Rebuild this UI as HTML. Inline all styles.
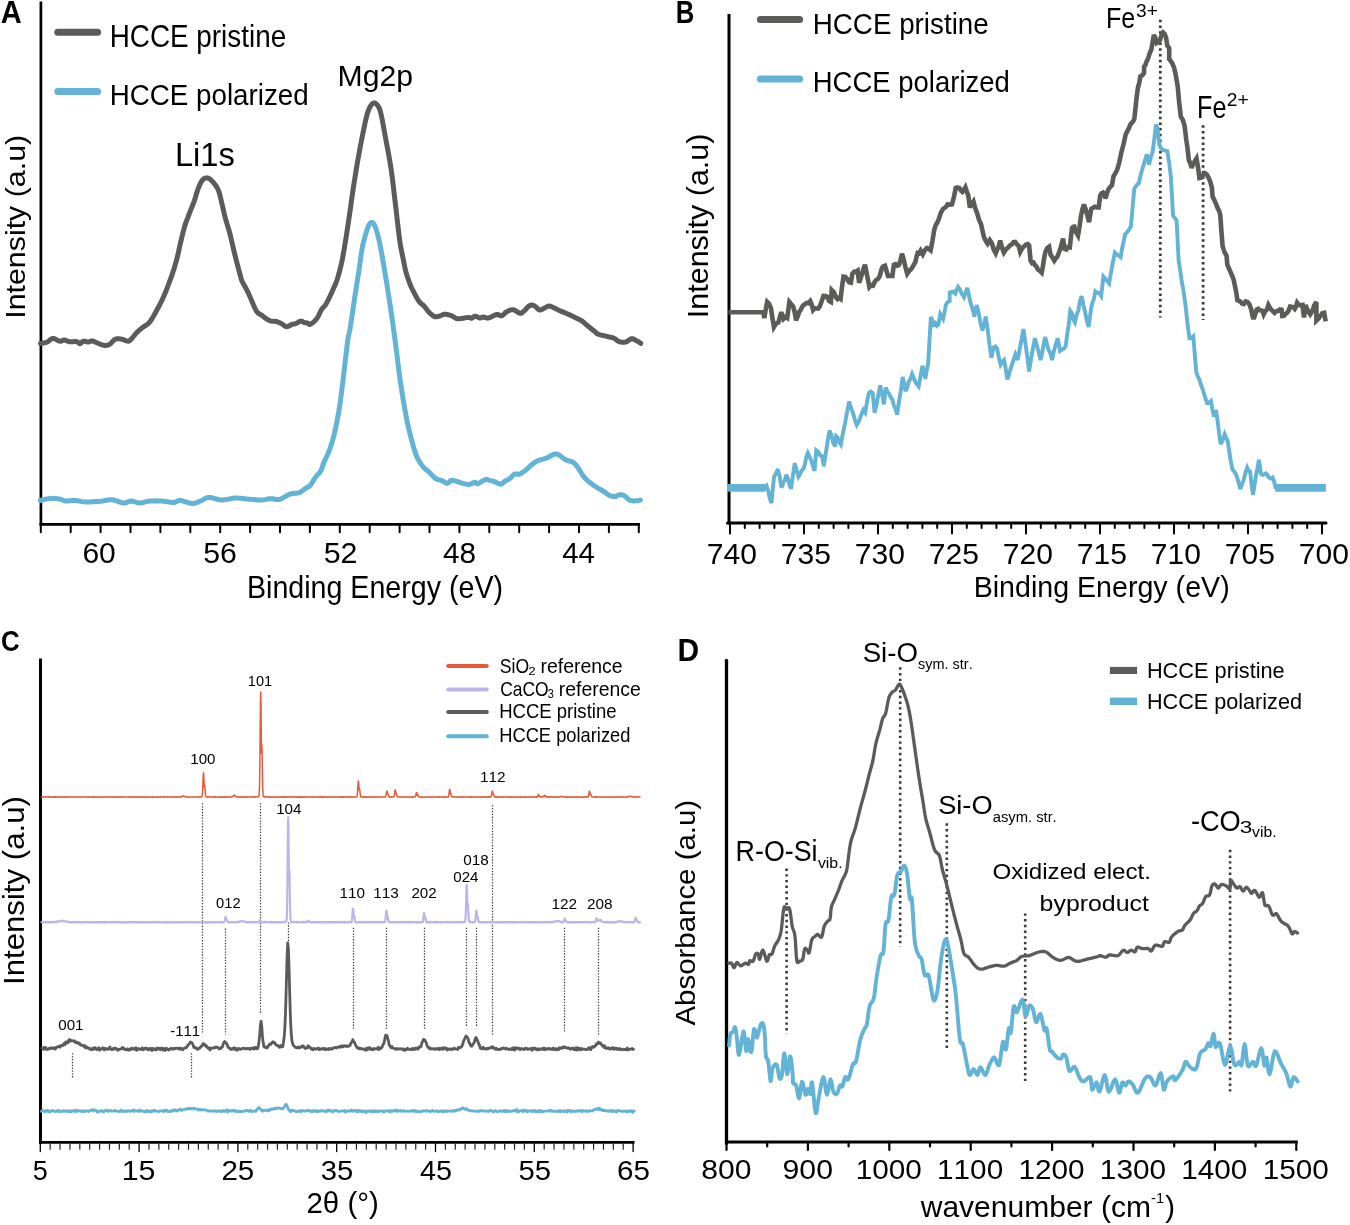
<!DOCTYPE html>
<html><head><meta charset="utf-8"><title>Figure</title>
<style>
html,body{margin:0;padding:0;background:#fff;}
svg{display:block;}
svg text{font-family:"Liberation Sans", sans-serif;font-kerning:none;font-variant-ligatures:none;}
svg{will-change:transform;}
</style></head>
<body>
<svg width="1350" height="1225" viewBox="0 0 1350 1225">
<rect width="1350" height="1225" fill="#fff"/>
<line x1="40.90" y1="1.50" x2="40.90" y2="525.60" stroke="#000" stroke-width="2.70" stroke-linecap="butt"/>
<line x1="39.60" y1="524.30" x2="640.00" y2="524.30" stroke="#000" stroke-width="2.70" stroke-linecap="butt"/>
<line x1="40.80" y1="524.30" x2="40.80" y2="532.20" stroke="#000" stroke-width="2.00" stroke-linecap="round"/>
<line x1="70.70" y1="524.30" x2="70.70" y2="532.20" stroke="#000" stroke-width="2.00" stroke-linecap="round"/>
<line x1="100.60" y1="524.30" x2="100.60" y2="532.20" stroke="#000" stroke-width="2.00" stroke-linecap="round"/>
<line x1="130.50" y1="524.30" x2="130.50" y2="532.20" stroke="#000" stroke-width="2.00" stroke-linecap="round"/>
<line x1="160.40" y1="524.30" x2="160.40" y2="532.20" stroke="#000" stroke-width="2.00" stroke-linecap="round"/>
<line x1="190.30" y1="524.30" x2="190.30" y2="532.20" stroke="#000" stroke-width="2.00" stroke-linecap="round"/>
<line x1="220.20" y1="524.30" x2="220.20" y2="532.20" stroke="#000" stroke-width="2.00" stroke-linecap="round"/>
<line x1="250.10" y1="524.30" x2="250.10" y2="532.20" stroke="#000" stroke-width="2.00" stroke-linecap="round"/>
<line x1="280.00" y1="524.30" x2="280.00" y2="532.20" stroke="#000" stroke-width="2.00" stroke-linecap="round"/>
<line x1="309.90" y1="524.30" x2="309.90" y2="532.20" stroke="#000" stroke-width="2.00" stroke-linecap="round"/>
<line x1="339.80" y1="524.30" x2="339.80" y2="532.20" stroke="#000" stroke-width="2.00" stroke-linecap="round"/>
<line x1="369.70" y1="524.30" x2="369.70" y2="532.20" stroke="#000" stroke-width="2.00" stroke-linecap="round"/>
<line x1="399.60" y1="524.30" x2="399.60" y2="532.20" stroke="#000" stroke-width="2.00" stroke-linecap="round"/>
<line x1="429.50" y1="524.30" x2="429.50" y2="532.20" stroke="#000" stroke-width="2.00" stroke-linecap="round"/>
<line x1="459.40" y1="524.30" x2="459.40" y2="532.20" stroke="#000" stroke-width="2.00" stroke-linecap="round"/>
<line x1="489.30" y1="524.30" x2="489.30" y2="532.20" stroke="#000" stroke-width="2.00" stroke-linecap="round"/>
<line x1="519.20" y1="524.30" x2="519.20" y2="532.20" stroke="#000" stroke-width="2.00" stroke-linecap="round"/>
<line x1="549.10" y1="524.30" x2="549.10" y2="532.20" stroke="#000" stroke-width="2.00" stroke-linecap="round"/>
<line x1="579.00" y1="524.30" x2="579.00" y2="532.20" stroke="#000" stroke-width="2.00" stroke-linecap="round"/>
<line x1="608.90" y1="524.30" x2="608.90" y2="532.20" stroke="#000" stroke-width="2.00" stroke-linecap="round"/>
<line x1="638.80" y1="524.30" x2="638.80" y2="532.20" stroke="#000" stroke-width="2.00" stroke-linecap="round"/>
<text transform="translate(82.38,563.40) scale(1.0277,1)" x="0.00" y="0" font-size="29.22" fill="#000">60</text>
<text transform="translate(203.29,563.40) scale(1.0352,1)" x="0.00" y="0" font-size="29.22" fill="#000">56</text>
<text transform="translate(323.68,563.40) scale(1.0416,1)" x="0.00" y="0" font-size="29.22" fill="#000">52</text>
<text transform="translate(442.92,563.40) scale(1.0178,1)" x="0.00" y="0" font-size="29.22" fill="#000">48</text>
<text transform="translate(562.13,563.40) scale(1.0042,1)" x="0.00" y="0" font-size="29.22" fill="#000">44</text>
<text transform="translate(246.95,597.80) scale(0.9332,1)" x="0.00" y="0" font-size="30.67" fill="#000">Binding Energy (eV)</text>
<text transform="translate(25.30,316.00) rotate(-90) scale(1.0660,1)" x="-2.63" y="0" font-size="28.49" fill="#000">Intensity (a.u)</text>
<text transform="translate(0.78,23.10) scale(0.9522,1)" x="0.00" y="0" font-size="30.52" font-weight="bold" fill="#000">A</text>
<line x1="57.80" y1="32.30" x2="97.60" y2="32.30" stroke="#5b5b5a" stroke-width="7.00" stroke-linecap="round"/>
<line x1="57.80" y1="91.40" x2="97.60" y2="91.40" stroke="#63b3d7" stroke-width="7.00" stroke-linecap="round"/>
<text transform="translate(109.71,46.60) scale(0.9000,1)" x="0.00" y="0" font-size="30.96" fill="#000">HCCE pristine</text>
<text transform="translate(109.72,105.00) scale(0.9273,1)" x="0.00" y="0" font-size="29.94" fill="#000">HCCE polarized</text>
<text transform="translate(174.92,166.00) scale(1.0039,1)" x="0.00" y="0" font-size="32.56" fill="#000">Li1s</text>
<text transform="translate(337.53,85.80) scale(1.0272,1)" x="0.00" y="0" font-size="29.36" fill="#000">Mg2p</text>
<path d="M40.50,343.50 L40.67,343.48 L40.88,343.46 L41.14,343.42 L41.47,343.38 L41.89,343.31 L42.40,343.20 L43.03,343.08 L43.78,342.96 L44.61,342.81 L45.50,342.61 L46.40,342.35 L47.30,342.00 L48.19,341.46 L49.11,340.74 L50.04,339.95 L51.00,339.21 L51.99,338.66 L53.00,338.40 L54.07,338.54 L55.20,339.01 L56.35,339.65 L57.49,340.33 L58.59,340.89 L59.60,341.20 L60.52,341.20 L61.36,340.99 L62.16,340.67 L62.93,340.33 L63.70,340.08 L64.50,340.00 L65.29,340.14 L66.04,340.41 L66.80,340.77 L67.59,341.15 L68.44,341.48 L69.40,341.70 L70.52,341.78 L71.80,341.75 L73.15,341.68 L74.47,341.61 L75.69,341.60 L76.70,341.70 L77.48,341.97 L78.10,342.39 L78.60,342.86 L79.05,343.29 L79.50,343.60 L80.00,343.70 L80.53,343.51 L81.04,343.08 L81.55,342.53 L82.08,341.96 L82.66,341.48 L83.30,341.20 L84.03,341.16 L84.85,341.29 L85.71,341.51 L86.57,341.75 L87.42,341.94 L88.20,342.00 L88.92,341.90 L89.60,341.67 L90.25,341.40 L90.89,341.14 L91.54,340.95 L92.20,340.90 L92.84,341.00 L93.44,341.19 L94.04,341.46 L94.69,341.78 L95.42,342.13 L96.30,342.50 L97.36,342.94 L98.59,343.48 L99.90,344.05 L101.24,344.59 L102.53,345.03 L103.70,345.30 L104.75,345.43 L105.73,345.46 L106.66,345.40 L107.56,345.23 L108.47,344.93 L109.40,344.50 L110.34,343.83 L111.27,342.91 L112.20,341.86 L113.14,340.83 L114.10,339.93 L115.10,339.30 L116.14,338.95 L117.20,338.78 L118.29,338.74 L119.40,338.81 L120.50,338.94 L121.60,339.10 L122.72,339.38 L123.89,339.83 L125.06,340.34 L126.19,340.81 L127.25,341.13 L128.20,341.20 L129.01,341.00 L129.69,340.62 L130.31,340.09 L130.90,339.46 L131.51,338.75 L132.20,338.00 L132.95,337.17 L133.73,336.23 L134.54,335.21 L135.37,334.16 L136.22,333.14 L137.10,332.20 L138.01,331.33 L138.94,330.50 L139.90,329.69 L140.88,328.90 L141.88,328.11 L142.90,327.30 L143.94,326.55 L145.01,325.88 L146.11,325.21 L147.21,324.46 L148.31,323.55 L149.40,322.40 L150.46,321.03 L151.50,319.50 L152.54,317.81 L153.61,315.97 L154.72,313.96 L155.90,311.80 L157.17,309.47 L158.51,306.97 L159.90,304.31 L161.31,301.51 L162.72,298.57 L164.10,295.50 L165.49,292.19 L166.93,288.61 L168.36,284.90 L169.74,281.19 L171.04,277.61 L172.20,274.30 L173.22,271.28 L174.13,268.44 L174.95,265.74 L175.70,263.13 L176.41,260.57 L177.10,258.00 L177.73,255.48 L178.29,253.04 L178.80,250.65 L179.30,248.26 L179.82,245.82 L180.40,243.30 L181.04,240.62 L181.71,237.81 L182.40,234.95 L183.10,232.14 L183.81,229.46 L184.50,227.00 L185.16,224.84 L185.81,222.93 L186.45,221.15 L187.11,219.39 L187.82,217.55 L188.60,215.50 L189.49,213.19 L190.47,210.69 L191.50,208.09 L192.52,205.51 L193.47,203.05 L194.30,200.80 L194.98,198.78 L195.55,196.90 L196.06,195.14 L196.54,193.46 L197.04,191.83 L197.60,190.20 L198.22,188.54 L198.88,186.87 L199.55,185.24 L200.23,183.71 L200.92,182.35 L201.60,181.20 L202.27,180.28 L202.93,179.53 L203.59,178.94 L204.27,178.50 L204.97,178.19 L205.70,178.00 L206.44,177.89 L207.18,177.87 L207.94,177.99 L208.75,178.28 L209.63,178.80 L210.60,179.60 L211.73,180.70 L213.01,182.08 L214.36,183.69 L215.69,185.47 L216.93,187.39 L218.00,189.40 L218.87,191.56 L219.61,193.93 L220.26,196.44 L220.84,199.00 L221.41,201.55 L222.00,204.00 L222.57,206.34 L223.10,208.64 L223.61,210.91 L224.12,213.21 L224.68,215.56 L225.30,218.00 L226.00,220.51 L226.77,223.05 L227.57,225.64 L228.39,228.32 L229.21,231.10 L230.00,234.00 L230.76,237.04 L231.50,240.21 L232.24,243.49 L232.99,246.84 L233.77,250.25 L234.60,253.70 L235.53,257.39 L236.56,261.40 L237.62,265.46 L238.64,269.33 L239.56,272.76 L240.30,275.50 L240.80,277.37 L241.09,278.54 L241.28,279.26 L241.46,279.82 L241.74,280.47 L242.20,281.50 L242.87,282.85 L243.66,284.30 L244.55,285.84 L245.49,287.49 L246.45,289.24 L247.40,291.10 L248.37,293.17 L249.40,295.47 L250.44,297.88 L251.47,300.26 L252.44,302.48 L253.30,304.40 L254.03,306.03 L254.64,307.47 L255.19,308.75 L255.74,309.90 L256.32,310.94 L257.00,311.90 L257.80,312.75 L258.68,313.44 L259.60,314.04 L260.52,314.57 L261.40,315.07 L262.20,315.60 L262.89,316.13 L263.49,316.64 L264.05,317.12 L264.61,317.59 L265.21,318.04 L265.90,318.50 L266.68,318.98 L267.52,319.47 L268.41,319.96 L269.31,320.41 L270.22,320.80 L271.10,321.10 L271.97,321.27 L272.83,321.33 L273.70,321.33 L274.57,321.31 L275.43,321.35 L276.30,321.50 L277.17,321.75 L278.03,322.07 L278.90,322.44 L279.77,322.84 L280.63,323.27 L281.50,323.70 L282.37,324.22 L283.23,324.84 L284.10,325.48 L284.97,326.06 L285.83,326.50 L286.70,326.70 L287.58,326.60 L288.49,326.27 L289.39,325.78 L290.28,325.24 L291.12,324.75 L291.90,324.40 L292.59,324.21 L293.19,324.12 L293.76,324.07 L294.32,324.01 L294.92,323.91 L295.60,323.70 L296.39,323.33 L297.25,322.82 L298.15,322.26 L299.05,321.73 L299.91,321.32 L300.70,321.10 L301.41,321.13 L302.06,321.34 L302.68,321.66 L303.27,322.03 L303.84,322.37 L304.40,322.60 L304.95,322.72 L305.47,322.78 L305.97,322.81 L306.46,322.83 L306.93,322.89 L307.40,323.00 L307.84,323.23 L308.24,323.55 L308.63,323.91 L309.04,324.21 L309.48,324.40 L310.00,324.40 L310.60,324.18 L311.27,323.81 L311.98,323.32 L312.71,322.74 L313.42,322.13 L314.10,321.50 L314.74,320.88 L315.36,320.23 L315.98,319.53 L316.58,318.77 L317.19,317.94 L317.80,317.00 L318.42,315.90 L319.03,314.64 L319.65,313.29 L320.27,311.95 L320.88,310.69 L321.50,309.60 L322.12,308.72 L322.73,308.00 L323.35,307.36 L323.97,306.73 L324.58,306.03 L325.20,305.20 L325.81,304.25 L326.41,303.24 L327.01,302.17 L327.61,301.03 L328.24,299.81 L328.90,298.50 L329.60,297.06 L330.34,295.49 L331.10,293.84 L331.86,292.16 L332.60,290.49 L333.30,288.90 L333.95,287.47 L334.55,286.19 L335.14,284.92 L335.73,283.56 L336.34,281.96 L337.00,280.00 L337.72,277.67 L338.49,275.05 L339.29,272.21 L340.09,269.18 L340.86,266.03 L341.60,262.80 L342.28,259.54 L342.92,256.21 L343.54,252.76 L344.17,249.12 L344.81,245.22 L345.50,241.00 L346.25,236.27 L347.06,231.04 L347.89,225.55 L348.71,220.05 L349.49,214.79 L350.20,210.00 L350.79,205.88 L351.29,202.28 L351.74,198.91 L352.20,195.49 L352.74,191.75 L353.40,187.40 L354.19,182.36 L355.07,176.83 L356.02,170.98 L357.02,164.96 L358.05,158.95 L359.10,153.10 L360.21,147.14 L361.42,140.87 L362.66,134.60 L363.87,128.64 L365.00,123.31 L366.00,118.90 L366.83,115.54 L367.55,112.99 L368.18,111.07 L368.77,109.56 L369.37,108.27 L370.00,107.00 L370.67,105.78 L371.33,104.79 L372.00,104.01 L372.67,103.44 L373.33,103.08 L374.00,102.90 L374.68,102.94 L375.37,103.22 L376.06,103.69 L376.74,104.34 L377.39,105.12 L378.00,106.00 L378.54,106.88 L379.02,107.74 L379.47,108.75 L379.93,110.03 L380.43,111.74 L381.00,114.00 L381.64,116.87 L382.31,120.25 L383.03,124.05 L383.79,128.18 L384.58,132.56 L385.40,137.10 L386.29,141.87 L387.25,146.96 L388.25,152.30 L389.25,157.81 L390.21,163.44 L391.10,169.10 L391.91,174.86 L392.67,180.77 L393.39,186.80 L394.09,192.88 L394.79,198.97 L395.50,205.00 L396.24,211.21 L396.98,217.70 L397.73,224.18 L398.45,230.40 L399.15,236.10 L399.80,241.00 L400.40,244.97 L400.96,248.18 L401.48,250.87 L401.99,253.25 L402.49,255.55 L403.00,258.00 L403.50,260.54 L403.98,263.00 L404.45,265.37 L404.93,267.67 L405.44,269.91 L406.00,272.10 L406.61,274.25 L407.27,276.37 L407.95,278.42 L408.64,280.39 L409.33,282.26 L410.00,284.00 L410.63,285.57 L411.22,286.96 L411.81,288.26 L412.42,289.51 L413.08,290.81 L413.80,292.20 L414.61,293.75 L415.49,295.42 L416.42,297.12 L417.36,298.77 L418.30,300.29 L419.20,301.60 L420.07,302.64 L420.93,303.46 L421.78,304.15 L422.63,304.80 L423.47,305.48 L424.30,306.30 L425.12,307.27 L425.91,308.33 L426.71,309.43 L427.51,310.53 L428.33,311.57 L429.20,312.50 L430.12,313.37 L431.10,314.24 L432.09,315.04 L433.09,315.75 L434.07,316.32 L435.00,316.70 L435.88,316.85 L436.73,316.80 L437.55,316.61 L438.36,316.34 L439.18,316.05 L440.00,315.80 L440.81,315.54 L441.60,315.20 L442.39,314.84 L443.21,314.52 L444.07,314.29 L445.00,314.20 L446.03,314.27 L447.14,314.45 L448.30,314.72 L449.47,315.05 L450.62,315.42 L451.70,315.80 L452.66,316.26 L453.51,316.82 L454.34,317.43 L455.23,317.99 L456.25,318.44 L457.50,318.70 L459.10,318.71 L461.00,318.53 L463.05,318.23 L465.06,317.90 L466.87,317.63 L468.30,317.50 L469.30,317.55 L469.99,317.73 L470.47,317.96 L470.85,318.17 L471.22,318.31 L471.70,318.30 L472.24,318.07 L472.74,317.67 L473.25,317.19 L473.78,316.72 L474.35,316.36 L475.00,316.20 L475.75,316.31 L476.60,316.61 L477.50,317.03 L478.40,317.46 L479.25,317.82 L480.00,318.00 L480.63,317.97 L481.16,317.80 L481.65,317.55 L482.14,317.29 L482.67,317.08 L483.30,317.00 L484.00,317.10 L484.71,317.35 L485.48,317.66 L486.32,317.93 L487.25,318.07 L488.30,318.00 L489.54,317.62 L490.97,316.99 L492.50,316.23 L494.03,315.48 L495.46,314.86 L496.70,314.50 L497.73,314.50 L498.62,314.78 L499.41,315.19 L500.16,315.59 L500.91,315.84 L501.70,315.80 L502.51,315.40 L503.31,314.76 L504.10,313.96 L504.91,313.11 L505.77,312.32 L506.70,311.70 L507.71,311.18 L508.78,310.67 L509.89,310.22 L511.03,309.87 L512.18,309.68 L513.30,309.70 L514.44,310.05 L515.62,310.71 L516.80,311.53 L517.95,312.34 L519.03,312.99 L520.00,313.30 L520.83,313.27 L521.53,313.03 L522.16,312.62 L522.77,312.08 L523.44,311.46 L524.20,310.80 L525.08,309.98 L526.04,308.95 L527.05,307.84 L528.07,306.77 L529.06,305.88 L530.00,305.30 L530.88,305.05 L531.73,305.02 L532.55,305.17 L533.36,305.45 L534.18,305.81 L535.00,306.20 L535.80,306.75 L536.54,307.53 L537.29,308.39 L538.09,309.19 L538.98,309.77 L540.00,310.00 L541.23,309.75 L542.64,309.11 L544.15,308.26 L545.66,307.37 L547.07,306.63 L548.30,306.20 L549.30,306.10 L550.15,306.18 L550.90,306.41 L551.63,306.73 L552.41,307.11 L553.30,307.50 L554.30,307.93 L555.35,308.45 L556.44,309.02 L557.59,309.62 L558.77,310.22 L560.00,310.80 L561.29,311.35 L562.64,311.90 L564.04,312.45 L565.47,313.01 L566.89,313.59 L568.30,314.20 L569.73,314.86 L571.22,315.57 L572.71,316.31 L574.15,317.03 L575.50,317.70 L576.70,318.30 L577.73,318.79 L578.62,319.19 L579.41,319.54 L580.16,319.90 L580.91,320.30 L581.70,320.80 L582.50,321.37 L583.24,321.98 L583.99,322.64 L584.79,323.35 L585.68,324.14 L586.70,325.00 L587.95,326.02 L589.41,327.20 L590.96,328.46 L592.48,329.69 L593.87,330.80 L595.00,331.70 L595.76,332.36 L596.22,332.84 L596.54,333.21 L596.89,333.52 L597.42,333.83 L598.30,334.20 L599.63,334.63 L601.29,335.07 L603.14,335.51 L605.02,335.93 L606.79,336.34 L608.30,336.70 L609.53,337.00 L610.60,337.23 L611.56,337.44 L612.45,337.67 L613.32,337.94 L614.20,338.30 L615.07,338.80 L615.87,339.41 L616.66,340.08 L617.45,340.73 L618.28,341.29 L619.20,341.70 L620.22,341.97 L621.31,342.16 L622.44,342.27 L623.59,342.28 L624.72,342.19 L625.80,342.00 L626.83,341.60 L627.85,340.97 L628.85,340.24 L629.83,339.53 L630.78,338.98 L631.70,338.70 L632.60,338.73 L633.47,338.99 L634.31,339.39 L635.13,339.87 L635.93,340.36 L636.70,340.80 L637.48,341.22 L638.29,341.70 L639.06,342.18 L639.77,342.64 L640.36,343.02 L640.80,343.30" fill="none" stroke="#5b5b5a" stroke-width="5.00" stroke-linejoin="round" stroke-linecap="round"/>
<path d="M40.30,500.50 L41.40,500.24 L42.92,499.85 L44.72,499.40 L46.66,498.96 L48.60,498.61 L50.40,498.40 L52.14,498.35 L53.96,498.41 L55.77,498.56 L57.51,498.75 L59.11,498.98 L60.50,499.20 L61.57,499.47 L62.36,499.81 L63.00,500.18 L63.64,500.53 L64.43,500.82 L65.50,501.00 L66.89,501.03 L68.49,500.93 L70.24,500.77 L72.05,500.60 L73.86,500.49 L75.60,500.50 L77.21,500.66 L78.75,500.94 L80.28,501.27 L81.89,501.60 L83.63,501.86 L85.60,502.00 L87.88,502.01 L90.43,501.93 L93.12,501.79 L95.84,501.60 L98.44,501.40 L100.80,501.20 L102.90,500.93 L104.82,500.57 L106.64,500.19 L108.40,499.87 L110.17,499.68 L112.00,499.70 L113.93,500.03 L115.93,500.64 L117.93,501.38 L119.87,502.11 L121.72,502.70 L123.40,503.00 L124.87,502.93 L126.17,502.58 L127.36,502.08 L128.52,501.57 L129.71,501.16 L131.00,501.00 L132.38,501.15 L133.80,501.52 L135.24,502.00 L136.73,502.48 L138.24,502.85 L139.80,503.00 L141.37,502.87 L142.93,502.55 L144.54,502.11 L146.21,501.65 L147.99,501.25 L149.90,501.00 L152.03,500.89 L154.36,500.86 L156.80,500.89 L159.24,500.97 L161.57,501.08 L163.70,501.20 L165.64,501.39 L167.48,501.67 L169.22,501.99 L170.85,502.27 L172.38,502.46 L173.80,502.50 L175.00,502.30 L175.95,501.89 L176.79,501.39 L177.67,500.92 L178.73,500.58 L180.10,500.50 L181.88,500.78 L183.97,501.35 L186.24,502.06 L188.55,502.76 L190.75,503.29 L192.70,503.50 L194.40,503.35 L195.96,502.95 L197.42,502.38 L198.80,501.73 L200.15,501.08 L201.50,500.50 L202.77,499.92 L203.90,499.26 L205.01,498.60 L206.16,498.01 L207.46,497.59 L209.00,497.40 L210.80,497.56 L212.81,498.01 L214.96,498.63 L217.19,499.26 L219.46,499.77 L221.70,500.00 L223.94,499.90 L226.21,499.56 L228.52,499.09 L230.85,498.60 L233.18,498.20 L235.50,498.00 L237.83,498.02 L240.17,498.18 L242.53,498.42 L244.86,498.71 L247.16,498.99 L249.40,499.20 L251.62,499.38 L253.84,499.57 L256.02,499.76 L258.13,499.90 L260.13,499.99 L262.00,500.00 L263.69,499.88 L265.21,499.65 L266.64,499.36 L268.01,499.06 L269.38,498.83 L270.80,498.70 L272.25,498.77 L273.69,499.00 L275.12,499.29 L276.57,499.53 L278.06,499.60 L279.60,499.40 L281.22,498.83 L282.92,497.96 L284.65,496.93 L286.38,495.86 L288.08,494.91 L289.70,494.20 L291.30,493.76 L292.93,493.50 L294.51,493.34 L296.01,493.23 L297.36,493.11 L298.50,492.90 L299.39,492.63 L300.04,492.35 L300.56,492.05 L301.00,491.73 L301.45,491.38 L302.00,491.00 L302.62,490.57 L303.25,490.11 L303.89,489.61 L304.54,489.10 L305.21,488.59 L305.90,488.10 L306.61,487.68 L307.33,487.33 L308.07,486.98 L308.83,486.56 L309.60,485.99 L310.40,485.20 L311.23,484.11 L312.09,482.77 L312.96,481.29 L313.85,479.76 L314.73,478.29 L315.60,477.00 L316.48,475.91 L317.39,474.94 L318.29,474.04 L319.16,473.14 L319.97,472.18 L320.70,471.10 L321.29,469.94 L321.75,468.76 L322.15,467.52 L322.56,466.17 L323.06,464.68 L323.70,463.00 L324.53,461.09 L325.50,458.98 L326.56,456.72 L327.63,454.37 L328.66,451.98 L329.60,449.60 L330.44,447.25 L331.23,444.88 L331.99,442.48 L332.71,440.01 L333.41,437.46 L334.10,434.80 L334.77,432.02 L335.42,429.13 L336.04,426.16 L336.65,423.13 L337.23,420.07 L337.80,417.00 L338.33,414.06 L338.81,411.27 L339.28,408.45 L339.75,405.41 L340.25,401.99 L340.80,398.00 L341.42,393.22 L342.10,387.74 L342.80,381.88 L343.50,375.93 L344.18,370.20 L344.80,365.00 L345.36,360.22 L345.90,355.60 L346.40,351.19 L346.88,347.08 L347.35,343.33 L347.80,340.00 L348.21,337.46 L348.56,335.71 L348.90,334.32 L349.26,332.86 L349.68,330.86 L350.20,327.90 L350.85,323.76 L351.60,318.74 L352.41,313.19 L353.24,307.47 L354.05,301.93 L354.80,296.90 L355.50,292.37 L356.18,288.06 L356.84,283.93 L357.49,279.91 L358.10,275.99 L358.70,272.10 L359.27,268.18 L359.81,264.24 L360.32,260.39 L360.83,256.71 L361.32,253.32 L361.80,250.30 L362.26,247.75 L362.70,245.61 L363.12,243.75 L363.56,242.03 L364.01,240.33 L364.50,238.50 L365.04,236.50 L365.60,234.42 L366.19,232.36 L366.80,230.39 L367.40,228.61 L368.00,227.10 L368.60,225.83 L369.20,224.72 L369.81,223.79 L370.41,223.08 L371.01,222.61 L371.60,222.40 L372.17,222.44 L372.73,222.72 L373.28,223.23 L373.84,223.99 L374.41,225.01 L375.00,226.30 L375.62,227.88 L376.26,229.75 L376.92,231.88 L377.58,234.24 L378.24,236.79 L378.90,239.50 L379.54,242.37 L380.17,245.43 L380.81,248.68 L381.45,252.14 L382.11,255.81 L382.80,259.70 L383.53,263.87 L384.28,268.31 L385.05,272.98 L385.83,277.79 L386.62,282.68 L387.40,287.60 L388.18,292.59 L388.98,297.73 L389.78,302.94 L390.57,308.20 L391.35,313.43 L392.10,318.60 L392.83,323.76 L393.55,328.98 L394.25,334.18 L394.93,339.29 L395.58,344.25 L396.20,349.00 L396.78,353.54 L397.31,357.92 L397.82,362.15 L398.31,366.24 L398.80,370.19 L399.30,374.00 L399.81,377.67 L400.32,381.19 L400.83,384.56 L401.33,387.81 L401.82,390.96 L402.30,394.00 L402.76,396.90 L403.21,399.63 L403.64,402.26 L404.08,404.82 L404.53,407.39 L405.00,410.00 L405.48,412.63 L405.95,415.24 L406.44,417.84 L406.95,420.46 L407.50,423.14 L408.10,425.90 L408.77,428.81 L409.50,431.86 L410.27,434.96 L411.06,438.03 L411.84,440.97 L412.60,443.70 L413.32,446.22 L414.01,448.60 L414.71,450.86 L415.42,453.00 L416.18,455.04 L417.00,457.00 L417.91,458.88 L418.89,460.67 L419.91,462.36 L420.95,463.93 L421.99,465.39 L423.00,466.70 L423.98,467.81 L424.94,468.71 L425.91,469.49 L426.88,470.23 L427.87,471.00 L428.90,471.90 L429.97,472.97 L431.08,474.16 L432.21,475.39 L433.34,476.57 L434.48,477.64 L435.60,478.50 L436.72,479.12 L437.86,479.54 L438.99,479.84 L440.11,480.09 L441.18,480.36 L442.20,480.70 L443.17,481.19 L444.09,481.77 L444.98,482.37 L445.83,482.90 L446.64,483.27 L447.40,483.40 L448.08,483.18 L448.66,482.67 L449.21,482.00 L449.76,481.31 L450.37,480.73 L451.10,480.40 L451.95,480.34 L452.90,480.43 L453.91,480.64 L454.94,480.92 L455.99,481.22 L457.00,481.50 L457.99,481.78 L458.97,482.11 L459.96,482.46 L460.95,482.80 L461.96,483.13 L463.00,483.40 L464.08,483.66 L465.21,483.92 L466.35,484.16 L467.48,484.34 L468.57,484.43 L469.60,484.40 L470.57,484.18 L471.52,483.77 L472.43,483.27 L473.28,482.78 L474.08,482.39 L474.80,482.20 L475.38,482.30 L475.80,482.63 L476.16,483.07 L476.56,483.48 L477.07,483.73 L477.80,483.70 L478.81,483.28 L480.04,482.56 L481.39,481.69 L482.76,480.80 L484.07,480.06 L485.20,479.60 L486.15,479.46 L487.00,479.52 L487.77,479.72 L488.51,479.99 L489.24,480.27 L490.00,480.50 L490.76,480.67 L491.49,480.83 L492.21,481.00 L492.95,481.19 L493.74,481.42 L494.60,481.70 L495.58,482.11 L496.66,482.64 L497.79,483.22 L498.91,483.73 L499.96,484.09 L500.90,484.20 L501.69,484.00 L502.38,483.55 L503.01,482.95 L503.61,482.28 L504.23,481.64 L504.90,481.10 L505.62,480.70 L506.37,480.36 L507.12,480.04 L507.90,479.71 L508.69,479.31 L509.50,478.80 L510.34,478.11 L511.21,477.27 L512.10,476.36 L512.99,475.48 L513.86,474.73 L514.70,474.20 L515.48,473.98 L516.21,474.01 L516.93,474.16 L517.66,474.33 L518.44,474.38 L519.30,474.20 L520.26,473.78 L521.30,473.21 L522.38,472.53 L523.48,471.77 L524.57,470.98 L525.60,470.20 L526.58,469.39 L527.52,468.52 L528.45,467.61 L529.38,466.70 L530.32,465.82 L531.30,465.00 L532.28,464.23 L533.25,463.48 L534.23,462.76 L535.26,462.07 L536.38,461.41 L537.60,460.80 L538.99,460.25 L540.51,459.77 L542.12,459.32 L543.75,458.89 L545.33,458.42 L546.80,457.90 L548.18,457.26 L549.53,456.53 L550.84,455.76 L552.08,455.05 L553.24,454.47 L554.30,454.10 L555.21,453.93 L555.96,453.90 L556.64,454.01 L557.30,454.23 L558.03,454.56 L558.90,455.00 L559.92,455.62 L561.03,456.44 L562.21,457.37 L563.41,458.32 L564.62,459.19 L565.80,459.90 L566.98,460.40 L568.19,460.74 L569.39,461.02 L570.57,461.29 L571.68,461.63 L572.70,462.10 L573.57,462.66 L574.32,463.24 L575.01,463.89 L575.69,464.65 L576.43,465.57 L577.30,466.70 L578.30,468.15 L579.40,469.89 L580.56,471.79 L581.74,473.72 L582.94,475.54 L584.10,477.10 L585.24,478.41 L586.39,479.57 L587.54,480.61 L588.70,481.58 L589.85,482.50 L591.00,483.40 L592.16,484.28 L593.34,485.10 L594.52,485.88 L595.68,486.62 L596.81,487.32 L597.90,488.00 L598.93,488.63 L599.92,489.20 L600.88,489.74 L601.81,490.27 L602.75,490.81 L603.70,491.40 L604.66,492.06 L605.61,492.79 L606.56,493.54 L607.50,494.25 L608.45,494.89 L609.40,495.40 L610.38,495.80 L611.38,496.11 L612.39,496.36 L613.36,496.52 L614.28,496.60 L615.10,496.60 L615.79,496.46 L616.37,496.17 L616.88,495.79 L617.39,495.41 L617.94,495.09 L618.60,494.90 L619.36,494.81 L620.17,494.74 L621.02,494.74 L621.92,494.83 L622.85,495.04 L623.80,495.40 L624.78,496.01 L625.80,496.87 L626.84,497.85 L627.91,498.83 L629.00,499.69 L630.10,500.30 L631.26,500.65 L632.49,500.84 L633.73,500.91 L634.94,500.89 L636.05,500.84 L637.00,500.80 L637.81,500.73 L638.52,500.60 L639.13,500.43 L639.65,500.26 L640.07,500.10 L640.40,500.00" fill="none" stroke="#63b3d7" stroke-width="5.00" stroke-linejoin="round" stroke-linecap="round"/>
<line x1="729.00" y1="13.90" x2="729.00" y2="524.50" stroke="#000" stroke-width="3.00" stroke-linecap="butt"/>
<line x1="727.50" y1="523.00" x2="1326.00" y2="523.00" stroke="#000" stroke-width="3.00" stroke-linecap="round"/>
<line x1="730.00" y1="523.00" x2="730.00" y2="533.50" stroke="#000" stroke-width="2.00" stroke-linecap="round"/>
<line x1="744.80" y1="523.00" x2="744.80" y2="528.00" stroke="#000" stroke-width="2.00" stroke-linecap="round"/>
<line x1="759.60" y1="523.00" x2="759.60" y2="528.00" stroke="#000" stroke-width="2.00" stroke-linecap="round"/>
<line x1="774.40" y1="523.00" x2="774.40" y2="528.00" stroke="#000" stroke-width="2.00" stroke-linecap="round"/>
<line x1="789.20" y1="523.00" x2="789.20" y2="528.00" stroke="#000" stroke-width="2.00" stroke-linecap="round"/>
<line x1="804.00" y1="523.00" x2="804.00" y2="533.50" stroke="#000" stroke-width="2.00" stroke-linecap="round"/>
<line x1="818.80" y1="523.00" x2="818.80" y2="528.00" stroke="#000" stroke-width="2.00" stroke-linecap="round"/>
<line x1="833.60" y1="523.00" x2="833.60" y2="528.00" stroke="#000" stroke-width="2.00" stroke-linecap="round"/>
<line x1="848.40" y1="523.00" x2="848.40" y2="528.00" stroke="#000" stroke-width="2.00" stroke-linecap="round"/>
<line x1="863.20" y1="523.00" x2="863.20" y2="528.00" stroke="#000" stroke-width="2.00" stroke-linecap="round"/>
<line x1="878.00" y1="523.00" x2="878.00" y2="533.50" stroke="#000" stroke-width="2.00" stroke-linecap="round"/>
<line x1="892.80" y1="523.00" x2="892.80" y2="528.00" stroke="#000" stroke-width="2.00" stroke-linecap="round"/>
<line x1="907.60" y1="523.00" x2="907.60" y2="528.00" stroke="#000" stroke-width="2.00" stroke-linecap="round"/>
<line x1="922.40" y1="523.00" x2="922.40" y2="528.00" stroke="#000" stroke-width="2.00" stroke-linecap="round"/>
<line x1="937.20" y1="523.00" x2="937.20" y2="528.00" stroke="#000" stroke-width="2.00" stroke-linecap="round"/>
<line x1="952.00" y1="523.00" x2="952.00" y2="533.50" stroke="#000" stroke-width="2.00" stroke-linecap="round"/>
<line x1="966.80" y1="523.00" x2="966.80" y2="528.00" stroke="#000" stroke-width="2.00" stroke-linecap="round"/>
<line x1="981.60" y1="523.00" x2="981.60" y2="528.00" stroke="#000" stroke-width="2.00" stroke-linecap="round"/>
<line x1="996.40" y1="523.00" x2="996.40" y2="528.00" stroke="#000" stroke-width="2.00" stroke-linecap="round"/>
<line x1="1011.20" y1="523.00" x2="1011.20" y2="528.00" stroke="#000" stroke-width="2.00" stroke-linecap="round"/>
<line x1="1026.00" y1="523.00" x2="1026.00" y2="533.50" stroke="#000" stroke-width="2.00" stroke-linecap="round"/>
<line x1="1040.80" y1="523.00" x2="1040.80" y2="528.00" stroke="#000" stroke-width="2.00" stroke-linecap="round"/>
<line x1="1055.60" y1="523.00" x2="1055.60" y2="528.00" stroke="#000" stroke-width="2.00" stroke-linecap="round"/>
<line x1="1070.40" y1="523.00" x2="1070.40" y2="528.00" stroke="#000" stroke-width="2.00" stroke-linecap="round"/>
<line x1="1085.20" y1="523.00" x2="1085.20" y2="528.00" stroke="#000" stroke-width="2.00" stroke-linecap="round"/>
<line x1="1100.00" y1="523.00" x2="1100.00" y2="533.50" stroke="#000" stroke-width="2.00" stroke-linecap="round"/>
<line x1="1114.80" y1="523.00" x2="1114.80" y2="528.00" stroke="#000" stroke-width="2.00" stroke-linecap="round"/>
<line x1="1129.60" y1="523.00" x2="1129.60" y2="528.00" stroke="#000" stroke-width="2.00" stroke-linecap="round"/>
<line x1="1144.40" y1="523.00" x2="1144.40" y2="528.00" stroke="#000" stroke-width="2.00" stroke-linecap="round"/>
<line x1="1159.20" y1="523.00" x2="1159.20" y2="528.00" stroke="#000" stroke-width="2.00" stroke-linecap="round"/>
<line x1="1174.00" y1="523.00" x2="1174.00" y2="533.50" stroke="#000" stroke-width="2.00" stroke-linecap="round"/>
<line x1="1188.80" y1="523.00" x2="1188.80" y2="528.00" stroke="#000" stroke-width="2.00" stroke-linecap="round"/>
<line x1="1203.60" y1="523.00" x2="1203.60" y2="528.00" stroke="#000" stroke-width="2.00" stroke-linecap="round"/>
<line x1="1218.40" y1="523.00" x2="1218.40" y2="528.00" stroke="#000" stroke-width="2.00" stroke-linecap="round"/>
<line x1="1233.20" y1="523.00" x2="1233.20" y2="528.00" stroke="#000" stroke-width="2.00" stroke-linecap="round"/>
<line x1="1248.00" y1="523.00" x2="1248.00" y2="533.50" stroke="#000" stroke-width="2.00" stroke-linecap="round"/>
<line x1="1262.80" y1="523.00" x2="1262.80" y2="528.00" stroke="#000" stroke-width="2.00" stroke-linecap="round"/>
<line x1="1277.60" y1="523.00" x2="1277.60" y2="528.00" stroke="#000" stroke-width="2.00" stroke-linecap="round"/>
<line x1="1292.40" y1="523.00" x2="1292.40" y2="528.00" stroke="#000" stroke-width="2.00" stroke-linecap="round"/>
<line x1="1307.20" y1="523.00" x2="1307.20" y2="528.00" stroke="#000" stroke-width="2.00" stroke-linecap="round"/>
<line x1="1322.00" y1="523.00" x2="1322.00" y2="533.50" stroke="#000" stroke-width="2.00" stroke-linecap="round"/>
<text transform="translate(706.76,563.60) scale(1.0434,1)" x="0.00" y="0" font-size="28.79" fill="#000">740</text>
<text transform="translate(780.76,563.60) scale(1.0453,1)" x="0.00" y="0" font-size="28.79" fill="#000">735</text>
<text transform="translate(854.76,563.60) scale(1.0434,1)" x="0.00" y="0" font-size="28.79" fill="#000">730</text>
<text transform="translate(928.76,563.60) scale(1.0453,1)" x="0.00" y="0" font-size="28.79" fill="#000">725</text>
<text transform="translate(1002.76,563.60) scale(1.0434,1)" x="0.00" y="0" font-size="28.79" fill="#000">720</text>
<text transform="translate(1076.76,563.60) scale(1.0453,1)" x="0.00" y="0" font-size="28.79" fill="#000">715</text>
<text transform="translate(1150.76,563.60) scale(1.0434,1)" x="0.00" y="0" font-size="28.79" fill="#000">710</text>
<text transform="translate(1224.76,563.60) scale(1.0453,1)" x="0.00" y="0" font-size="28.79" fill="#000">705</text>
<text transform="translate(1298.76,563.60) scale(1.0434,1)" x="0.00" y="0" font-size="28.79" fill="#000">700</text>
<text transform="translate(973.65,596.80) scale(0.9421,1)" x="0.00" y="0" font-size="30.38" fill="#000">Binding Energy (eV)</text>
<text transform="translate(707.60,315.40) rotate(-90) scale(1.0648,1)" x="-2.64" y="0" font-size="28.63" fill="#000">Intensity (a.u)</text>
<text transform="translate(675.68,22.80) scale(0.8315,1)" x="0.00" y="0" font-size="30.96" font-weight="bold" fill="#000">B</text>
<line x1="760.40" y1="19.40" x2="799.60" y2="19.40" stroke="#5b5b5a" stroke-width="7.00" stroke-linecap="round"/>
<line x1="760.40" y1="78.90" x2="799.60" y2="78.90" stroke="#63b3d7" stroke-width="7.00" stroke-linecap="round"/>
<text transform="translate(812.72,33.90) scale(0.9463,1)" x="0.00" y="0" font-size="29.36" fill="#000">HCCE pristine</text>
<text transform="translate(812.74,92.40) scale(0.9411,1)" x="0.00" y="0" font-size="29.22" fill="#000">HCCE polarized</text>
<text transform="translate(1105.93,28.00) scale(0.8369,1)" x="0.00" y="0" font-size="30.09" fill="#000">Fe</text>
<text transform="translate(1136.07,16.60) scale(1.0306,1)" x="0.00" y="0" font-size="18.62" fill="#000">3+</text>
<text transform="translate(1197.03,117.70) scale(0.8249,1)" x="0.00" y="0" font-size="30.52" fill="#000">Fe</text>
<text transform="translate(1226.83,105.80) scale(1.1001,1)" x="0.00" y="0" font-size="17.47" fill="#000">2+</text>
<line x1="1160.30" y1="19.80" x2="1160.30" y2="317.50" stroke="#3a3a3a" stroke-width="2.80" stroke-linecap="butt" stroke-dasharray="2.5 3.2"/>
<line x1="1203.10" y1="125.30" x2="1203.10" y2="320.00" stroke="#3a3a3a" stroke-width="2.80" stroke-linecap="butt" stroke-dasharray="2.5 3.2"/>
<path d="M728.50,312.20 L763.50,312.20 L764.30,318.10 L765.75,309.44 L767.20,301.90 L769.05,303.73 L770.90,307.80 L772.40,317.88 L773.90,327.00 L776.10,323.43 L778.30,322.60 L779.80,317.51 L781.30,312.20 L782.40,315.12 L783.50,318.90 L785.35,317.09 L787.20,318.10 L789.40,301.90 L791.25,304.12 L793.10,306.30 L794.60,311.87 L796.10,320.40 L797.60,316.72 L799.10,312.09 L800.60,310.00 L802.80,305.74 L805.00,304.10 L806.73,302.86 L808.47,303.15 L810.20,301.10 L811.65,304.35 L813.10,310.00 L814.77,308.19 L816.45,308.56 L818.12,308.66 L819.80,306.30 L821.65,301.35 L823.50,295.90 L825.35,295.97 L827.20,296.70 L829.05,300.82 L830.90,301.90 L831.70,290.00 L833.90,292.25 L836.10,297.40 L837.60,299.05 L839.10,297.73 L840.60,298.90 L842.05,286.66 L843.50,276.70 L845.35,276.95 L847.20,279.04 L849.05,282.14 L850.90,282.60 L852.40,273.70 L854.13,271.68 L855.87,271.96 L857.60,270.70 L859.10,282.60 L861.07,277.11 L863.03,270.33 L865.00,264.80 L867.20,276.05 L869.40,287.00 L871.25,284.90 L873.10,285.60 L874.77,281.77 L876.45,279.81 L878.12,278.90 L879.80,275.90 L880.90,271.62 L882.00,267.80 L883.50,266.11 L885.00,265.60 L886.50,271.02 L888.00,275.90 L890.20,275.75 L892.40,275.90 L893.90,264.80 L895.63,264.16 L897.37,265.74 L899.10,264.80 L900.55,259.89 L902.00,253.70 L903.73,259.55 L905.47,267.27 L907.20,273.70 L909.25,270.83 L911.30,269.00 L913.35,265.58 L915.40,261.90 L916.50,256.77 L917.60,253.00 L919.10,253.39 L920.60,250.70 L922.80,254.40 L924.85,250.03 L926.90,248.10 L928.75,248.99 L930.60,250.40 L932.45,240.82 L934.30,229.60 L935.77,225.05 L937.23,222.70 L938.70,219.30 L940.90,212.63 L943.10,208.90 L944.60,207.94 L946.10,206.75 L947.60,204.40 L949.80,204.63 L952.00,204.40 L953.85,197.45 L955.70,188.10 L957.55,187.50 L959.40,188.10 L960.90,190.62 L962.40,191.90 L963.90,189.95 L965.40,187.40 L966.85,191.76 L968.30,195.60 L969.80,207.40 L971.65,204.31 L973.50,201.50 L975.35,208.49 L977.20,213.30 L979.05,219.92 L980.90,223.70 L982.40,230.27 L983.90,237.00 L985.75,240.88 L987.60,243.70 L989.80,240.00 L991.77,243.03 L993.73,249.51 L995.70,253.30 L997.20,249.57 L998.70,246.48 L1000.20,240.70 L1002.05,247.68 L1003.90,252.60 L1006.10,249.31 L1008.30,247.40 L1010.03,245.30 L1011.77,244.47 L1013.50,242.20 L1015.23,241.91 L1016.97,244.54 L1018.70,245.90 L1020.20,251.90 L1022.40,247.84 L1024.60,245.90 L1026.10,244.44 L1027.60,244.02 L1029.10,245.20 L1030.60,260.70 L1032.07,263.06 L1033.53,262.51 L1035.00,265.20 L1036.50,266.59 L1038.00,269.60 L1039.85,270.75 L1041.70,272.60 L1042.80,267.14 L1043.90,259.30 L1045.40,251.90 L1047.25,247.96 L1049.10,246.70 L1050.60,254.80 L1052.45,257.59 L1054.30,260.70 L1055.77,258.39 L1057.23,256.99 L1058.70,253.30 L1060.90,246.92 L1063.10,238.50 L1064.60,248.90 L1066.33,249.56 L1068.07,247.19 L1069.80,247.40 L1070.90,237.48 L1072.00,228.10 L1073.15,226.95 L1074.30,226.70 L1076.15,232.38 L1078.00,235.60 L1079.45,227.41 L1080.90,216.30 L1082.40,209.23 L1083.90,204.40 L1085.63,209.30 L1087.37,215.41 L1089.10,222.20 L1090.20,214.70 L1091.30,208.90 L1093.15,207.75 L1095.00,206.70 L1096.85,207.34 L1098.70,207.40 L1100.20,195.60 L1101.65,193.34 L1103.10,192.60 L1104.25,193.96 L1105.40,198.50 L1106.85,193.79 L1108.30,189.60 L1110.15,186.98 L1112.00,185.20 L1113.50,176.30 L1115.30,173.36 L1117.10,170.00 L1119.25,162.55 L1121.40,152.20 L1123.55,143.96 L1125.70,134.50 L1127.33,131.08 L1128.97,127.94 L1130.60,124.10 L1132.45,122.21 L1134.30,119.20 L1135.50,108.20 L1136.75,96.32 L1138.00,87.30 L1139.20,83.08 L1140.40,76.30 L1142.25,75.40 L1144.10,72.70 L1144.10,66.50 L1145.30,65.25 L1146.50,61.60 L1148.13,58.49 L1149.77,53.12 L1151.40,49.40 L1152.65,41.88 L1153.90,35.00 L1155.35,37.73 L1156.80,43.00 L1158.40,42.03 L1160.00,40.20 L1161.55,34.95 L1163.10,32.50 L1164.60,33.77 L1166.10,37.80 L1167.30,45.70 L1169.20,48.20 L1169.20,59.20 L1170.83,61.13 L1172.47,63.85 L1174.10,67.80 L1175.30,72.70 L1176.55,79.49 L1177.80,87.30 L1179.00,100.80 L1180.80,116.70 L1182.65,119.57 L1184.50,125.30 L1186.30,140.00 L1187.55,148.40 L1188.80,160.00 L1190.20,162.88 L1191.60,168.00 L1193.23,163.56 L1194.87,161.23 L1196.50,158.50 L1197.95,166.73 L1199.40,178.00 L1201.20,177.63 L1203.00,175.23 L1204.80,173.30 L1206.75,174.48 L1208.70,177.90 L1210.25,181.76 L1211.80,187.20 L1212.60,196.50 L1214.40,200.14 L1216.20,204.33 L1218.00,208.90 L1219.15,210.79 L1220.30,215.10 L1221.45,231.72 L1222.60,246.10 L1224.55,252.33 L1226.50,255.40 L1227.30,264.70 L1229.10,268.72 L1230.90,272.91 L1232.70,277.10 L1233.85,280.42 L1235.00,286.40 L1236.20,292.13 L1237.40,300.40 L1238.93,300.93 L1240.47,301.71 L1242.00,303.50 L1243.80,304.02 L1245.60,301.35 L1247.40,301.90 L1249.35,304.27 L1251.30,309.70 L1252.45,315.79 L1253.60,319.00 L1255.15,314.44 L1256.70,309.70 L1258.27,308.84 L1259.83,310.37 L1261.40,310.50 L1262.55,310.89 L1263.70,314.30 L1265.27,311.29 L1266.83,309.63 L1268.40,305.00 L1270.47,308.76 L1272.53,310.83 L1274.60,312.80 L1276.35,311.26 L1278.10,310.82 L1279.85,309.41 L1281.60,309.70 L1282.30,315.90 L1283.87,315.74 L1285.43,313.94 L1287.00,312.80 L1288.55,310.59 L1290.10,306.60 L1291.63,306.82 L1293.17,307.25 L1294.70,308.90 L1295.90,306.80 L1297.10,302.70 L1298.90,305.02 L1300.70,305.36 L1302.50,305.00 L1304.00,317.40 L1305.60,305.00 L1307.13,309.08 L1308.67,312.22 L1310.20,314.30 L1312.27,310.93 L1314.33,305.16 L1316.40,301.90 L1316.40,320.50 L1318.35,318.63 L1320.30,316.19 L1322.25,313.22 L1324.20,312.80 L1325.70,321.30" fill="none" stroke="#5b5b5a" stroke-width="4.60" stroke-linejoin="miter" stroke-linecap="butt" stroke-miterlimit="3"/>
<line x1="727.00" y1="487.90" x2="765.60" y2="487.90" stroke="#63b3d7" stroke-width="7.60" stroke-linecap="butt"/>
<line x1="1275.20" y1="487.90" x2="1325.80" y2="487.90" stroke="#63b3d7" stroke-width="7.60" stroke-linecap="butt"/>
<path d="M728.50,487.80 L765.20,487.80 L766.60,486.00 L768.23,490.79 L769.87,498.81 L771.50,503.00 L772.80,488.60 L774.10,476.60 L775.95,473.51 L777.80,469.10 L779.70,477.12 L781.60,487.80 L783.17,482.63 L784.73,480.66 L786.30,474.70 L787.87,478.47 L789.43,484.55 L791.00,488.80 L792.85,475.97 L794.70,463.40 L796.60,469.85 L798.50,476.60 L800.07,474.08 L801.63,470.62 L803.20,469.10 L804.77,464.82 L806.33,457.12 L807.90,453.10 L809.55,456.70 L811.20,460.46 L812.85,465.70 L814.50,470.90 L816.30,450.30 L818.20,451.87 L820.10,455.32 L822.00,455.90 L823.80,466.20 L825.70,453.95 L827.60,441.23 L829.50,430.60 L831.37,435.13 L833.23,442.77 L835.10,446.50 L836.10,436.20 L837.67,437.60 L839.23,442.18 L840.80,444.60 L842.90,433.43 L845.00,423.56 L847.10,411.76 L849.20,401.50 L851.08,407.96 L852.95,413.19 L854.83,419.53 L856.70,424.90 L858.90,421.18 L861.10,415.16 L863.30,409.90 L865.20,412.70 L867.05,401.70 L868.90,393.00 L870.80,391.61 L872.70,393.00 L874.60,412.70 L876.47,405.06 L878.33,394.53 L880.20,385.50 L882.05,393.92 L883.90,404.30 L885.80,387.40 L887.45,391.88 L889.10,393.75 L890.75,397.28 L892.40,399.60 L893.97,405.82 L895.53,408.91 L897.10,414.60 L898.97,401.61 L900.83,390.74 L902.70,377.00 L904.10,382.88 L905.50,391.10 L907.15,387.72 L908.80,381.36 L910.45,379.03 L912.10,374.20 L913.75,377.90 L915.40,381.74 L917.05,384.45 L918.70,386.40 L920.55,376.11 L922.40,365.80 L923.85,371.38 L925.30,378.90 L926.70,370.28 L928.10,363.90 L929.50,340.49 L930.90,316.90 L932.30,320.73 L933.70,324.50 L935.27,323.13 L936.83,325.79 L938.40,324.50 L940.30,314.10 L941.70,316.47 L943.10,318.80 L944.50,312.39 L945.90,304.70 L947.80,301.95 L949.70,301.00 L949.70,292.50 L951.57,292.01 L953.43,291.60 L955.30,293.50 L956.70,289.70 L958.10,286.90 L959.90,289.55 L961.70,293.70 L962.85,295.15 L964.00,297.10 L965.70,292.16 L967.40,288.00 L968.93,295.54 L970.47,302.19 L972.00,307.40 L973.15,310.96 L974.30,316.60 L975.45,310.52 L976.60,305.10 L978.50,312.43 L980.40,322.42 L982.30,330.30 L984.00,324.97 L985.70,316.60 L987.60,329.35 L989.50,344.85 L991.40,357.70 L992.55,351.91 L993.70,347.40 L995.40,346.44 L997.10,348.60 L998.85,357.45 L1000.60,364.60 L1002.30,361.79 L1004.00,360.00 L1005.70,368.64 L1007.40,379.40 L1009.40,372.92 L1011.40,365.99 L1013.40,360.29 L1015.40,354.30 L1016.55,356.98 L1017.70,360.00 L1019.60,349.44 L1021.50,339.68 L1023.40,329.10 L1025.30,342.52 L1027.20,356.00 L1029.10,371.40 L1031.03,359.04 L1032.97,348.07 L1034.90,338.30 L1036.80,345.60 L1038.70,352.32 L1040.60,360.00 L1042.10,353.35 L1043.60,344.75 L1045.10,337.10 L1046.82,343.49 L1048.55,350.09 L1050.28,352.88 L1052.00,360.00 L1053.90,351.22 L1055.80,344.38 L1057.70,338.30 L1058.85,344.24 L1060.00,350.90 L1061.90,349.60 L1063.80,348.61 L1065.70,346.30 L1067.23,334.02 L1068.77,324.19 L1070.30,310.90 L1071.83,313.11 L1073.37,319.57 L1074.90,322.30 L1076.60,314.80 L1078.30,310.35 L1080.00,301.08 L1081.70,296.00 L1083.42,305.21 L1085.15,312.28 L1086.88,320.74 L1088.60,326.90 L1089.75,318.56 L1090.90,309.70 L1092.40,302.57 L1093.90,299.00 L1095.40,291.40 L1097.30,292.75 L1099.20,293.13 L1101.10,296.00 L1102.25,286.64 L1103.40,276.60 L1105.30,278.86 L1107.20,281.05 L1109.10,283.40 L1111.03,272.03 L1112.97,261.66 L1114.90,252.60 L1116.80,254.36 L1118.70,255.45 L1120.60,257.10 L1122.10,248.30 L1123.60,241.71 L1125.10,234.30 L1127.03,232.36 L1128.97,229.66 L1130.90,226.30 L1132.60,207.36 L1134.30,188.60 L1135.83,186.36 L1137.37,184.35 L1138.90,182.90 L1140.40,176.29 L1141.90,170.47 L1143.40,165.70 L1145.15,159.83 L1146.90,154.30 L1149.10,164.60 L1150.85,157.05 L1152.60,152.00 L1154.30,139.02 L1156.00,124.60 L1157.50,128.00 L1159.40,144.90 L1161.20,148.60 L1163.23,150.07 L1165.27,150.56 L1167.30,151.00 L1169.10,162.52 L1170.90,177.10 L1173.10,216.00 L1174.85,217.87 L1176.60,220.60 L1178.60,260.00 L1180.05,269.58 L1181.50,279.60 L1183.50,291.00 L1185.50,305.00 L1187.45,323.15 L1189.40,338.30 L1191.35,338.17 L1193.30,336.40 L1194.75,354.01 L1196.20,371.60 L1197.83,376.82 L1199.47,379.78 L1201.10,385.30 L1203.07,390.33 L1205.03,397.18 L1207.00,403.00 L1208.95,402.78 L1210.90,401.00 L1212.40,409.32 L1213.90,416.70 L1215.80,409.80 L1217.43,419.65 L1219.07,433.03 L1220.70,444.10 L1222.65,440.51 L1224.60,434.30 L1226.10,438.03 L1227.60,440.20 L1229.23,451.37 L1230.87,461.34 L1232.50,469.60 L1234.45,471.62 L1236.40,475.40 L1238.35,481.60 L1240.30,489.10 L1242.03,483.88 L1243.75,479.88 L1245.47,472.56 L1247.20,467.60 L1248.65,470.96 L1250.10,471.50 L1251.55,484.37 L1253.00,495.00 L1254.50,485.25 L1256.00,475.40 L1257.45,468.00 L1258.90,459.80 L1260.90,473.50 L1262.53,474.96 L1264.17,474.41 L1265.80,473.50 L1267.25,474.80 L1268.70,477.40 L1270.65,478.51 L1272.60,477.40 L1274.05,481.33 L1275.50,487.20 L1325.50,487.20" fill="none" stroke="#63b3d7" stroke-width="3.90" stroke-linejoin="miter" stroke-linecap="butt" stroke-miterlimit="3"/>
<line x1="40.50" y1="658.60" x2="40.50" y2="1143.80" stroke="#000" stroke-width="3.00" stroke-linecap="butt"/>
<line x1="39.00" y1="1142.40" x2="634.50" y2="1142.40" stroke="#000" stroke-width="2.80" stroke-linecap="butt"/>
<line x1="40.30" y1="1142.40" x2="40.30" y2="1151.50" stroke="#000" stroke-width="1.30" stroke-linecap="round"/>
<line x1="50.18" y1="1142.40" x2="50.18" y2="1149.20" stroke="#222" stroke-width="1.20" stroke-linecap="round"/>
<line x1="60.06" y1="1142.40" x2="60.06" y2="1149.20" stroke="#222" stroke-width="1.20" stroke-linecap="round"/>
<line x1="69.94" y1="1142.40" x2="69.94" y2="1149.20" stroke="#222" stroke-width="1.20" stroke-linecap="round"/>
<line x1="79.82" y1="1142.40" x2="79.82" y2="1149.20" stroke="#222" stroke-width="1.20" stroke-linecap="round"/>
<line x1="89.70" y1="1142.40" x2="89.70" y2="1149.20" stroke="#222" stroke-width="1.20" stroke-linecap="round"/>
<line x1="99.58" y1="1142.40" x2="99.58" y2="1149.20" stroke="#222" stroke-width="1.20" stroke-linecap="round"/>
<line x1="109.46" y1="1142.40" x2="109.46" y2="1149.20" stroke="#222" stroke-width="1.20" stroke-linecap="round"/>
<line x1="119.34" y1="1142.40" x2="119.34" y2="1149.20" stroke="#222" stroke-width="1.20" stroke-linecap="round"/>
<line x1="129.22" y1="1142.40" x2="129.22" y2="1149.20" stroke="#222" stroke-width="1.20" stroke-linecap="round"/>
<line x1="139.10" y1="1142.40" x2="139.10" y2="1151.50" stroke="#000" stroke-width="1.30" stroke-linecap="round"/>
<line x1="148.98" y1="1142.40" x2="148.98" y2="1149.20" stroke="#222" stroke-width="1.20" stroke-linecap="round"/>
<line x1="158.86" y1="1142.40" x2="158.86" y2="1149.20" stroke="#222" stroke-width="1.20" stroke-linecap="round"/>
<line x1="168.74" y1="1142.40" x2="168.74" y2="1149.20" stroke="#222" stroke-width="1.20" stroke-linecap="round"/>
<line x1="178.62" y1="1142.40" x2="178.62" y2="1149.20" stroke="#222" stroke-width="1.20" stroke-linecap="round"/>
<line x1="188.50" y1="1142.40" x2="188.50" y2="1149.20" stroke="#222" stroke-width="1.20" stroke-linecap="round"/>
<line x1="198.38" y1="1142.40" x2="198.38" y2="1149.20" stroke="#222" stroke-width="1.20" stroke-linecap="round"/>
<line x1="208.26" y1="1142.40" x2="208.26" y2="1149.20" stroke="#222" stroke-width="1.20" stroke-linecap="round"/>
<line x1="218.14" y1="1142.40" x2="218.14" y2="1149.20" stroke="#222" stroke-width="1.20" stroke-linecap="round"/>
<line x1="228.02" y1="1142.40" x2="228.02" y2="1149.20" stroke="#222" stroke-width="1.20" stroke-linecap="round"/>
<line x1="237.90" y1="1142.40" x2="237.90" y2="1151.50" stroke="#000" stroke-width="1.30" stroke-linecap="round"/>
<line x1="247.78" y1="1142.40" x2="247.78" y2="1149.20" stroke="#222" stroke-width="1.20" stroke-linecap="round"/>
<line x1="257.66" y1="1142.40" x2="257.66" y2="1149.20" stroke="#222" stroke-width="1.20" stroke-linecap="round"/>
<line x1="267.54" y1="1142.40" x2="267.54" y2="1149.20" stroke="#222" stroke-width="1.20" stroke-linecap="round"/>
<line x1="277.42" y1="1142.40" x2="277.42" y2="1149.20" stroke="#222" stroke-width="1.20" stroke-linecap="round"/>
<line x1="287.30" y1="1142.40" x2="287.30" y2="1149.20" stroke="#222" stroke-width="1.20" stroke-linecap="round"/>
<line x1="297.18" y1="1142.40" x2="297.18" y2="1149.20" stroke="#222" stroke-width="1.20" stroke-linecap="round"/>
<line x1="307.06" y1="1142.40" x2="307.06" y2="1149.20" stroke="#222" stroke-width="1.20" stroke-linecap="round"/>
<line x1="316.94" y1="1142.40" x2="316.94" y2="1149.20" stroke="#222" stroke-width="1.20" stroke-linecap="round"/>
<line x1="326.82" y1="1142.40" x2="326.82" y2="1149.20" stroke="#222" stroke-width="1.20" stroke-linecap="round"/>
<line x1="336.70" y1="1142.40" x2="336.70" y2="1151.50" stroke="#000" stroke-width="1.30" stroke-linecap="round"/>
<line x1="346.58" y1="1142.40" x2="346.58" y2="1149.20" stroke="#222" stroke-width="1.20" stroke-linecap="round"/>
<line x1="356.46" y1="1142.40" x2="356.46" y2="1149.20" stroke="#222" stroke-width="1.20" stroke-linecap="round"/>
<line x1="366.34" y1="1142.40" x2="366.34" y2="1149.20" stroke="#222" stroke-width="1.20" stroke-linecap="round"/>
<line x1="376.22" y1="1142.40" x2="376.22" y2="1149.20" stroke="#222" stroke-width="1.20" stroke-linecap="round"/>
<line x1="386.10" y1="1142.40" x2="386.10" y2="1149.20" stroke="#222" stroke-width="1.20" stroke-linecap="round"/>
<line x1="395.98" y1="1142.40" x2="395.98" y2="1149.20" stroke="#222" stroke-width="1.20" stroke-linecap="round"/>
<line x1="405.86" y1="1142.40" x2="405.86" y2="1149.20" stroke="#222" stroke-width="1.20" stroke-linecap="round"/>
<line x1="415.74" y1="1142.40" x2="415.74" y2="1149.20" stroke="#222" stroke-width="1.20" stroke-linecap="round"/>
<line x1="425.62" y1="1142.40" x2="425.62" y2="1149.20" stroke="#222" stroke-width="1.20" stroke-linecap="round"/>
<line x1="435.50" y1="1142.40" x2="435.50" y2="1151.50" stroke="#000" stroke-width="1.30" stroke-linecap="round"/>
<line x1="445.38" y1="1142.40" x2="445.38" y2="1149.20" stroke="#222" stroke-width="1.20" stroke-linecap="round"/>
<line x1="455.26" y1="1142.40" x2="455.26" y2="1149.20" stroke="#222" stroke-width="1.20" stroke-linecap="round"/>
<line x1="465.14" y1="1142.40" x2="465.14" y2="1149.20" stroke="#222" stroke-width="1.20" stroke-linecap="round"/>
<line x1="475.02" y1="1142.40" x2="475.02" y2="1149.20" stroke="#222" stroke-width="1.20" stroke-linecap="round"/>
<line x1="484.90" y1="1142.40" x2="484.90" y2="1149.20" stroke="#222" stroke-width="1.20" stroke-linecap="round"/>
<line x1="494.78" y1="1142.40" x2="494.78" y2="1149.20" stroke="#222" stroke-width="1.20" stroke-linecap="round"/>
<line x1="504.66" y1="1142.40" x2="504.66" y2="1149.20" stroke="#222" stroke-width="1.20" stroke-linecap="round"/>
<line x1="514.54" y1="1142.40" x2="514.54" y2="1149.20" stroke="#222" stroke-width="1.20" stroke-linecap="round"/>
<line x1="524.42" y1="1142.40" x2="524.42" y2="1149.20" stroke="#222" stroke-width="1.20" stroke-linecap="round"/>
<line x1="534.30" y1="1142.40" x2="534.30" y2="1151.50" stroke="#000" stroke-width="1.30" stroke-linecap="round"/>
<line x1="544.18" y1="1142.40" x2="544.18" y2="1149.20" stroke="#222" stroke-width="1.20" stroke-linecap="round"/>
<line x1="554.06" y1="1142.40" x2="554.06" y2="1149.20" stroke="#222" stroke-width="1.20" stroke-linecap="round"/>
<line x1="563.94" y1="1142.40" x2="563.94" y2="1149.20" stroke="#222" stroke-width="1.20" stroke-linecap="round"/>
<line x1="573.82" y1="1142.40" x2="573.82" y2="1149.20" stroke="#222" stroke-width="1.20" stroke-linecap="round"/>
<line x1="583.70" y1="1142.40" x2="583.70" y2="1149.20" stroke="#222" stroke-width="1.20" stroke-linecap="round"/>
<line x1="593.58" y1="1142.40" x2="593.58" y2="1149.20" stroke="#222" stroke-width="1.20" stroke-linecap="round"/>
<line x1="603.46" y1="1142.40" x2="603.46" y2="1149.20" stroke="#222" stroke-width="1.20" stroke-linecap="round"/>
<line x1="613.34" y1="1142.40" x2="613.34" y2="1149.20" stroke="#222" stroke-width="1.20" stroke-linecap="round"/>
<line x1="623.22" y1="1142.40" x2="623.22" y2="1149.20" stroke="#222" stroke-width="1.20" stroke-linecap="round"/>
<line x1="633.10" y1="1142.40" x2="633.10" y2="1151.50" stroke="#000" stroke-width="1.30" stroke-linecap="round"/>
<text transform="translate(32.72,1179.50) scale(0.9569,1)" x="0.00" y="0" font-size="28.21" fill="#000">5</text>
<text transform="translate(121.69,1179.50) scale(1.0767,1)" x="0.00" y="0" font-size="28.21" fill="#000">15</text>
<text transform="translate(221.41,1179.50) scale(1.0494,1)" x="0.00" y="0" font-size="28.21" fill="#000">25</text>
<text transform="translate(320.69,1179.50) scale(1.0370,1)" x="0.00" y="0" font-size="28.21" fill="#000">35</text>
<text transform="translate(420.04,1179.50) scale(1.0220,1)" x="0.00" y="0" font-size="28.21" fill="#000">45</text>
<text transform="translate(518.43,1179.50) scale(1.0389,1)" x="0.00" y="0" font-size="28.21" fill="#000">55</text>
<text transform="translate(617.00,1179.50) scale(1.0499,1)" x="0.00" y="0" font-size="28.21" fill="#000">65</text>
<text transform="translate(306.42,1213.00) scale(0.9897,1)" x="0.00" y="0" font-size="29.79" fill="#000">2θ (°)</text>
<text transform="translate(24.20,982.10) rotate(-90) scale(1.0890,1)" x="-2.64" y="0" font-size="28.63" fill="#000">Intensity (a.u)</text>
<text transform="translate(0.94,651.00) scale(0.8636,1)" x="0.00" y="0" font-size="29.93" font-weight="bold" fill="#000">C</text>
<line x1="448.20" y1="666.00" x2="486.80" y2="666.00" stroke="#e8583a" stroke-width="4.00" stroke-linecap="round"/>
<line x1="448.20" y1="689.50" x2="486.80" y2="689.50" stroke="#beb4ea" stroke-width="4.00" stroke-linecap="round"/>
<line x1="448.20" y1="712.10" x2="486.80" y2="712.10" stroke="#5b5b5a" stroke-width="4.00" stroke-linecap="round"/>
<line x1="448.20" y1="736.30" x2="486.80" y2="736.30" stroke="#63b3d7" stroke-width="4.00" stroke-linecap="round"/>
<text transform="translate(499.80,672.80) scale(0.9037,1)" x="0.00" y="0" font-size="19.48" fill="#000">SiO</text>
<text transform="translate(528.23,674.70) scale(1.2466,1)" x="0.00" y="0" font-size="10.74" fill="#000">2</text>
<text transform="translate(540.41,672.80) scale(1.0009,1)" x="0.00" y="0" font-size="19.48" fill="#000">reference</text>
<text transform="translate(500.22,695.80) scale(0.8948,1)" x="0.00" y="0" font-size="19.48" fill="#000">CaCO</text>
<text transform="translate(547.68,698.00) scale(0.8905,1)" x="0.00" y="0" font-size="12.32" fill="#000">3</text>
<text transform="translate(558.71,695.80) scale(0.9984,1)" x="0.00" y="0" font-size="19.48" fill="#000">reference</text>
<text transform="translate(499.18,718.40) scale(0.9510,1)" x="0.00" y="0" font-size="19.48" fill="#000">HCCE pristine</text>
<text transform="translate(499.20,742.20) scale(0.9402,1)" x="0.00" y="0" font-size="19.48" fill="#000">HCCE polarized</text>
<text transform="translate(190.25,763.60) scale(1.0158,1)" x="0.00" y="0" font-size="14.89" fill="#000">100</text>
<text transform="translate(247.78,685.80) scale(0.9831,1)" x="0.00" y="0" font-size="14.89" fill="#000">101</text>
<text transform="translate(480.03,781.50) scale(1.0319,1)" x="0.00" y="0" font-size="14.89" fill="#000">112</text>
<text transform="translate(276.14,813.80) scale(1.0223,1)" x="0.00" y="0" font-size="14.89" fill="#000">104</text>
<text transform="translate(216.12,908.20) scale(0.9906,1)" x="0.00" y="0" font-size="14.89" fill="#000">012</text>
<text transform="translate(339.54,898.10) scale(1.0244,1)" x="0.00" y="0" font-size="14.89" fill="#000">110</text>
<text transform="translate(373.33,898.10) scale(1.0277,1)" x="0.00" y="0" font-size="14.89" fill="#000">113</text>
<text transform="translate(411.44,898.10) scale(1.0149,1)" x="0.00" y="0" font-size="14.89" fill="#000">202</text>
<text transform="translate(453.31,881.50) scale(1.0154,1)" x="0.00" y="0" font-size="14.89" fill="#000">024</text>
<text transform="translate(463.30,865.40) scale(1.0245,1)" x="0.00" y="0" font-size="14.89" fill="#000">018</text>
<text transform="translate(551.53,909.20) scale(1.0319,1)" x="0.00" y="0" font-size="14.89" fill="#000">122</text>
<text transform="translate(587.03,909.20) scale(1.0318,1)" x="0.00" y="0" font-size="14.89" fill="#000">208</text>
<text transform="translate(58.21,1030.00) scale(1.0195,1)" x="0.00" y="0" font-size="14.89" fill="#000">001</text>
<text transform="translate(170.34,1035.60) scale(0.9992,1)" x="0.00" y="0" font-size="14.89" fill="#000">-111</text>
<line x1="202.50" y1="803.30" x2="202.50" y2="1033.30" stroke="#3a3a3a" stroke-width="1.25" stroke-linecap="butt" stroke-dasharray="1.3 1.55"/>
<line x1="260.50" y1="803.30" x2="260.50" y2="1013.30" stroke="#3a3a3a" stroke-width="1.25" stroke-linecap="butt" stroke-dasharray="1.3 1.55"/>
<line x1="492.50" y1="805.20" x2="492.50" y2="1035.50" stroke="#3a3a3a" stroke-width="1.25" stroke-linecap="butt" stroke-dasharray="1.3 1.55"/>
<line x1="225.50" y1="928.60" x2="225.50" y2="1034.40" stroke="#3a3a3a" stroke-width="1.25" stroke-linecap="butt" stroke-dasharray="1.3 1.55"/>
<line x1="288.50" y1="922.50" x2="288.50" y2="941.00" stroke="#3a3a3a" stroke-width="1.25" stroke-linecap="butt" stroke-dasharray="1.3 1.55"/>
<line x1="353.50" y1="927.70" x2="353.50" y2="1030.30" stroke="#3a3a3a" stroke-width="1.25" stroke-linecap="butt" stroke-dasharray="1.3 1.55"/>
<line x1="386.50" y1="927.70" x2="386.50" y2="1029.80" stroke="#3a3a3a" stroke-width="1.25" stroke-linecap="butt" stroke-dasharray="1.3 1.55"/>
<line x1="424.50" y1="927.70" x2="424.50" y2="1029.80" stroke="#3a3a3a" stroke-width="1.25" stroke-linecap="butt" stroke-dasharray="1.3 1.55"/>
<line x1="466.50" y1="927.70" x2="466.50" y2="1026.70" stroke="#3a3a3a" stroke-width="1.25" stroke-linecap="butt" stroke-dasharray="1.3 1.55"/>
<line x1="476.50" y1="927.70" x2="476.50" y2="1026.70" stroke="#3a3a3a" stroke-width="1.25" stroke-linecap="butt" stroke-dasharray="1.3 1.55"/>
<line x1="564.50" y1="927.70" x2="564.50" y2="1033.10" stroke="#3a3a3a" stroke-width="1.25" stroke-linecap="butt" stroke-dasharray="1.3 1.55"/>
<line x1="598.50" y1="927.70" x2="598.50" y2="1034.50" stroke="#3a3a3a" stroke-width="1.25" stroke-linecap="butt" stroke-dasharray="1.3 1.55"/>
<line x1="72.50" y1="1053.30" x2="72.50" y2="1077.80" stroke="#3a3a3a" stroke-width="1.25" stroke-linecap="butt" stroke-dasharray="1.3 1.55"/>
<line x1="191.50" y1="1053.30" x2="191.50" y2="1077.80" stroke="#3a3a3a" stroke-width="1.25" stroke-linecap="butt" stroke-dasharray="1.3 1.55"/>
<path d="M41.50,797.01 L41.75,797.15 L42.00,796.89 L42.25,797.12 L42.50,796.97 L42.75,796.97 L43.00,797.23 L43.25,797.02 L43.50,796.99 L43.75,797.09 L44.00,797.14 L44.25,797.00 L44.50,797.07 L44.75,796.88 L45.00,796.96 L45.25,796.95 L45.50,796.84 L45.75,796.82 L46.00,796.80 L46.25,796.97 L46.50,796.98 L46.75,796.96 L47.00,797.01 L47.25,796.84 L47.50,796.99 L47.75,797.03 L48.00,797.09 L48.25,796.90 L48.50,796.95 L48.75,796.76 L49.00,796.94 L49.25,796.74 L49.50,796.83 L49.75,797.13 L50.00,796.74 L50.25,797.10 L50.50,797.04 L50.75,796.96 L51.00,797.06 L51.25,797.06 L51.50,797.13 L51.75,796.97 L52.00,796.93 L52.25,796.93 L52.50,796.88 L52.75,796.99 L53.00,796.91 L53.25,797.13 L53.50,796.78 L53.75,796.87 L54.00,796.89 L54.25,796.75 L54.50,797.23 L54.75,796.71 L55.00,796.97 L55.25,796.94 L55.50,797.20 L55.75,796.76 L56.00,797.13 L56.25,796.91 L56.50,796.98 L56.75,796.92 L57.00,797.08 L57.25,796.86 L57.50,796.99 L57.75,797.04 L58.00,797.22 L58.25,796.71 L58.50,797.18 L58.75,797.11 L59.00,796.94 L59.25,797.04 L59.50,796.94 L59.75,797.20 L60.00,797.03 L60.25,796.97 L60.50,796.97 L60.75,796.98 L61.00,796.98 L61.25,796.89 L61.50,797.25 L61.75,796.77 L62.00,796.57 L62.25,796.99 L62.50,796.98 L62.75,797.04 L63.00,796.98 L63.25,796.98 L63.50,797.04 L63.75,797.12 L64.00,796.95 L64.25,796.96 L64.50,797.23 L64.75,797.06 L65.00,796.88 L65.25,797.28 L65.50,797.09 L65.75,796.93 L66.00,796.86 L66.25,797.04 L66.50,796.90 L66.75,796.87 L67.00,796.84 L67.25,796.94 L67.50,797.13 L67.75,796.95 L68.00,796.83 L68.25,797.08 L68.50,797.01 L68.75,797.10 L69.00,797.14 L69.25,796.98 L69.50,796.98 L69.75,796.99 L70.00,796.86 L70.25,797.08 L70.50,797.16 L70.75,797.02 L71.00,796.97 L71.25,796.97 L71.50,796.91 L71.75,796.90 L72.00,796.95 L72.25,796.90 L72.50,796.95 L72.75,796.81 L73.00,797.04 L73.25,797.01 L73.50,796.86 L73.75,796.72 L74.00,797.00 L74.25,797.13 L74.50,796.91 L74.75,796.94 L75.00,796.93 L75.25,797.08 L75.50,796.89 L75.75,797.12 L76.00,796.96 L76.25,797.11 L76.50,797.00 L76.75,796.97 L77.00,796.82 L77.25,796.92 L77.50,796.97 L77.75,797.08 L78.00,797.03 L78.25,796.92 L78.50,797.05 L78.75,797.12 L79.00,796.98 L79.25,796.95 L79.50,796.95 L79.75,797.10 L80.00,797.06 L80.25,796.89 L80.50,797.04 L80.75,796.94 L81.00,796.91 L81.25,797.15 L81.50,797.10 L81.75,796.91 L82.00,797.01 L82.25,797.06 L82.50,796.92 L82.75,796.99 L83.00,797.08 L83.25,796.79 L83.50,797.04 L83.75,797.09 L84.00,797.06 L84.25,796.84 L84.50,797.04 L84.75,796.90 L85.00,797.07 L85.25,797.07 L85.50,797.03 L85.75,796.91 L86.00,796.93 L86.25,797.10 L86.50,796.89 L86.75,797.06 L87.00,797.06 L87.25,796.97 L87.50,797.29 L87.75,797.01 L88.00,797.26 L88.25,796.76 L88.50,796.73 L88.75,797.12 L89.00,797.08 L89.25,796.96 L89.50,796.99 L89.75,796.77 L90.00,796.92 L90.25,796.88 L90.50,796.97 L90.75,797.11 L91.00,797.01 L91.25,797.04 L91.50,796.92 L91.75,796.95 L92.00,797.01 L92.25,796.97 L92.50,797.15 L92.75,796.89 L93.00,797.23 L93.25,796.88 L93.50,797.13 L93.75,796.91 L94.00,797.20 L94.25,797.02 L94.50,797.05 L94.75,797.09 L95.00,796.92 L95.25,796.87 L95.50,796.76 L95.75,797.15 L96.00,796.92 L96.25,796.93 L96.50,797.00 L96.75,797.24 L97.00,796.79 L97.25,797.03 L97.50,796.95 L97.75,797.06 L98.00,796.78 L98.25,796.95 L98.50,797.10 L98.75,797.19 L99.00,797.19 L99.25,796.90 L99.50,797.01 L99.75,796.99 L100.00,796.83 L100.25,796.83 L100.50,797.09 L100.75,797.03 L101.00,796.98 L101.25,797.15 L101.50,796.88 L101.75,797.06 L102.00,797.00 L102.25,796.99 L102.50,797.06 L102.75,797.02 L103.00,797.03 L103.25,797.03 L103.50,797.23 L103.75,796.96 L104.00,797.12 L104.25,797.07 L104.50,796.96 L104.75,797.10 L105.00,796.90 L105.25,797.14 L105.50,796.90 L105.75,796.94 L106.00,797.04 L106.25,797.10 L106.50,797.11 L106.75,797.11 L107.00,796.98 L107.25,796.89 L107.50,797.07 L107.75,797.04 L108.00,796.89 L108.25,797.12 L108.50,797.02 L108.75,796.88 L109.00,797.05 L109.25,796.84 L109.50,796.89 L109.75,797.05 L110.00,796.81 L110.25,797.00 L110.50,796.84 L110.75,797.09 L111.00,796.91 L111.25,797.02 L111.50,796.82 L111.75,796.96 L112.00,797.11 L112.25,797.05 L112.50,796.78 L112.75,797.11 L113.00,797.11 L113.25,796.95 L113.50,797.17 L113.75,796.87 L114.00,796.99 L114.25,797.13 L114.50,797.16 L114.75,797.15 L115.00,796.87 L115.25,796.79 L115.50,797.05 L115.75,796.83 L116.00,796.98 L116.25,796.85 L116.50,797.13 L116.75,797.10 L117.00,797.07 L117.25,797.00 L117.50,797.01 L117.75,796.96 L118.00,797.05 L118.25,797.03 L118.50,797.06 L118.75,796.95 L119.00,797.23 L119.25,797.03 L119.50,797.17 L119.75,797.16 L120.00,796.89 L120.25,796.80 L120.50,797.15 L120.75,796.95 L121.00,797.01 L121.25,796.97 L121.50,797.02 L121.75,796.86 L122.00,796.99 L122.25,796.94 L122.50,797.00 L122.75,796.72 L123.00,797.10 L123.25,797.04 L123.50,796.79 L123.75,796.91 L124.00,797.00 L124.25,797.08 L124.50,797.00 L124.75,797.17 L125.00,797.00 L125.25,796.88 L125.50,796.92 L125.75,797.09 L126.00,796.93 L126.25,797.10 L126.50,797.12 L126.75,797.07 L127.00,797.12 L127.25,796.98 L127.50,797.00 L127.75,796.93 L128.00,796.93 L128.25,796.81 L128.50,796.93 L128.75,796.87 L129.00,796.83 L129.25,797.02 L129.50,797.05 L129.75,796.96 L130.00,797.16 L130.25,797.11 L130.50,797.13 L130.75,796.93 L131.00,796.82 L131.25,797.07 L131.50,797.04 L131.75,797.09 L132.00,797.05 L132.25,797.15 L132.50,796.97 L132.75,797.08 L133.00,796.89 L133.25,796.72 L133.50,796.95 L133.75,797.18 L134.00,796.80 L134.25,797.12 L134.50,796.92 L134.75,796.95 L135.00,797.01 L135.25,797.03 L135.50,796.88 L135.75,797.02 L136.00,797.05 L136.25,797.10 L136.50,796.91 L136.75,797.19 L137.00,797.23 L137.25,797.29 L137.50,796.84 L137.75,797.02 L138.00,796.78 L138.25,797.05 L138.50,797.07 L138.75,796.86 L139.00,796.81 L139.25,797.02 L139.50,797.08 L139.75,796.90 L140.00,796.97 L140.25,796.70 L140.50,796.91 L140.75,797.02 L141.00,797.02 L141.25,797.19 L141.50,796.86 L141.75,796.73 L142.00,797.05 L142.25,796.93 L142.50,797.03 L142.75,797.09 L143.00,797.07 L143.25,797.17 L143.50,797.16 L143.75,796.80 L144.00,796.99 L144.25,797.24 L144.50,796.95 L144.75,797.12 L145.00,796.99 L145.25,796.95 L145.50,797.19 L145.75,797.12 L146.00,796.97 L146.25,797.11 L146.50,796.84 L146.75,796.91 L147.00,797.11 L147.25,797.00 L147.50,796.87 L147.75,797.05 L148.00,797.04 L148.25,797.15 L148.50,797.11 L148.75,796.97 L149.00,796.94 L149.25,796.98 L149.50,796.97 L149.75,797.18 L150.00,797.19 L150.25,797.16 L150.50,797.05 L150.75,796.97 L151.00,797.11 L151.25,796.96 L151.50,797.03 L151.75,796.80 L152.00,796.95 L152.25,797.17 L152.50,796.88 L152.75,796.82 L153.00,796.98 L153.25,797.20 L153.50,797.17 L153.75,796.96 L154.00,796.94 L154.25,796.99 L154.50,796.89 L154.75,797.00 L155.00,796.96 L155.25,796.82 L155.50,796.93 L155.75,796.97 L156.00,796.90 L156.25,796.87 L156.50,797.11 L156.75,797.23 L157.00,796.97 L157.25,796.95 L157.50,797.06 L157.75,796.97 L158.00,796.91 L158.25,797.17 L158.50,796.87 L158.75,796.91 L159.00,796.92 L159.25,796.89 L159.50,796.97 L159.75,797.07 L160.00,797.17 L160.25,797.08 L160.50,797.00 L160.75,796.85 L161.00,796.99 L161.25,796.89 L161.50,796.99 L161.75,797.12 L162.00,797.02 L162.25,796.97 L162.50,796.91 L162.75,797.00 L163.00,797.01 L163.25,796.89 L163.50,796.94 L163.75,797.11 L164.00,796.80 L164.25,796.95 L164.50,796.86 L164.75,797.19 L165.00,797.07 L165.25,797.06 L165.50,797.05 L165.75,797.03 L166.00,797.03 L166.25,796.81 L166.50,797.03 L166.75,797.07 L167.00,796.83 L167.25,797.10 L167.50,797.08 L167.75,796.82 L168.00,796.94 L168.25,796.96 L168.50,796.94 L168.75,797.05 L169.00,796.85 L169.25,796.97 L169.50,797.03 L169.75,797.09 L170.00,797.01 L170.25,796.97 L170.50,797.08 L170.75,796.76 L171.00,797.11 L171.25,796.96 L171.50,796.85 L171.75,796.95 L172.00,796.78 L172.25,796.75 L172.50,796.96 L172.75,796.91 L173.00,797.09 L173.25,796.89 L173.50,796.84 L173.75,796.88 L174.00,797.20 L174.25,797.00 L174.50,796.93 L174.75,796.88 L175.00,796.87 L175.25,796.98 L175.50,797.05 L175.75,797.14 L176.00,797.14 L176.25,797.03 L176.50,796.92 L176.75,796.89 L177.00,796.72 L177.25,796.88 L177.50,797.05 L177.75,796.96 L178.00,797.04 L178.25,796.83 L178.50,797.10 L178.75,797.03 L179.00,797.00 L179.25,797.04 L179.50,796.72 L179.75,796.92 L180.00,796.87 L180.25,797.18 L180.50,796.92 L180.75,796.85 L181.00,796.96 L181.25,796.67 L181.50,796.88 L181.75,796.53 L182.00,796.49 L182.25,796.26 L182.50,796.34 L182.75,795.88 L183.00,796.14 L183.25,795.91 L183.50,796.01 L183.75,795.90 L184.00,796.15 L184.25,796.25 L184.50,796.42 L184.75,796.51 L185.00,796.66 L185.25,796.81 L185.50,796.73 L185.75,796.71 L186.00,796.74 L186.25,797.02 L186.50,796.91 L186.75,797.10 L187.00,796.99 L187.25,796.87 L187.50,797.10 L187.75,797.23 L188.00,796.97 L188.25,796.88 L188.50,796.89 L188.75,797.10 L189.00,796.93 L189.25,796.95 L189.50,797.08 L189.75,797.00 L190.00,797.01 L190.25,796.93 L190.50,796.92 L190.75,797.02 L191.00,797.02 L191.25,797.07 L191.50,796.94 L191.75,797.04 L192.00,797.05 L192.25,797.01 L192.50,797.06 L192.75,797.12 L193.00,797.02 L193.25,797.00 L193.50,796.88 L193.75,797.03 L194.00,796.98 L194.25,796.96 L194.50,796.89 L194.75,797.06 L195.00,797.30 L195.25,797.04 L195.50,797.00 L195.75,797.04 L196.00,796.92 L196.25,797.00 L196.50,796.91 L196.75,796.91 L197.00,797.02 L197.25,797.01 L197.50,796.97 L197.75,796.89 L198.00,797.02 L198.25,796.85 L198.50,797.07 L198.75,796.94 L199.00,796.98 L199.25,797.07 L199.50,797.04 L199.75,796.81 L200.00,796.93 L200.25,797.00 L200.50,796.82 L200.75,796.65 L201.00,796.91 L201.25,796.90 L201.50,796.91 L201.75,796.72 L202.00,796.26 L202.25,795.03 L202.50,792.39 L202.75,787.43 L203.00,781.03 L203.25,775.08 L203.50,772.83 L203.75,775.10 L204.00,781.06 L204.25,787.12 L204.50,785.13 L204.75,785.38 L205.00,788.15 L205.25,791.92 L205.50,794.58 L205.75,796.04 L206.00,796.62 L206.25,797.11 L206.50,797.03 L206.75,797.03 L207.00,796.87 L207.25,797.12 L207.50,797.04 L207.75,796.94 L208.00,796.96 L208.25,796.78 L208.50,797.06 L208.75,796.85 L209.00,797.08 L209.25,796.93 L209.50,796.91 L209.75,797.03 L210.00,797.01 L210.25,796.85 L210.50,796.98 L210.75,797.06 L211.00,796.96 L211.25,796.83 L211.50,796.96 L211.75,796.88 L212.00,796.92 L212.25,797.00 L212.50,796.99 L212.75,796.97 L213.00,796.80 L213.25,797.04 L213.50,796.97 L213.75,796.95 L214.00,797.01 L214.25,797.23 L214.50,796.84 L214.75,796.80 L215.00,797.09 L215.25,796.90 L215.50,797.15 L215.75,796.88 L216.00,796.94 L216.25,797.10 L216.50,797.11 L216.75,797.05 L217.00,797.05 L217.25,796.98 L217.50,796.94 L217.75,796.97 L218.00,797.15 L218.25,797.08 L218.50,797.00 L218.75,797.04 L219.00,797.10 L219.25,797.14 L219.50,796.98 L219.75,796.99 L220.00,797.04 L220.25,797.31 L220.50,797.03 L220.75,797.15 L221.00,796.82 L221.25,797.10 L221.50,796.83 L221.75,796.87 L222.00,796.92 L222.25,796.98 L222.50,797.02 L222.75,797.04 L223.00,797.03 L223.25,796.95 L223.50,797.31 L223.75,797.05 L224.00,797.08 L224.25,797.24 L224.50,797.11 L224.75,797.07 L225.00,797.04 L225.25,797.22 L225.50,796.87 L225.75,796.88 L226.00,797.02 L226.25,796.76 L226.50,796.90 L226.75,797.13 L227.00,796.94 L227.25,797.02 L227.50,797.08 L227.75,796.86 L228.00,797.03 L228.25,796.92 L228.50,796.87 L228.75,796.96 L229.00,796.99 L229.25,796.95 L229.50,796.91 L229.75,797.11 L230.00,797.13 L230.25,797.05 L230.50,796.97 L230.75,796.84 L231.00,796.86 L231.25,796.79 L231.50,796.91 L231.75,796.93 L232.00,796.84 L232.25,796.62 L232.50,796.43 L232.75,796.32 L233.00,796.13 L233.25,795.98 L233.50,795.90 L233.75,795.48 L234.00,795.70 L234.25,795.15 L234.50,795.21 L234.75,795.33 L235.00,795.53 L235.25,795.81 L235.50,796.28 L235.75,796.15 L236.00,796.54 L236.25,796.52 L236.50,796.71 L236.75,796.67 L237.00,797.13 L237.25,796.91 L237.50,796.87 L237.75,797.23 L238.00,797.00 L238.25,797.03 L238.50,796.97 L238.75,796.89 L239.00,796.82 L239.25,796.97 L239.50,797.19 L239.75,797.04 L240.00,796.97 L240.25,797.12 L240.50,796.88 L240.75,797.16 L241.00,796.99 L241.25,796.90 L241.50,797.07 L241.75,797.06 L242.00,796.95 L242.25,797.02 L242.50,797.11 L242.75,797.16 L243.00,796.89 L243.25,796.68 L243.50,797.24 L243.75,796.96 L244.00,796.94 L244.25,797.04 L244.50,796.94 L244.75,797.12 L245.00,796.84 L245.25,796.97 L245.50,796.84 L245.75,797.17 L246.00,796.96 L246.25,797.12 L246.50,797.15 L246.75,796.85 L247.00,796.96 L247.25,797.07 L247.50,796.99 L247.75,796.97 L248.00,797.09 L248.25,797.09 L248.50,796.91 L248.75,796.97 L249.00,797.06 L249.25,797.01 L249.50,797.00 L249.75,796.85 L250.00,797.19 L250.25,796.95 L250.50,797.01 L250.75,796.97 L251.00,796.98 L251.25,796.99 L251.50,796.87 L251.75,797.02 L252.00,797.11 L252.25,797.02 L252.50,797.05 L252.75,797.02 L253.00,796.97 L253.25,797.18 L253.50,796.88 L253.75,797.00 L254.00,797.07 L254.25,796.98 L254.50,796.82 L254.75,796.81 L255.00,797.12 L255.25,796.81 L255.50,796.92 L255.75,796.98 L256.00,796.91 L256.25,796.68 L256.50,796.65 L256.75,796.85 L257.00,796.75 L257.25,796.79 L257.50,796.80 L257.75,796.78 L258.00,796.55 L258.25,796.45 L258.50,796.66 L258.75,796.21 L259.00,795.35 L259.25,792.78 L259.50,786.60 L259.75,772.63 L260.00,749.85 L260.25,721.80 L260.50,698.41 L260.75,692.01 L261.00,706.13 L261.25,732.80 L261.50,752.93 L261.75,744.48 L262.00,748.30 L262.25,762.02 L262.50,777.14 L262.75,787.90 L263.00,793.74 L263.25,795.86 L263.50,796.50 L263.75,796.89 L264.00,796.61 L264.25,796.95 L264.50,796.98 L264.75,796.62 L265.00,796.86 L265.25,796.88 L265.50,796.77 L265.75,796.85 L266.00,796.83 L266.25,796.94 L266.50,796.87 L266.75,796.68 L267.00,797.09 L267.25,797.06 L267.50,796.85 L267.75,797.06 L268.00,797.20 L268.25,796.78 L268.50,796.91 L268.75,796.90 L269.00,797.03 L269.25,796.93 L269.50,796.80 L269.75,797.12 L270.00,796.94 L270.25,797.06 L270.50,797.25 L270.75,796.89 L271.00,796.93 L271.25,797.09 L271.50,796.97 L271.75,797.04 L272.00,796.98 L272.25,797.32 L272.50,797.06 L272.75,797.03 L273.00,797.00 L273.25,797.03 L273.50,796.79 L273.75,796.95 L274.00,797.08 L274.25,796.84 L274.50,796.99 L274.75,796.98 L275.00,796.93 L275.25,797.29 L275.50,797.08 L275.75,797.03 L276.00,796.90 L276.25,797.00 L276.50,796.96 L276.75,796.98 L277.00,797.02 L277.25,797.29 L277.50,797.15 L277.75,797.20 L278.00,797.16 L278.25,797.33 L278.50,796.91 L278.75,796.84 L279.00,797.02 L279.25,797.02 L279.50,797.00 L279.75,796.92 L280.00,797.08 L280.25,797.20 L280.50,797.02 L280.75,796.97 L281.00,797.14 L281.25,796.96 L281.50,796.95 L281.75,797.03 L282.00,796.72 L282.25,797.22 L282.50,796.98 L282.75,797.06 L283.00,797.03 L283.25,797.05 L283.50,796.84 L283.75,797.21 L284.00,797.07 L284.25,797.03 L284.50,797.37 L284.75,796.84 L285.00,797.09 L285.25,796.98 L285.50,796.82 L285.75,797.23 L286.00,796.81 L286.25,797.01 L286.50,796.99 L286.75,797.02 L287.00,796.88 L287.25,797.16 L287.50,797.03 L287.75,796.84 L288.00,796.85 L288.25,797.03 L288.50,796.86 L288.75,797.05 L289.00,797.04 L289.25,796.93 L289.50,796.77 L289.75,796.84 L290.00,797.04 L290.25,796.94 L290.50,797.22 L290.75,796.95 L291.00,797.04 L291.25,797.08 L291.50,797.01 L291.75,797.04 L292.00,797.12 L292.25,796.98 L292.50,797.04 L292.75,796.96 L293.00,797.24 L293.25,797.02 L293.50,797.10 L293.75,796.64 L294.00,796.94 L294.25,796.86 L294.50,797.00 L294.75,796.95 L295.00,796.87 L295.25,796.97 L295.50,797.10 L295.75,797.13 L296.00,796.93 L296.25,797.13 L296.50,796.92 L296.75,797.07 L297.00,796.90 L297.25,797.12 L297.50,797.28 L297.75,796.96 L298.00,797.15 L298.25,796.82 L298.50,796.92 L298.75,797.32 L299.00,796.99 L299.25,797.06 L299.50,796.80 L299.75,797.00 L300.00,796.91 L300.25,797.14 L300.50,796.94 L300.75,797.31 L301.00,796.87 L301.25,797.04 L301.50,796.76 L301.75,796.95 L302.00,797.15 L302.25,796.99 L302.50,796.84 L302.75,797.06 L303.00,797.11 L303.25,797.05 L303.50,797.12 L303.75,796.83 L304.00,797.22 L304.25,797.08 L304.50,796.75 L304.75,797.22 L305.00,796.94 L305.25,797.06 L305.50,796.76 L305.75,796.92 L306.00,796.78 L306.25,797.10 L306.50,796.97 L306.75,796.89 L307.00,796.95 L307.25,797.13 L307.50,796.91 L307.75,797.07 L308.00,796.86 L308.25,796.80 L308.50,796.94 L308.75,796.96 L309.00,797.02 L309.25,797.11 L309.50,796.95 L309.75,796.96 L310.00,797.09 L310.25,797.05 L310.50,796.99 L310.75,797.03 L311.00,796.74 L311.25,796.93 L311.50,796.81 L311.75,796.96 L312.00,797.11 L312.25,796.80 L312.50,797.11 L312.75,796.93 L313.00,796.97 L313.25,796.94 L313.50,797.08 L313.75,796.92 L314.00,796.75 L314.25,797.04 L314.50,796.98 L314.75,797.08 L315.00,797.07 L315.25,796.85 L315.50,797.02 L315.75,797.01 L316.00,796.99 L316.25,797.01 L316.50,797.04 L316.75,796.93 L317.00,796.98 L317.25,797.12 L317.50,796.87 L317.75,796.99 L318.00,796.88 L318.25,796.87 L318.50,796.95 L318.75,797.02 L319.00,797.18 L319.25,796.98 L319.50,797.11 L319.75,797.06 L320.00,797.01 L320.25,796.63 L320.50,797.01 L320.75,797.01 L321.00,796.87 L321.25,797.02 L321.50,797.18 L321.75,796.86 L322.00,796.94 L322.25,797.11 L322.50,796.78 L322.75,796.88 L323.00,797.04 L323.25,797.11 L323.50,797.15 L323.75,797.09 L324.00,797.28 L324.25,797.05 L324.50,796.84 L324.75,796.98 L325.00,797.07 L325.25,797.04 L325.50,796.77 L325.75,797.05 L326.00,796.90 L326.25,796.98 L326.50,797.17 L326.75,796.98 L327.00,796.92 L327.25,796.99 L327.50,796.92 L327.75,797.25 L328.00,797.10 L328.25,797.11 L328.50,796.92 L328.75,796.92 L329.00,797.03 L329.25,796.74 L329.50,797.12 L329.75,796.85 L330.00,797.01 L330.25,797.04 L330.50,796.90 L330.75,797.04 L331.00,797.08 L331.25,797.23 L331.50,797.05 L331.75,797.22 L332.00,797.06 L332.25,796.98 L332.50,797.10 L332.75,796.94 L333.00,797.02 L333.25,797.07 L333.50,797.14 L333.75,797.03 L334.00,796.82 L334.25,797.16 L334.50,797.02 L334.75,796.96 L335.00,796.90 L335.25,797.07 L335.50,797.04 L335.75,797.08 L336.00,796.98 L336.25,797.18 L336.50,796.97 L336.75,797.05 L337.00,797.02 L337.25,797.13 L337.50,796.92 L337.75,796.96 L338.00,796.97 L338.25,796.92 L338.50,796.92 L338.75,796.85 L339.00,797.09 L339.25,797.18 L339.50,796.88 L339.75,797.09 L340.00,796.86 L340.25,796.90 L340.50,796.96 L340.75,797.01 L341.00,797.05 L341.25,796.77 L341.50,796.84 L341.75,797.01 L342.00,796.97 L342.25,797.25 L342.50,796.97 L342.75,796.92 L343.00,797.14 L343.25,796.68 L343.50,796.77 L343.75,797.32 L344.00,796.92 L344.25,797.01 L344.50,796.98 L344.75,796.89 L345.00,796.98 L345.25,796.84 L345.50,797.11 L345.75,797.09 L346.00,797.08 L346.25,796.89 L346.50,796.77 L346.75,796.94 L347.00,796.87 L347.25,797.04 L347.50,796.80 L347.75,796.89 L348.00,797.01 L348.25,797.05 L348.50,797.01 L348.75,796.84 L349.00,796.91 L349.25,797.24 L349.50,797.11 L349.75,796.90 L350.00,797.22 L350.25,796.98 L350.50,796.99 L350.75,796.89 L351.00,797.17 L351.25,797.01 L351.50,796.98 L351.75,796.88 L352.00,796.84 L352.25,797.01 L352.50,796.99 L352.75,797.18 L353.00,796.88 L353.25,796.94 L353.50,797.10 L353.75,797.08 L354.00,796.90 L354.25,797.16 L354.50,797.03 L354.75,797.08 L355.00,797.01 L355.25,797.08 L355.50,796.91 L355.75,796.93 L356.00,797.07 L356.25,796.97 L356.50,796.92 L356.75,796.86 L357.00,796.28 L357.25,795.12 L357.50,792.42 L357.75,788.88 L358.00,784.70 L358.25,781.30 L358.50,781.04 L358.75,783.83 L359.00,788.06 L359.25,789.97 L359.50,788.96 L359.75,789.84 L360.00,792.23 L360.25,794.30 L360.50,795.77 L360.75,796.63 L361.00,796.94 L361.25,796.92 L361.50,796.84 L361.75,796.91 L362.00,797.00 L362.25,797.06 L362.50,797.19 L362.75,796.96 L363.00,796.96 L363.25,796.73 L363.50,797.14 L363.75,797.10 L364.00,796.99 L364.25,796.90 L364.50,796.68 L364.75,797.08 L365.00,796.90 L365.25,797.17 L365.50,797.08 L365.75,797.15 L366.00,796.98 L366.25,797.14 L366.50,796.83 L366.75,797.17 L367.00,796.99 L367.25,796.85 L367.50,796.95 L367.75,796.88 L368.00,797.03 L368.25,796.91 L368.50,796.84 L368.75,796.95 L369.00,796.97 L369.25,797.02 L369.50,797.08 L369.75,797.15 L370.00,797.05 L370.25,797.19 L370.50,796.70 L370.75,796.99 L371.00,797.11 L371.25,796.84 L371.50,796.97 L371.75,797.02 L372.00,796.81 L372.25,796.93 L372.50,797.07 L372.75,796.96 L373.00,797.18 L373.25,797.28 L373.50,796.99 L373.75,796.86 L374.00,796.99 L374.25,796.93 L374.50,796.83 L374.75,796.95 L375.00,796.94 L375.25,796.96 L375.50,797.11 L375.75,797.13 L376.00,797.05 L376.25,796.96 L376.50,797.05 L376.75,797.00 L377.00,797.02 L377.25,796.88 L377.50,796.63 L377.75,797.10 L378.00,796.93 L378.25,796.94 L378.50,797.00 L378.75,796.99 L379.00,796.96 L379.25,797.18 L379.50,797.01 L379.75,797.02 L380.00,796.89 L380.25,796.98 L380.50,797.05 L380.75,796.99 L381.00,797.03 L381.25,796.88 L381.50,797.04 L381.75,796.87 L382.00,796.94 L382.25,796.90 L382.50,797.01 L382.75,797.12 L383.00,797.03 L383.25,796.89 L383.50,797.01 L383.75,797.11 L384.00,797.07 L384.25,797.04 L384.50,796.84 L384.75,796.91 L385.00,796.87 L385.25,796.84 L385.50,796.75 L385.75,796.29 L386.00,795.36 L386.25,794.08 L386.50,792.32 L386.75,791.18 L387.00,791.11 L387.25,791.95 L387.50,793.59 L387.75,794.19 L388.00,793.87 L388.25,794.34 L388.50,795.17 L388.75,796.06 L389.00,796.61 L389.25,796.71 L389.50,797.17 L389.75,797.14 L390.00,796.84 L390.25,796.91 L390.50,796.93 L390.75,797.02 L391.00,797.06 L391.25,796.99 L391.50,796.68 L391.75,797.33 L392.00,797.09 L392.25,797.08 L392.50,796.89 L392.75,796.99 L393.00,797.08 L393.25,796.89 L393.50,797.03 L393.75,796.74 L394.00,796.47 L394.25,795.35 L394.50,793.97 L394.75,791.67 L395.00,790.44 L395.25,789.88 L395.50,790.76 L395.75,792.77 L396.00,793.97 L396.25,793.52 L396.50,793.79 L396.75,794.73 L397.00,795.90 L397.25,796.55 L397.50,797.07 L397.75,797.01 L398.00,796.99 L398.25,797.03 L398.50,796.98 L398.75,796.84 L399.00,797.01 L399.25,796.85 L399.50,796.96 L399.75,796.96 L400.00,796.93 L400.25,796.87 L400.50,797.01 L400.75,796.99 L401.00,797.16 L401.25,797.07 L401.50,797.11 L401.75,796.94 L402.00,796.96 L402.25,796.85 L402.50,796.89 L402.75,797.08 L403.00,796.97 L403.25,796.98 L403.50,796.93 L403.75,797.18 L404.00,796.99 L404.25,797.13 L404.50,796.99 L404.75,797.11 L405.00,796.88 L405.25,796.84 L405.50,797.13 L405.75,796.96 L406.00,797.03 L406.25,797.10 L406.50,797.08 L406.75,797.03 L407.00,796.86 L407.25,796.92 L407.50,797.00 L407.75,797.07 L408.00,797.06 L408.25,797.04 L408.50,796.91 L408.75,797.00 L409.00,797.11 L409.25,796.89 L409.50,796.93 L409.75,797.11 L410.00,797.19 L410.25,797.05 L410.50,797.00 L410.75,796.88 L411.00,796.98 L411.25,796.90 L411.50,797.01 L411.75,797.08 L412.00,797.05 L412.25,797.15 L412.50,796.87 L412.75,796.84 L413.00,797.16 L413.25,797.12 L413.50,796.87 L413.75,797.00 L414.00,796.86 L414.25,796.98 L414.50,797.01 L414.75,797.06 L415.00,796.75 L415.25,796.49 L415.50,796.20 L415.75,795.22 L416.00,794.26 L416.25,792.90 L416.50,792.52 L416.75,792.71 L417.00,794.23 L417.25,795.41 L417.50,794.89 L417.75,794.86 L418.00,795.17 L418.25,795.89 L418.50,796.49 L418.75,797.06 L419.00,797.05 L419.25,796.91 L419.50,797.04 L419.75,797.06 L420.00,797.05 L420.25,796.88 L420.50,796.94 L420.75,797.11 L421.00,797.08 L421.25,796.96 L421.50,797.29 L421.75,797.03 L422.00,796.95 L422.25,797.11 L422.50,797.09 L422.75,796.98 L423.00,797.21 L423.25,797.13 L423.50,797.00 L423.75,797.08 L424.00,797.08 L424.25,796.97 L424.50,797.09 L424.75,796.94 L425.00,796.97 L425.25,797.08 L425.50,796.85 L425.75,796.96 L426.00,796.88 L426.25,797.08 L426.50,796.93 L426.75,797.22 L427.00,797.18 L427.25,796.92 L427.50,797.02 L427.75,796.96 L428.00,797.00 L428.25,797.08 L428.50,797.18 L428.75,797.26 L429.00,797.22 L429.25,796.85 L429.50,796.94 L429.75,796.98 L430.00,796.96 L430.25,797.02 L430.50,797.08 L430.75,796.95 L431.00,796.93 L431.25,797.28 L431.50,797.08 L431.75,797.26 L432.00,796.93 L432.25,797.16 L432.50,797.20 L432.75,797.16 L433.00,796.91 L433.25,797.07 L433.50,796.91 L433.75,796.87 L434.00,797.00 L434.25,797.06 L434.50,796.98 L434.75,796.99 L435.00,797.08 L435.25,796.92 L435.50,797.05 L435.75,797.09 L436.00,797.08 L436.25,797.07 L436.50,796.88 L436.75,796.97 L437.00,796.95 L437.25,797.08 L437.50,796.79 L437.75,797.02 L438.00,796.81 L438.25,797.08 L438.50,796.94 L438.75,797.01 L439.00,797.11 L439.25,797.20 L439.50,796.88 L439.75,797.01 L440.00,796.77 L440.25,796.98 L440.50,796.92 L440.75,797.08 L441.00,796.99 L441.25,797.01 L441.50,796.87 L441.75,796.96 L442.00,796.87 L442.25,797.00 L442.50,796.81 L442.75,797.03 L443.00,797.13 L443.25,797.31 L443.50,797.18 L443.75,797.15 L444.00,797.09 L444.25,797.19 L444.50,796.99 L444.75,797.04 L445.00,796.77 L445.25,796.93 L445.50,797.13 L445.75,796.79 L446.00,797.03 L446.25,796.98 L446.50,796.94 L446.75,797.02 L447.00,796.98 L447.25,796.84 L447.50,796.96 L447.75,796.73 L448.00,797.07 L448.25,796.71 L448.50,796.34 L448.75,795.13 L449.00,793.79 L449.25,791.63 L449.50,789.84 L449.75,789.36 L450.00,790.43 L450.25,792.25 L450.50,793.78 L450.75,793.14 L451.00,793.50 L451.25,794.62 L451.50,795.69 L451.75,796.38 L452.00,796.83 L452.25,796.89 L452.50,796.91 L452.75,796.79 L453.00,796.84 L453.25,796.85 L453.50,796.98 L453.75,796.97 L454.00,797.04 L454.25,797.13 L454.50,797.08 L454.75,796.98 L455.00,796.94 L455.25,796.96 L455.50,797.07 L455.75,796.89 L456.00,796.82 L456.25,796.97 L456.50,797.12 L456.75,797.14 L457.00,797.07 L457.25,796.77 L457.50,796.98 L457.75,797.08 L458.00,797.13 L458.25,797.22 L458.50,796.89 L458.75,797.04 L459.00,796.81 L459.25,796.97 L459.50,796.95 L459.75,797.10 L460.00,797.02 L460.25,796.79 L460.50,796.99 L460.75,797.04 L461.00,797.17 L461.25,796.91 L461.50,796.90 L461.75,796.93 L462.00,797.12 L462.25,796.97 L462.50,797.01 L462.75,797.05 L463.00,796.90 L463.25,797.13 L463.50,796.81 L463.75,797.22 L464.00,796.92 L464.25,796.89 L464.50,796.91 L464.75,796.86 L465.00,796.90 L465.25,796.90 L465.50,796.86 L465.75,796.98 L466.00,797.04 L466.25,796.93 L466.50,797.02 L466.75,796.90 L467.00,797.03 L467.25,796.96 L467.50,796.87 L467.75,797.01 L468.00,796.98 L468.25,796.92 L468.50,796.99 L468.75,797.06 L469.00,796.85 L469.25,796.94 L469.50,797.07 L469.75,797.00 L470.00,797.09 L470.25,797.29 L470.50,796.85 L470.75,797.04 L471.00,796.96 L471.25,797.17 L471.50,797.07 L471.75,796.83 L472.00,797.13 L472.25,797.00 L472.50,796.96 L472.75,797.00 L473.00,797.03 L473.25,796.90 L473.50,796.95 L473.75,797.16 L474.00,796.88 L474.25,796.93 L474.50,797.09 L474.75,796.89 L475.00,796.98 L475.25,797.04 L475.50,796.89 L475.75,796.96 L476.00,796.89 L476.25,796.97 L476.50,797.03 L476.75,797.00 L477.00,797.03 L477.25,797.04 L477.50,797.09 L477.75,796.87 L478.00,797.01 L478.25,797.19 L478.50,796.97 L478.75,796.97 L479.00,797.00 L479.25,796.91 L479.50,797.07 L479.75,797.00 L480.00,796.98 L480.25,797.09 L480.50,797.14 L480.75,796.83 L481.00,796.94 L481.25,796.97 L481.50,796.83 L481.75,797.08 L482.00,797.25 L482.25,797.09 L482.50,797.15 L482.75,796.77 L483.00,796.95 L483.25,796.84 L483.50,797.09 L483.75,796.98 L484.00,796.98 L484.25,797.06 L484.50,797.09 L484.75,797.19 L485.00,797.16 L485.25,797.11 L485.50,796.80 L485.75,797.15 L486.00,797.01 L486.25,796.81 L486.50,797.02 L486.75,796.97 L487.00,796.98 L487.25,797.11 L487.50,796.83 L487.75,797.07 L488.00,797.14 L488.25,796.86 L488.50,797.16 L488.75,796.91 L489.00,796.90 L489.25,797.10 L489.50,796.98 L489.75,796.76 L490.00,796.90 L490.25,797.05 L490.50,796.87 L490.75,796.79 L491.00,796.59 L491.25,795.99 L491.50,794.82 L491.75,793.26 L492.00,791.89 L492.25,791.17 L492.50,791.09 L492.75,792.77 L493.00,794.45 L493.25,794.03 L493.50,794.23 L493.75,794.48 L494.00,795.65 L494.25,796.47 L494.50,796.90 L494.75,796.58 L495.00,796.97 L495.25,796.86 L495.50,797.04 L495.75,797.16 L496.00,797.04 L496.25,797.19 L496.50,796.79 L496.75,796.89 L497.00,796.93 L497.25,797.07 L497.50,797.14 L497.75,796.90 L498.00,796.89 L498.25,797.10 L498.50,796.84 L498.75,797.06 L499.00,796.90 L499.25,796.99 L499.50,797.25 L499.75,796.97 L500.00,797.00 L500.25,796.90 L500.50,797.06 L500.75,797.18 L501.00,797.07 L501.25,796.84 L501.50,797.04 L501.75,797.19 L502.00,796.88 L502.25,796.98 L502.50,796.89 L502.75,796.93 L503.00,796.88 L503.25,796.84 L503.50,797.06 L503.75,796.99 L504.00,796.74 L504.25,796.87 L504.50,796.91 L504.75,796.87 L505.00,797.02 L505.25,796.98 L505.50,797.04 L505.75,796.84 L506.00,796.91 L506.25,796.95 L506.50,796.95 L506.75,796.96 L507.00,796.91 L507.25,796.98 L507.50,797.20 L507.75,796.91 L508.00,796.80 L508.25,797.03 L508.50,796.89 L508.75,797.10 L509.00,797.12 L509.25,797.20 L509.50,797.02 L509.75,796.80 L510.00,797.19 L510.25,797.11 L510.50,797.15 L510.75,797.01 L511.00,796.96 L511.25,797.00 L511.50,796.78 L511.75,797.12 L512.00,796.93 L512.25,796.93 L512.50,797.04 L512.75,796.90 L513.00,797.10 L513.25,796.93 L513.50,797.28 L513.75,797.15 L514.00,797.08 L514.25,797.04 L514.50,797.01 L514.75,796.94 L515.00,796.77 L515.25,796.93 L515.50,796.91 L515.75,796.94 L516.00,797.01 L516.25,796.78 L516.50,796.85 L516.75,796.92 L517.00,796.95 L517.25,797.11 L517.50,797.32 L517.75,796.98 L518.00,797.08 L518.25,797.00 L518.50,797.03 L518.75,797.21 L519.00,797.02 L519.25,797.07 L519.50,797.01 L519.75,796.93 L520.00,797.13 L520.25,796.98 L520.50,797.18 L520.75,796.87 L521.00,797.06 L521.25,797.20 L521.50,796.93 L521.75,797.04 L522.00,797.18 L522.25,797.05 L522.50,796.91 L522.75,796.96 L523.00,797.04 L523.25,796.93 L523.50,796.95 L523.75,797.02 L524.00,796.85 L524.25,797.20 L524.50,796.93 L524.75,797.00 L525.00,797.01 L525.25,797.17 L525.50,796.96 L525.75,797.25 L526.00,797.22 L526.25,797.09 L526.50,796.84 L526.75,796.84 L527.00,796.97 L527.25,797.04 L527.50,797.08 L527.75,797.15 L528.00,797.06 L528.25,797.01 L528.50,797.05 L528.75,796.76 L529.00,797.14 L529.25,796.82 L529.50,796.77 L529.75,796.92 L530.00,796.95 L530.25,796.85 L530.50,796.98 L530.75,797.01 L531.00,797.08 L531.25,797.05 L531.50,796.94 L531.75,797.01 L532.00,797.15 L532.25,796.97 L532.50,796.98 L532.75,796.75 L533.00,797.04 L533.25,797.25 L533.50,797.09 L533.75,796.97 L534.00,797.15 L534.25,797.15 L534.50,797.16 L534.75,796.86 L535.00,796.86 L535.25,797.08 L535.50,797.06 L535.75,797.05 L536.00,796.82 L536.25,797.09 L536.50,797.22 L536.75,797.12 L537.00,797.23 L537.25,796.85 L537.50,796.53 L537.75,796.23 L538.00,795.47 L538.25,794.48 L538.50,794.32 L538.75,794.78 L539.00,795.29 L539.25,796.23 L539.50,795.97 L539.75,795.96 L540.00,796.06 L540.25,796.44 L540.50,796.84 L540.75,796.87 L541.00,797.05 L541.25,797.03 L541.50,797.09 L541.75,797.01 L542.00,796.90 L542.25,796.65 L542.50,796.83 L542.75,796.81 L543.00,797.03 L543.25,796.68 L543.50,796.58 L543.75,796.35 L544.00,795.90 L544.25,795.50 L544.50,795.26 L544.75,795.57 L545.00,795.74 L545.25,796.43 L545.50,795.96 L545.75,796.09 L546.00,796.40 L546.25,796.69 L546.50,796.79 L546.75,796.85 L547.00,796.83 L547.25,796.72 L547.50,796.76 L547.75,797.19 L548.00,796.78 L548.25,796.81 L548.50,796.80 L548.75,796.97 L549.00,796.97 L549.25,796.93 L549.50,796.84 L549.75,796.98 L550.00,796.83 L550.25,797.04 L550.50,797.18 L550.75,796.88 L551.00,797.02 L551.25,796.94 L551.50,796.95 L551.75,796.84 L552.00,797.01 L552.25,797.00 L552.50,797.15 L552.75,797.29 L553.00,796.87 L553.25,797.13 L553.50,796.90 L553.75,796.93 L554.00,796.86 L554.25,797.06 L554.50,797.15 L554.75,796.99 L555.00,797.02 L555.25,796.90 L555.50,796.96 L555.75,796.84 L556.00,796.99 L556.25,796.75 L556.50,797.27 L556.75,797.15 L557.00,796.93 L557.25,796.94 L557.50,796.94 L557.75,797.01 L558.00,797.02 L558.25,797.22 L558.50,796.93 L558.75,796.75 L559.00,797.01 L559.25,797.02 L559.50,796.85 L559.75,797.02 L560.00,796.86 L560.25,796.74 L560.50,796.77 L560.75,796.55 L561.00,796.59 L561.25,796.77 L561.50,796.64 L561.75,796.51 L562.00,796.42 L562.25,796.43 L562.50,796.27 L562.75,796.48 L563.00,796.43 L563.25,796.52 L563.50,796.86 L563.75,796.65 L564.00,796.81 L564.25,796.87 L564.50,797.02 L564.75,796.90 L565.00,797.02 L565.25,797.02 L565.50,796.96 L565.75,796.92 L566.00,796.87 L566.25,797.12 L566.50,796.89 L566.75,797.14 L567.00,797.20 L567.25,796.93 L567.50,796.88 L567.75,796.88 L568.00,796.94 L568.25,797.16 L568.50,796.90 L568.75,796.87 L569.00,796.80 L569.25,797.01 L569.50,797.05 L569.75,797.18 L570.00,797.03 L570.25,796.99 L570.50,796.99 L570.75,797.35 L571.00,797.19 L571.25,797.11 L571.50,796.96 L571.75,796.98 L572.00,796.99 L572.25,796.99 L572.50,797.06 L572.75,796.92 L573.00,797.23 L573.25,796.88 L573.50,797.08 L573.75,797.09 L574.00,797.12 L574.25,797.16 L574.50,797.04 L574.75,797.03 L575.00,797.18 L575.25,797.16 L575.50,797.00 L575.75,797.11 L576.00,796.86 L576.25,797.05 L576.50,796.75 L576.75,797.15 L577.00,796.93 L577.25,797.11 L577.50,797.06 L577.75,796.93 L578.00,797.10 L578.25,797.20 L578.50,796.90 L578.75,797.23 L579.00,797.05 L579.25,796.89 L579.50,796.97 L579.75,797.05 L580.00,797.09 L580.25,796.91 L580.50,796.96 L580.75,797.06 L581.00,797.04 L581.25,797.24 L581.50,797.10 L581.75,797.11 L582.00,796.89 L582.25,796.89 L582.50,796.88 L582.75,797.00 L583.00,797.08 L583.25,797.20 L583.50,797.12 L583.75,796.90 L584.00,796.99 L584.25,797.26 L584.50,797.02 L584.75,797.06 L585.00,796.83 L585.25,796.83 L585.50,796.94 L585.75,796.97 L586.00,797.06 L586.25,796.98 L586.50,796.79 L586.75,797.28 L587.00,797.03 L587.25,796.78 L587.50,797.17 L587.75,797.04 L588.00,796.80 L588.25,796.52 L588.50,795.89 L588.75,794.35 L589.00,793.17 L589.25,791.64 L589.50,791.09 L589.75,791.54 L590.00,792.97 L590.25,794.82 L590.50,793.66 L590.75,794.29 L591.00,794.97 L591.25,795.52 L591.50,796.37 L591.75,796.69 L592.00,796.86 L592.25,796.83 L592.50,796.83 L592.75,797.01 L593.00,796.96 L593.25,797.07 L593.50,797.09 L593.75,796.93 L594.00,797.25 L594.25,797.20 L594.50,796.82 L594.75,796.98 L595.00,796.96 L595.25,797.05 L595.50,796.88 L595.75,797.19 L596.00,796.96 L596.25,797.26 L596.50,796.91 L596.75,797.24 L597.00,797.05 L597.25,797.12 L597.50,797.04 L597.75,797.05 L598.00,796.89 L598.25,796.98 L598.50,796.92 L598.75,796.98 L599.00,796.96 L599.25,797.10 L599.50,797.04 L599.75,796.97 L600.00,796.80 L600.25,797.12 L600.50,796.92 L600.75,796.96 L601.00,797.06 L601.25,797.00 L601.50,797.01 L601.75,797.02 L602.00,796.78 L602.25,797.09 L602.50,796.98 L602.75,797.10 L603.00,797.01 L603.25,796.95 L603.50,797.18 L603.75,797.02 L604.00,797.12 L604.25,797.08 L604.50,797.10 L604.75,797.13 L605.00,797.08 L605.25,796.89 L605.50,796.98 L605.75,797.17 L606.00,796.99 L606.25,796.96 L606.50,797.01 L606.75,797.12 L607.00,796.90 L607.25,797.00 L607.50,796.95 L607.75,796.92 L608.00,797.09 L608.25,796.94 L608.50,797.01 L608.75,797.05 L609.00,797.06 L609.25,797.06 L609.50,797.09 L609.75,796.92 L610.00,796.71 L610.25,797.11 L610.50,797.20 L610.75,796.96 L611.00,797.01 L611.25,797.11 L611.50,796.91 L611.75,797.00 L612.00,796.95 L612.25,797.07 L612.50,797.01 L612.75,797.20 L613.00,796.90 L613.25,796.92 L613.50,796.84 L613.75,797.03 L614.00,796.99 L614.25,796.98 L614.50,797.07 L614.75,796.89 L615.00,796.83 L615.25,797.25 L615.50,797.00 L615.75,796.89 L616.00,797.13 L616.25,797.02 L616.50,796.89 L616.75,797.04 L617.00,797.13 L617.25,797.09 L617.50,796.99 L617.75,797.20 L618.00,796.90 L618.25,796.98 L618.50,797.06 L618.75,796.88 L619.00,797.08 L619.25,797.05 L619.50,797.12 L619.75,797.04 L620.00,797.24 L620.25,796.84 L620.50,796.96 L620.75,796.94 L621.00,797.00 L621.25,797.08 L621.50,796.88 L621.75,797.12 L622.00,797.14 L622.25,797.02 L622.50,796.84 L622.75,797.08 L623.00,797.05 L623.25,796.89 L623.50,796.92 L623.75,796.94 L624.00,796.83 L624.25,797.05 L624.50,797.13 L624.75,797.04 L625.00,796.92 L625.25,796.99 L625.50,796.99 L625.75,797.21 L626.00,796.94 L626.25,797.04 L626.50,796.93 L626.75,797.09 L627.00,796.83 L627.25,796.94 L627.50,796.79 L627.75,796.84 L628.00,796.53 L628.25,796.60 L628.50,796.65 L628.75,796.51 L629.00,796.22 L629.25,796.58 L629.50,796.28 L629.75,796.18 L630.00,796.17 L630.25,796.14 L630.50,796.50 L630.75,796.55 L631.00,796.66 L631.25,796.46 L631.50,796.44 L631.75,796.49 L632.00,796.64 L632.25,796.80 L632.50,796.77 L632.75,796.74 L633.00,797.02 L633.25,796.89 L633.50,797.02 L633.75,797.13 L634.00,796.90 L634.25,796.93 L634.50,797.14 L634.75,796.82 L635.00,796.94 L635.25,796.86 L635.50,796.97 L635.75,796.92 L636.00,797.02 L636.25,796.94 L636.50,797.14 L636.75,796.90 L637.00,796.98 L637.25,797.08 L637.50,796.89 L637.75,796.92 L638.00,796.98 L638.25,796.95 L638.50,797.09 L638.75,796.91 L639.00,796.82 L639.25,797.07 L639.50,796.90 L639.75,796.92 L640.00,796.96" fill="none" stroke="#e8583a" stroke-width="1.50" stroke-linejoin="round" stroke-linecap="round"/>
<path d="M41.50,922.20 L41.75,922.27 L42.00,922.13 L42.25,922.25 L42.50,922.34 L42.75,922.26 L43.00,922.43 L43.25,922.06 L43.50,922.21 L43.75,922.09 L44.00,922.08 L44.25,922.17 L44.50,922.23 L44.75,922.26 L45.00,922.27 L45.25,922.53 L45.50,922.32 L45.75,921.96 L46.00,922.23 L46.25,922.10 L46.50,922.12 L46.75,922.39 L47.00,922.16 L47.25,921.90 L47.50,922.24 L47.75,922.15 L48.00,922.02 L48.25,922.05 L48.50,922.10 L48.75,922.19 L49.00,922.12 L49.25,922.20 L49.50,922.46 L49.75,922.06 L50.00,922.06 L50.25,922.14 L50.50,922.34 L50.75,922.07 L51.00,922.38 L51.25,921.97 L51.50,922.00 L51.75,922.14 L52.00,922.02 L52.25,922.04 L52.50,922.20 L52.75,922.23 L53.00,922.12 L53.25,922.05 L53.50,922.28 L53.75,922.12 L54.00,922.01 L54.25,922.21 L54.50,921.87 L54.75,922.01 L55.00,922.06 L55.25,921.93 L55.50,921.81 L55.75,921.92 L56.00,921.75 L56.25,921.71 L56.50,921.61 L56.75,921.92 L57.00,921.60 L57.25,921.81 L57.50,921.66 L57.75,921.52 L58.00,921.61 L58.25,921.51 L58.50,921.44 L58.75,921.17 L59.00,921.34 L59.25,921.42 L59.50,921.32 L59.75,921.36 L60.00,921.39 L60.25,921.20 L60.50,921.40 L60.75,920.85 L61.00,921.02 L61.25,920.66 L61.50,921.14 L61.75,921.02 L62.00,921.25 L62.25,920.95 L62.50,920.70 L62.75,921.20 L63.00,920.82 L63.25,920.85 L63.50,921.04 L63.75,921.18 L64.00,921.04 L64.25,921.18 L64.50,920.90 L64.75,921.48 L65.00,921.25 L65.25,921.32 L65.50,921.44 L65.75,921.42 L66.00,921.47 L66.25,921.34 L66.50,921.51 L66.75,921.64 L67.00,921.77 L67.25,921.64 L67.50,921.71 L67.75,921.79 L68.00,921.86 L68.25,921.85 L68.50,921.81 L68.75,921.80 L69.00,922.08 L69.25,921.98 L69.50,921.97 L69.75,922.51 L70.00,922.15 L70.25,922.16 L70.50,922.08 L70.75,921.92 L71.00,922.26 L71.25,922.09 L71.50,922.12 L71.75,922.28 L72.00,922.28 L72.25,922.18 L72.50,922.15 L72.75,922.47 L73.00,922.25 L73.25,922.01 L73.50,922.28 L73.75,922.20 L74.00,922.18 L74.25,922.28 L74.50,922.22 L74.75,922.49 L75.00,922.22 L75.25,922.23 L75.50,922.36 L75.75,922.11 L76.00,922.34 L76.25,922.18 L76.50,922.37 L76.75,922.07 L77.00,922.26 L77.25,921.95 L77.50,922.13 L77.75,922.20 L78.00,922.27 L78.25,922.49 L78.50,922.47 L78.75,921.99 L79.00,922.08 L79.25,922.38 L79.50,922.26 L79.75,921.99 L80.00,922.27 L80.25,922.03 L80.50,922.07 L80.75,922.01 L81.00,922.16 L81.25,922.53 L81.50,922.25 L81.75,922.18 L82.00,922.57 L82.25,922.13 L82.50,922.17 L82.75,922.16 L83.00,922.26 L83.25,922.15 L83.50,922.42 L83.75,922.15 L84.00,922.28 L84.25,922.23 L84.50,922.07 L84.75,922.05 L85.00,922.19 L85.25,921.85 L85.50,922.20 L85.75,922.21 L86.00,922.22 L86.25,922.19 L86.50,922.25 L86.75,922.15 L87.00,922.29 L87.25,921.95 L87.50,922.33 L87.75,922.07 L88.00,922.27 L88.25,922.13 L88.50,922.13 L88.75,922.08 L89.00,922.40 L89.25,922.04 L89.50,922.02 L89.75,922.23 L90.00,922.24 L90.25,922.20 L90.50,922.05 L90.75,922.10 L91.00,922.33 L91.25,922.04 L91.50,922.29 L91.75,922.31 L92.00,922.22 L92.25,922.02 L92.50,922.48 L92.75,922.22 L93.00,922.23 L93.25,922.14 L93.50,922.06 L93.75,922.16 L94.00,922.23 L94.25,922.07 L94.50,922.22 L94.75,922.37 L95.00,922.26 L95.25,922.18 L95.50,922.36 L95.75,922.34 L96.00,922.33 L96.25,922.08 L96.50,921.93 L96.75,922.32 L97.00,922.21 L97.25,922.14 L97.50,922.27 L97.75,922.13 L98.00,922.11 L98.25,922.47 L98.50,921.96 L98.75,922.32 L99.00,922.35 L99.25,922.46 L99.50,922.24 L99.75,922.28 L100.00,922.06 L100.25,922.20 L100.50,921.89 L100.75,922.11 L101.00,922.20 L101.25,922.18 L101.50,922.13 L101.75,922.37 L102.00,921.96 L102.25,922.22 L102.50,922.14 L102.75,922.21 L103.00,922.21 L103.25,922.49 L103.50,922.04 L103.75,922.40 L104.00,922.41 L104.25,922.18 L104.50,922.11 L104.75,922.01 L105.00,922.07 L105.25,922.50 L105.50,921.88 L105.75,922.27 L106.00,922.10 L106.25,922.48 L106.50,922.25 L106.75,922.00 L107.00,922.12 L107.25,922.23 L107.50,922.22 L107.75,922.06 L108.00,922.16 L108.25,922.13 L108.50,922.27 L108.75,922.24 L109.00,922.23 L109.25,922.11 L109.50,922.32 L109.75,922.12 L110.00,922.08 L110.25,922.14 L110.50,922.15 L110.75,922.15 L111.00,921.91 L111.25,922.40 L111.50,922.29 L111.75,922.40 L112.00,922.14 L112.25,922.31 L112.50,922.23 L112.75,922.20 L113.00,922.47 L113.25,922.11 L113.50,922.29 L113.75,921.94 L114.00,922.28 L114.25,922.17 L114.50,922.05 L114.75,922.11 L115.00,921.88 L115.25,922.04 L115.50,922.22 L115.75,921.81 L116.00,922.36 L116.25,922.35 L116.50,922.09 L116.75,921.98 L117.00,921.99 L117.25,922.01 L117.50,922.09 L117.75,922.52 L118.00,922.03 L118.25,922.31 L118.50,922.39 L118.75,922.06 L119.00,922.16 L119.25,922.30 L119.50,922.10 L119.75,922.39 L120.00,922.52 L120.25,922.19 L120.50,922.08 L120.75,922.29 L121.00,922.25 L121.25,922.09 L121.50,922.18 L121.75,922.21 L122.00,922.28 L122.25,922.37 L122.50,922.13 L122.75,922.01 L123.00,921.96 L123.25,922.48 L123.50,922.14 L123.75,922.14 L124.00,922.57 L124.25,922.37 L124.50,922.54 L124.75,922.17 L125.00,922.10 L125.25,922.12 L125.50,922.30 L125.75,922.26 L126.00,922.26 L126.25,922.54 L126.50,922.40 L126.75,922.04 L127.00,922.27 L127.25,922.29 L127.50,922.09 L127.75,922.55 L128.00,922.34 L128.25,922.43 L128.50,922.12 L128.75,922.03 L129.00,922.31 L129.25,922.17 L129.50,922.11 L129.75,922.19 L130.00,922.23 L130.25,922.22 L130.50,922.17 L130.75,922.27 L131.00,922.63 L131.25,922.38 L131.50,922.12 L131.75,922.51 L132.00,922.13 L132.25,921.97 L132.50,921.99 L132.75,921.89 L133.00,922.37 L133.25,922.03 L133.50,921.99 L133.75,922.11 L134.00,922.17 L134.25,922.01 L134.50,922.11 L134.75,922.20 L135.00,922.30 L135.25,922.06 L135.50,922.28 L135.75,922.24 L136.00,922.28 L136.25,922.12 L136.50,922.02 L136.75,922.34 L137.00,922.29 L137.25,922.10 L137.50,922.08 L137.75,922.30 L138.00,922.50 L138.25,922.25 L138.50,922.58 L138.75,922.25 L139.00,922.25 L139.25,922.27 L139.50,922.36 L139.75,921.97 L140.00,922.22 L140.25,922.39 L140.50,921.96 L140.75,922.23 L141.00,922.31 L141.25,922.46 L141.50,922.43 L141.75,922.19 L142.00,922.51 L142.25,922.03 L142.50,921.99 L142.75,922.40 L143.00,922.30 L143.25,922.03 L143.50,922.36 L143.75,922.33 L144.00,922.31 L144.25,922.13 L144.50,922.01 L144.75,921.94 L145.00,922.17 L145.25,922.18 L145.50,922.12 L145.75,922.11 L146.00,922.34 L146.25,922.03 L146.50,922.09 L146.75,922.50 L147.00,922.10 L147.25,922.10 L147.50,922.36 L147.75,921.93 L148.00,922.44 L148.25,922.01 L148.50,922.07 L148.75,922.00 L149.00,922.05 L149.25,922.09 L149.50,922.34 L149.75,922.19 L150.00,922.41 L150.25,922.32 L150.50,922.01 L150.75,922.20 L151.00,922.11 L151.25,922.13 L151.50,922.22 L151.75,922.25 L152.00,922.26 L152.25,921.88 L152.50,922.18 L152.75,922.13 L153.00,922.48 L153.25,922.16 L153.50,922.19 L153.75,922.20 L154.00,922.32 L154.25,922.03 L154.50,922.18 L154.75,922.18 L155.00,922.20 L155.25,922.16 L155.50,922.12 L155.75,922.21 L156.00,922.00 L156.25,922.44 L156.50,922.20 L156.75,921.92 L157.00,922.16 L157.25,922.34 L157.50,922.17 L157.75,922.18 L158.00,921.85 L158.25,922.41 L158.50,922.21 L158.75,921.90 L159.00,922.13 L159.25,922.42 L159.50,922.26 L159.75,921.97 L160.00,922.11 L160.25,922.24 L160.50,922.51 L160.75,922.24 L161.00,922.31 L161.25,922.15 L161.50,922.21 L161.75,922.05 L162.00,922.00 L162.25,921.99 L162.50,922.11 L162.75,922.39 L163.00,922.19 L163.25,922.38 L163.50,922.32 L163.75,922.22 L164.00,922.12 L164.25,922.52 L164.50,922.37 L164.75,922.39 L165.00,922.58 L165.25,922.43 L165.50,922.23 L165.75,922.26 L166.00,922.28 L166.25,922.54 L166.50,922.05 L166.75,921.92 L167.00,922.13 L167.25,922.20 L167.50,922.11 L167.75,922.34 L168.00,922.29 L168.25,922.19 L168.50,922.21 L168.75,922.49 L169.00,922.50 L169.25,922.46 L169.50,922.14 L169.75,922.39 L170.00,922.03 L170.25,921.92 L170.50,922.46 L170.75,922.33 L171.00,922.30 L171.25,922.42 L171.50,922.45 L171.75,922.24 L172.00,922.24 L172.25,922.29 L172.50,922.33 L172.75,922.23 L173.00,922.00 L173.25,922.58 L173.50,922.09 L173.75,922.11 L174.00,922.29 L174.25,922.19 L174.50,922.28 L174.75,922.57 L175.00,922.42 L175.25,922.13 L175.50,922.25 L175.75,922.19 L176.00,922.39 L176.25,922.07 L176.50,922.06 L176.75,921.95 L177.00,922.28 L177.25,922.26 L177.50,922.31 L177.75,922.33 L178.00,922.02 L178.25,922.15 L178.50,922.04 L178.75,922.39 L179.00,922.33 L179.25,921.98 L179.50,922.28 L179.75,922.22 L180.00,922.22 L180.25,922.31 L180.50,922.11 L180.75,922.16 L181.00,922.10 L181.25,922.10 L181.50,922.05 L181.75,922.38 L182.00,922.29 L182.25,922.17 L182.50,921.95 L182.75,922.55 L183.00,922.21 L183.25,922.23 L183.50,922.30 L183.75,922.46 L184.00,922.16 L184.25,921.85 L184.50,922.16 L184.75,922.20 L185.00,922.12 L185.25,922.42 L185.50,922.14 L185.75,922.25 L186.00,922.08 L186.25,922.32 L186.50,922.10 L186.75,922.33 L187.00,922.22 L187.25,922.23 L187.50,922.25 L187.75,921.96 L188.00,922.14 L188.25,922.24 L188.50,922.15 L188.75,922.38 L189.00,922.34 L189.25,922.09 L189.50,922.38 L189.75,922.17 L190.00,922.29 L190.25,922.39 L190.50,922.04 L190.75,922.08 L191.00,922.19 L191.25,922.17 L191.50,921.95 L191.75,922.30 L192.00,922.23 L192.25,922.23 L192.50,922.25 L192.75,922.31 L193.00,922.08 L193.25,922.25 L193.50,922.14 L193.75,922.13 L194.00,922.07 L194.25,922.39 L194.50,921.84 L194.75,922.10 L195.00,922.31 L195.25,922.15 L195.50,922.10 L195.75,922.36 L196.00,922.06 L196.25,922.16 L196.50,922.26 L196.75,922.12 L197.00,922.13 L197.25,922.21 L197.50,922.35 L197.75,922.06 L198.00,922.28 L198.25,922.19 L198.50,922.15 L198.75,922.00 L199.00,922.46 L199.25,922.29 L199.50,922.24 L199.75,922.16 L200.00,922.45 L200.25,922.11 L200.50,922.05 L200.75,922.08 L201.00,922.20 L201.25,922.25 L201.50,921.90 L201.75,922.25 L202.00,922.24 L202.25,922.36 L202.50,922.15 L202.75,922.42 L203.00,922.50 L203.25,922.12 L203.50,922.16 L203.75,922.35 L204.00,922.38 L204.25,922.20 L204.50,922.38 L204.75,921.97 L205.00,922.34 L205.25,922.27 L205.50,922.34 L205.75,922.28 L206.00,922.30 L206.25,922.14 L206.50,922.41 L206.75,921.89 L207.00,922.24 L207.25,922.11 L207.50,922.50 L207.75,922.03 L208.00,922.22 L208.25,922.20 L208.50,922.32 L208.75,922.20 L209.00,922.04 L209.25,922.18 L209.50,922.38 L209.75,922.32 L210.00,922.09 L210.25,922.02 L210.50,922.01 L210.75,922.19 L211.00,922.18 L211.25,922.15 L211.50,922.12 L211.75,922.23 L212.00,922.40 L212.25,922.35 L212.50,922.14 L212.75,922.32 L213.00,922.17 L213.25,922.40 L213.50,922.36 L213.75,922.34 L214.00,922.54 L214.25,922.36 L214.50,922.34 L214.75,922.41 L215.00,922.05 L215.25,922.15 L215.50,922.15 L215.75,922.33 L216.00,922.21 L216.25,922.02 L216.50,922.09 L216.75,922.17 L217.00,922.13 L217.25,922.13 L217.50,921.98 L217.75,922.22 L218.00,922.01 L218.25,922.14 L218.50,922.11 L218.75,922.16 L219.00,922.42 L219.25,922.14 L219.50,922.14 L219.75,921.83 L220.00,922.07 L220.25,922.24 L220.50,922.15 L220.75,922.32 L221.00,922.15 L221.25,922.32 L221.50,922.24 L221.75,922.36 L222.00,922.15 L222.25,922.33 L222.50,922.12 L222.75,922.07 L223.00,922.36 L223.25,921.98 L223.50,922.04 L223.75,922.40 L224.00,922.12 L224.25,921.95 L224.50,921.46 L224.75,920.51 L225.00,919.47 L225.25,917.73 L225.50,917.01 L225.75,916.91 L226.00,917.89 L226.25,919.43 L226.50,919.68 L226.75,919.86 L227.00,919.82 L227.25,920.77 L227.50,921.20 L227.75,921.97 L228.00,922.07 L228.25,922.22 L228.50,922.20 L228.75,922.12 L229.00,922.20 L229.25,922.20 L229.50,922.35 L229.75,922.19 L230.00,922.18 L230.25,922.00 L230.50,922.33 L230.75,922.17 L231.00,922.06 L231.25,922.38 L231.50,922.34 L231.75,922.20 L232.00,922.21 L232.25,922.00 L232.50,921.85 L232.75,922.22 L233.00,921.97 L233.25,922.30 L233.50,922.15 L233.75,922.24 L234.00,922.12 L234.25,922.26 L234.50,922.32 L234.75,922.21 L235.00,922.31 L235.25,922.31 L235.50,922.17 L235.75,921.94 L236.00,922.28 L236.25,922.09 L236.50,922.02 L236.75,921.89 L237.00,921.89 L237.25,922.34 L237.50,922.39 L237.75,922.30 L238.00,922.38 L238.25,921.75 L238.50,922.11 L238.75,921.74 L239.00,921.67 L239.25,921.92 L239.50,921.90 L239.75,921.54 L240.00,921.35 L240.25,921.28 L240.50,921.41 L240.75,921.49 L241.00,921.58 L241.25,921.29 L241.50,921.01 L241.75,920.97 L242.00,921.11 L242.25,921.20 L242.50,920.81 L242.75,921.18 L243.00,921.09 L243.25,921.37 L243.50,921.06 L243.75,921.53 L244.00,921.68 L244.25,921.76 L244.50,921.86 L244.75,921.73 L245.00,921.80 L245.25,921.68 L245.50,921.91 L245.75,921.85 L246.00,922.10 L246.25,922.16 L246.50,922.06 L246.75,922.35 L247.00,921.93 L247.25,922.06 L247.50,922.42 L247.75,922.13 L248.00,922.28 L248.25,921.80 L248.50,922.41 L248.75,922.08 L249.00,922.09 L249.25,922.34 L249.50,922.20 L249.75,921.93 L250.00,922.39 L250.25,922.05 L250.50,922.14 L250.75,922.10 L251.00,922.13 L251.25,922.13 L251.50,922.14 L251.75,922.12 L252.00,922.57 L252.25,922.24 L252.50,922.28 L252.75,922.10 L253.00,922.46 L253.25,922.27 L253.50,922.21 L253.75,922.11 L254.00,922.32 L254.25,921.94 L254.50,922.09 L254.75,922.14 L255.00,922.25 L255.25,922.22 L255.50,921.97 L255.75,922.28 L256.00,922.13 L256.25,922.12 L256.50,922.21 L256.75,922.14 L257.00,922.13 L257.25,922.13 L257.50,922.29 L257.75,922.19 L258.00,922.22 L258.25,922.07 L258.50,922.30 L258.75,922.03 L259.00,921.65 L259.25,921.49 L259.50,920.54 L259.75,920.11 L260.00,920.12 L260.25,920.15 L260.50,920.70 L260.75,921.27 L261.00,921.12 L261.25,921.22 L261.50,921.49 L261.75,921.62 L262.00,921.90 L262.25,921.82 L262.50,922.09 L262.75,922.26 L263.00,922.20 L263.25,922.37 L263.50,922.15 L263.75,922.23 L264.00,922.32 L264.25,922.02 L264.50,922.40 L264.75,921.99 L265.00,922.15 L265.25,921.92 L265.50,922.15 L265.75,922.04 L266.00,922.34 L266.25,921.89 L266.50,922.26 L266.75,922.25 L267.00,922.27 L267.25,922.34 L267.50,922.32 L267.75,922.06 L268.00,922.28 L268.25,922.08 L268.50,922.09 L268.75,922.15 L269.00,922.12 L269.25,922.10 L269.50,922.34 L269.75,922.20 L270.00,921.91 L270.25,922.07 L270.50,922.12 L270.75,922.53 L271.00,922.23 L271.25,922.11 L271.50,922.25 L271.75,921.85 L272.00,922.42 L272.25,922.14 L272.50,922.05 L272.75,922.31 L273.00,922.07 L273.25,922.02 L273.50,922.31 L273.75,922.48 L274.00,922.13 L274.25,922.17 L274.50,922.17 L274.75,922.25 L275.00,922.12 L275.25,922.20 L275.50,922.07 L275.75,922.16 L276.00,922.30 L276.25,921.96 L276.50,922.29 L276.75,922.44 L277.00,922.08 L277.25,922.12 L277.50,922.20 L277.75,922.17 L278.00,922.02 L278.25,922.30 L278.50,922.27 L278.75,922.32 L279.00,922.28 L279.25,922.08 L279.50,922.15 L279.75,922.07 L280.00,922.55 L280.25,922.11 L280.50,922.29 L280.75,922.38 L281.00,922.14 L281.25,922.19 L281.50,922.21 L281.75,922.38 L282.00,921.96 L282.25,922.18 L282.50,922.20 L282.75,922.19 L283.00,922.00 L283.25,922.25 L283.50,922.17 L283.75,921.94 L284.00,921.92 L284.25,922.35 L284.50,921.95 L284.75,921.79 L285.00,922.05 L285.25,921.80 L285.50,921.91 L285.75,921.92 L286.00,921.61 L286.25,921.28 L286.50,920.96 L286.75,918.03 L287.00,911.56 L287.25,897.97 L287.50,875.24 L287.75,846.91 L288.00,823.44 L288.25,817.28 L288.50,831.32 L288.75,858.22 L289.00,878.35 L289.25,869.87 L289.50,873.64 L289.75,887.24 L290.00,902.36 L290.25,913.34 L290.50,918.77 L290.75,920.97 L291.00,921.85 L291.25,922.10 L291.50,921.94 L291.75,921.92 L292.00,922.03 L292.25,922.23 L292.50,922.07 L292.75,922.06 L293.00,922.08 L293.25,922.07 L293.50,922.20 L293.75,922.07 L294.00,922.15 L294.25,922.11 L294.50,922.03 L294.75,922.15 L295.00,922.19 L295.25,921.90 L295.50,922.19 L295.75,922.20 L296.00,922.14 L296.25,922.01 L296.50,922.07 L296.75,922.27 L297.00,922.04 L297.25,922.32 L297.50,922.11 L297.75,922.23 L298.00,921.74 L298.25,922.26 L298.50,922.20 L298.75,921.94 L299.00,922.33 L299.25,922.11 L299.50,922.01 L299.75,922.39 L300.00,922.39 L300.25,922.34 L300.50,922.31 L300.75,922.35 L301.00,921.93 L301.25,922.16 L301.50,922.39 L301.75,922.27 L302.00,922.21 L302.25,922.15 L302.50,922.14 L302.75,922.08 L303.00,922.18 L303.25,921.77 L303.50,922.34 L303.75,922.19 L304.00,921.77 L304.25,922.19 L304.50,922.22 L304.75,922.18 L305.00,922.29 L305.25,922.31 L305.50,922.28 L305.75,921.94 L306.00,921.88 L306.25,922.07 L306.50,922.31 L306.75,921.87 L307.00,921.97 L307.25,921.77 L307.50,921.51 L307.75,920.89 L308.00,920.88 L308.25,920.67 L308.50,921.05 L308.75,921.31 L309.00,921.57 L309.25,921.60 L309.50,921.70 L309.75,921.78 L310.00,921.81 L310.25,922.12 L310.50,922.31 L310.75,922.30 L311.00,922.44 L311.25,922.37 L311.50,922.14 L311.75,922.51 L312.00,922.30 L312.25,922.30 L312.50,922.23 L312.75,922.02 L313.00,921.90 L313.25,922.30 L313.50,922.35 L313.75,922.45 L314.00,922.07 L314.25,922.19 L314.50,922.13 L314.75,922.29 L315.00,922.09 L315.25,922.08 L315.50,921.98 L315.75,922.17 L316.00,922.34 L316.25,922.02 L316.50,922.13 L316.75,922.41 L317.00,922.08 L317.25,921.89 L317.50,922.06 L317.75,922.32 L318.00,922.20 L318.25,922.06 L318.50,922.10 L318.75,922.38 L319.00,921.99 L319.25,922.41 L319.50,922.14 L319.75,922.28 L320.00,922.04 L320.25,922.07 L320.50,922.56 L320.75,922.18 L321.00,922.05 L321.25,922.28 L321.50,922.10 L321.75,922.05 L322.00,922.07 L322.25,922.12 L322.50,922.40 L322.75,921.95 L323.00,922.26 L323.25,921.96 L323.50,922.29 L323.75,922.12 L324.00,922.29 L324.25,922.16 L324.50,922.34 L324.75,922.30 L325.00,922.26 L325.25,922.30 L325.50,922.13 L325.75,922.15 L326.00,922.08 L326.25,922.28 L326.50,922.26 L326.75,922.18 L327.00,922.03 L327.25,922.19 L327.50,922.27 L327.75,922.32 L328.00,922.11 L328.25,922.31 L328.50,922.02 L328.75,922.13 L329.00,922.04 L329.25,922.23 L329.50,922.07 L329.75,922.09 L330.00,922.35 L330.25,922.35 L330.50,921.95 L330.75,922.36 L331.00,922.33 L331.25,922.34 L331.50,922.13 L331.75,922.40 L332.00,922.29 L332.25,922.00 L332.50,921.89 L332.75,922.05 L333.00,922.27 L333.25,922.69 L333.50,922.00 L333.75,922.28 L334.00,922.22 L334.25,922.23 L334.50,922.30 L334.75,922.36 L335.00,922.22 L335.25,922.47 L335.50,922.32 L335.75,922.38 L336.00,922.39 L336.25,922.06 L336.50,922.45 L336.75,922.07 L337.00,922.23 L337.25,922.17 L337.50,922.07 L337.75,922.19 L338.00,921.97 L338.25,922.29 L338.50,922.19 L338.75,922.10 L339.00,922.23 L339.25,922.25 L339.50,922.18 L339.75,921.92 L340.00,922.27 L340.25,922.24 L340.50,922.49 L340.75,922.55 L341.00,922.38 L341.25,922.28 L341.50,922.26 L341.75,922.13 L342.00,922.14 L342.25,922.07 L342.50,922.09 L342.75,922.07 L343.00,922.39 L343.25,922.45 L343.50,921.77 L343.75,922.20 L344.00,921.88 L344.25,921.98 L344.50,922.17 L344.75,922.15 L345.00,922.66 L345.25,922.21 L345.50,922.06 L345.75,921.97 L346.00,922.27 L346.25,922.07 L346.50,922.13 L346.75,921.98 L347.00,922.37 L347.25,922.26 L347.50,922.36 L347.75,922.11 L348.00,922.20 L348.25,922.13 L348.50,922.03 L348.75,922.28 L349.00,921.91 L349.25,922.08 L349.50,921.98 L349.75,922.19 L350.00,921.95 L350.25,922.14 L350.50,922.03 L350.75,922.07 L351.00,922.05 L351.25,922.33 L351.50,921.64 L351.75,921.28 L352.00,919.48 L352.25,917.29 L352.50,913.33 L352.75,910.20 L353.00,908.49 L353.25,910.27 L353.50,913.28 L353.75,916.73 L354.00,915.60 L354.25,916.00 L354.50,917.22 L354.75,919.32 L355.00,921.01 L355.25,921.83 L355.50,921.88 L355.75,921.90 L356.00,922.32 L356.25,922.25 L356.50,922.30 L356.75,922.33 L357.00,922.20 L357.25,922.29 L357.50,922.10 L357.75,922.15 L358.00,922.21 L358.25,922.10 L358.50,922.16 L358.75,922.44 L359.00,922.18 L359.25,922.32 L359.50,922.23 L359.75,922.01 L360.00,922.31 L360.25,921.91 L360.50,922.26 L360.75,922.18 L361.00,922.07 L361.25,922.30 L361.50,922.13 L361.75,922.49 L362.00,921.93 L362.25,922.41 L362.50,922.34 L362.75,922.27 L363.00,922.01 L363.25,922.01 L363.50,921.88 L363.75,922.23 L364.00,922.16 L364.25,922.33 L364.50,922.23 L364.75,922.29 L365.00,921.96 L365.25,922.22 L365.50,922.26 L365.75,922.36 L366.00,921.81 L366.25,922.37 L366.50,921.93 L366.75,922.21 L367.00,922.23 L367.25,922.52 L367.50,922.28 L367.75,922.21 L368.00,922.08 L368.25,922.06 L368.50,921.99 L368.75,922.16 L369.00,922.07 L369.25,922.38 L369.50,922.04 L369.75,922.32 L370.00,922.17 L370.25,922.07 L370.50,922.22 L370.75,921.92 L371.00,922.25 L371.25,922.20 L371.50,922.12 L371.75,922.24 L372.00,922.28 L372.25,922.35 L372.50,922.21 L372.75,922.12 L373.00,922.28 L373.25,921.92 L373.50,922.45 L373.75,922.15 L374.00,922.26 L374.25,922.43 L374.50,922.09 L374.75,922.14 L375.00,922.23 L375.25,922.07 L375.50,922.36 L375.75,921.94 L376.00,922.13 L376.25,922.25 L376.50,922.23 L376.75,922.12 L377.00,922.42 L377.25,922.41 L377.50,922.21 L377.75,922.31 L378.00,922.01 L378.25,922.35 L378.50,922.24 L378.75,922.32 L379.00,922.30 L379.25,922.24 L379.50,922.19 L379.75,921.98 L380.00,921.93 L380.25,922.01 L380.50,922.31 L380.75,922.22 L381.00,922.10 L381.25,922.08 L381.50,922.30 L381.75,922.17 L382.00,922.42 L382.25,922.13 L382.50,922.03 L382.75,921.86 L383.00,922.06 L383.25,922.23 L383.50,921.95 L383.75,922.26 L384.00,922.25 L384.25,921.96 L384.50,922.17 L384.75,921.79 L385.00,921.68 L385.25,920.74 L385.50,919.20 L385.75,916.27 L386.00,913.28 L386.25,911.10 L386.50,910.71 L386.75,912.69 L387.00,915.69 L387.25,917.24 L387.50,916.43 L387.75,917.20 L388.00,918.81 L388.25,920.36 L388.50,921.43 L388.75,921.81 L389.00,922.09 L389.25,922.24 L389.50,921.98 L389.75,922.03 L390.00,922.29 L390.25,922.44 L390.50,922.26 L390.75,922.19 L391.00,922.41 L391.25,922.34 L391.50,922.40 L391.75,922.31 L392.00,922.22 L392.25,922.32 L392.50,922.42 L392.75,922.35 L393.00,921.96 L393.25,922.45 L393.50,922.13 L393.75,922.01 L394.00,922.01 L394.25,922.24 L394.50,921.85 L394.75,922.01 L395.00,922.21 L395.25,922.29 L395.50,922.43 L395.75,922.19 L396.00,922.08 L396.25,922.07 L396.50,922.30 L396.75,922.21 L397.00,922.24 L397.25,922.08 L397.50,922.06 L397.75,922.09 L398.00,922.22 L398.25,922.24 L398.50,922.42 L398.75,922.29 L399.00,922.21 L399.25,922.38 L399.50,921.97 L399.75,922.08 L400.00,922.28 L400.25,922.33 L400.50,922.21 L400.75,921.98 L401.00,921.99 L401.25,922.23 L401.50,922.27 L401.75,921.90 L402.00,922.13 L402.25,922.19 L402.50,922.35 L402.75,922.36 L403.00,922.13 L403.25,922.05 L403.50,922.16 L403.75,922.10 L404.00,922.08 L404.25,922.29 L404.50,922.20 L404.75,921.81 L405.00,922.19 L405.25,922.27 L405.50,921.99 L405.75,922.42 L406.00,922.25 L406.25,922.20 L406.50,922.11 L406.75,922.35 L407.00,922.35 L407.25,922.08 L407.50,921.84 L407.75,922.38 L408.00,922.17 L408.25,921.88 L408.50,922.36 L408.75,921.80 L409.00,922.09 L409.25,921.96 L409.50,921.97 L409.75,922.19 L410.00,922.54 L410.25,922.06 L410.50,922.38 L410.75,922.07 L411.00,922.04 L411.25,922.21 L411.50,921.91 L411.75,922.43 L412.00,922.06 L412.25,921.97 L412.50,922.16 L412.75,922.14 L413.00,922.07 L413.25,922.24 L413.50,922.42 L413.75,922.15 L414.00,922.08 L414.25,922.33 L414.50,922.34 L414.75,922.08 L415.00,922.16 L415.25,922.06 L415.50,921.97 L415.75,922.31 L416.00,922.27 L416.25,922.41 L416.50,922.46 L416.75,921.78 L417.00,921.99 L417.25,922.16 L417.50,922.46 L417.75,922.19 L418.00,922.32 L418.25,922.06 L418.50,922.38 L418.75,922.40 L419.00,922.39 L419.25,922.32 L419.50,922.12 L419.75,922.45 L420.00,922.08 L420.25,922.05 L420.50,922.06 L420.75,922.20 L421.00,922.37 L421.25,922.18 L421.50,922.25 L421.75,922.15 L422.00,922.25 L422.25,922.13 L422.50,921.82 L422.75,922.08 L423.00,921.02 L423.25,919.51 L423.50,917.21 L423.75,914.61 L424.00,913.13 L424.25,913.44 L424.50,915.34 L424.75,917.69 L425.00,917.86 L425.25,917.58 L425.50,918.20 L425.75,919.62 L426.00,920.87 L426.25,921.56 L426.50,922.06 L426.75,922.44 L427.00,922.07 L427.25,921.95 L427.50,922.07 L427.75,922.35 L428.00,922.02 L428.25,922.34 L428.50,922.36 L428.75,922.14 L429.00,921.97 L429.25,922.26 L429.50,922.05 L429.75,922.20 L430.00,922.47 L430.25,922.23 L430.50,921.90 L430.75,922.18 L431.00,922.02 L431.25,922.46 L431.50,922.23 L431.75,922.09 L432.00,922.20 L432.25,922.15 L432.50,922.04 L432.75,921.99 L433.00,922.18 L433.25,922.08 L433.50,922.14 L433.75,922.27 L434.00,922.36 L434.25,922.08 L434.50,922.23 L434.75,922.03 L435.00,921.87 L435.25,922.35 L435.50,922.43 L435.75,922.10 L436.00,922.01 L436.25,921.94 L436.50,922.14 L436.75,922.32 L437.00,922.25 L437.25,921.98 L437.50,922.22 L437.75,921.96 L438.00,922.14 L438.25,922.24 L438.50,922.24 L438.75,921.90 L439.00,922.07 L439.25,922.17 L439.50,922.25 L439.75,922.12 L440.00,922.27 L440.25,922.38 L440.50,921.95 L440.75,922.23 L441.00,922.55 L441.25,922.23 L441.50,922.17 L441.75,922.37 L442.00,922.34 L442.25,922.22 L442.50,921.84 L442.75,922.18 L443.00,922.23 L443.25,922.27 L443.50,922.42 L443.75,921.95 L444.00,922.02 L444.25,922.20 L444.50,922.32 L444.75,922.08 L445.00,922.05 L445.25,922.25 L445.50,922.20 L445.75,922.32 L446.00,922.16 L446.25,922.24 L446.50,921.94 L446.75,922.26 L447.00,922.25 L447.25,922.14 L447.50,922.00 L447.75,922.43 L448.00,922.32 L448.25,922.16 L448.50,922.32 L448.75,922.46 L449.00,922.14 L449.25,922.41 L449.50,922.30 L449.75,922.15 L450.00,922.14 L450.25,922.38 L450.50,922.35 L450.75,922.29 L451.00,922.06 L451.25,922.12 L451.50,922.18 L451.75,921.97 L452.00,921.96 L452.25,922.06 L452.50,922.25 L452.75,922.27 L453.00,922.18 L453.25,922.29 L453.50,922.43 L453.75,922.02 L454.00,922.31 L454.25,922.10 L454.50,922.40 L454.75,921.91 L455.00,922.23 L455.25,921.91 L455.50,922.18 L455.75,922.17 L456.00,922.14 L456.25,922.30 L456.50,922.00 L456.75,922.16 L457.00,922.29 L457.25,922.13 L457.50,922.28 L457.75,922.18 L458.00,922.22 L458.25,922.06 L458.50,922.00 L458.75,922.11 L459.00,922.37 L459.25,922.25 L459.50,922.12 L459.75,922.09 L460.00,922.35 L460.25,922.29 L460.50,922.17 L460.75,922.27 L461.00,922.19 L461.25,922.37 L461.50,922.03 L461.75,922.20 L462.00,922.24 L462.25,922.23 L462.50,922.04 L462.75,922.05 L463.00,922.26 L463.25,922.39 L463.50,921.99 L463.75,922.07 L464.00,922.28 L464.25,922.04 L464.50,922.14 L464.75,922.09 L465.00,921.64 L465.25,921.09 L465.50,918.52 L465.75,913.60 L466.00,905.77 L466.25,895.83 L466.50,887.29 L466.75,885.15 L467.00,890.13 L467.25,899.69 L467.50,906.51 L467.75,903.73 L468.00,905.24 L468.25,909.75 L468.50,915.15 L468.75,919.02 L469.00,920.83 L469.25,921.80 L469.50,921.98 L469.75,922.00 L470.00,922.35 L470.25,922.06 L470.50,922.07 L470.75,921.75 L471.00,922.23 L471.25,922.14 L471.50,922.31 L471.75,922.06 L472.00,922.15 L472.25,922.16 L472.50,922.42 L472.75,922.29 L473.00,921.89 L473.25,922.50 L473.50,922.35 L473.75,922.10 L474.00,921.99 L474.25,922.04 L474.50,921.84 L474.75,921.93 L475.00,921.79 L475.25,920.79 L475.50,918.93 L475.75,916.41 L476.00,913.25 L476.25,910.88 L476.50,910.70 L476.75,912.81 L477.00,915.78 L477.25,917.19 L477.50,916.45 L477.75,916.98 L478.00,918.74 L478.25,920.27 L478.50,921.31 L478.75,921.97 L479.00,922.19 L479.25,922.28 L479.50,922.21 L479.75,921.96 L480.00,922.19 L480.25,922.24 L480.50,922.31 L480.75,922.25 L481.00,922.18 L481.25,922.19 L481.50,922.37 L481.75,922.33 L482.00,922.20 L482.25,922.24 L482.50,922.22 L482.75,922.14 L483.00,922.19 L483.25,922.15 L483.50,922.30 L483.75,922.07 L484.00,922.14 L484.25,922.28 L484.50,922.26 L484.75,922.06 L485.00,922.07 L485.25,922.15 L485.50,922.25 L485.75,922.31 L486.00,922.19 L486.25,922.44 L486.50,922.31 L486.75,921.97 L487.00,922.16 L487.25,922.33 L487.50,922.35 L487.75,922.14 L488.00,922.16 L488.25,922.17 L488.50,922.23 L488.75,922.04 L489.00,922.23 L489.25,922.37 L489.50,922.24 L489.75,922.33 L490.00,922.10 L490.25,922.32 L490.50,922.15 L490.75,922.28 L491.00,922.29 L491.25,922.04 L491.50,922.05 L491.75,922.35 L492.00,922.30 L492.25,922.27 L492.50,922.09 L492.75,922.33 L493.00,922.30 L493.25,922.08 L493.50,922.03 L493.75,922.31 L494.00,922.22 L494.25,922.07 L494.50,922.14 L494.75,922.07 L495.00,922.26 L495.25,922.21 L495.50,922.34 L495.75,922.25 L496.00,922.23 L496.25,922.39 L496.50,922.18 L496.75,922.04 L497.00,922.18 L497.25,922.07 L497.50,922.30 L497.75,922.46 L498.00,922.10 L498.25,922.16 L498.50,922.00 L498.75,922.44 L499.00,922.47 L499.25,922.31 L499.50,922.43 L499.75,922.40 L500.00,922.12 L500.25,922.18 L500.50,922.18 L500.75,922.35 L501.00,921.99 L501.25,922.04 L501.50,922.26 L501.75,922.11 L502.00,921.97 L502.25,922.07 L502.50,922.30 L502.75,922.45 L503.00,922.21 L503.25,922.40 L503.50,922.01 L503.75,922.20 L504.00,922.25 L504.25,922.13 L504.50,922.17 L504.75,922.59 L505.00,921.98 L505.25,921.97 L505.50,922.22 L505.75,922.33 L506.00,921.97 L506.25,922.07 L506.50,922.14 L506.75,922.20 L507.00,921.96 L507.25,922.29 L507.50,922.25 L507.75,922.16 L508.00,921.94 L508.25,922.41 L508.50,922.18 L508.75,921.99 L509.00,922.29 L509.25,922.35 L509.50,922.05 L509.75,922.29 L510.00,922.13 L510.25,922.20 L510.50,922.26 L510.75,922.05 L511.00,922.28 L511.25,922.39 L511.50,922.16 L511.75,922.27 L512.00,922.17 L512.25,922.18 L512.50,922.37 L512.75,922.10 L513.00,922.17 L513.25,922.55 L513.50,922.18 L513.75,922.19 L514.00,922.19 L514.25,922.15 L514.50,922.17 L514.75,922.39 L515.00,922.00 L515.25,921.89 L515.50,922.24 L515.75,922.11 L516.00,922.13 L516.25,922.18 L516.50,922.15 L516.75,922.05 L517.00,922.17 L517.25,922.15 L517.50,922.04 L517.75,922.21 L518.00,922.41 L518.25,922.26 L518.50,922.45 L518.75,922.17 L519.00,922.27 L519.25,922.18 L519.50,922.07 L519.75,922.05 L520.00,921.94 L520.25,922.28 L520.50,922.15 L520.75,922.23 L521.00,922.00 L521.25,921.98 L521.50,922.05 L521.75,922.35 L522.00,922.45 L522.25,922.53 L522.50,922.23 L522.75,922.20 L523.00,921.98 L523.25,921.93 L523.50,922.14 L523.75,922.19 L524.00,922.18 L524.25,922.02 L524.50,922.17 L524.75,922.24 L525.00,922.25 L525.25,922.47 L525.50,922.02 L525.75,922.23 L526.00,922.11 L526.25,922.08 L526.50,922.22 L526.75,921.96 L527.00,922.41 L527.25,922.23 L527.50,922.38 L527.75,922.23 L528.00,922.45 L528.25,922.07 L528.50,922.08 L528.75,922.53 L529.00,922.31 L529.25,922.41 L529.50,922.20 L529.75,922.16 L530.00,922.19 L530.25,922.39 L530.50,922.29 L530.75,922.20 L531.00,921.89 L531.25,922.28 L531.50,922.33 L531.75,922.45 L532.00,922.19 L532.25,921.93 L532.50,922.09 L532.75,922.37 L533.00,922.27 L533.25,922.30 L533.50,922.23 L533.75,922.13 L534.00,922.14 L534.25,922.18 L534.50,922.27 L534.75,922.00 L535.00,922.42 L535.25,922.41 L535.50,922.07 L535.75,922.02 L536.00,922.45 L536.25,922.33 L536.50,922.15 L536.75,922.06 L537.00,922.43 L537.25,922.32 L537.50,922.25 L537.75,922.46 L538.00,922.07 L538.25,922.13 L538.50,922.08 L538.75,922.24 L539.00,921.89 L539.25,922.18 L539.50,922.06 L539.75,922.14 L540.00,922.05 L540.25,921.82 L540.50,922.28 L540.75,922.37 L541.00,922.34 L541.25,922.08 L541.50,922.21 L541.75,922.29 L542.00,922.15 L542.25,922.01 L542.50,922.26 L542.75,922.23 L543.00,922.13 L543.25,922.38 L543.50,922.08 L543.75,922.24 L544.00,922.20 L544.25,922.40 L544.50,922.23 L544.75,922.06 L545.00,921.97 L545.25,922.26 L545.50,922.03 L545.75,922.39 L546.00,922.31 L546.25,922.20 L546.50,922.13 L546.75,922.16 L547.00,922.40 L547.25,922.25 L547.50,921.99 L547.75,922.12 L548.00,922.27 L548.25,922.09 L548.50,922.44 L548.75,922.03 L549.00,922.32 L549.25,922.16 L549.50,922.43 L549.75,922.30 L550.00,922.21 L550.25,922.24 L550.50,922.15 L550.75,921.96 L551.00,922.15 L551.25,922.12 L551.50,922.15 L551.75,922.06 L552.00,921.94 L552.25,922.16 L552.50,922.06 L552.75,922.23 L553.00,922.21 L553.25,921.88 L553.50,922.05 L553.75,921.94 L554.00,921.95 L554.25,921.78 L554.50,921.71 L554.75,921.93 L555.00,921.70 L555.25,921.36 L555.50,921.29 L555.75,921.38 L556.00,921.21 L556.25,921.15 L556.50,921.03 L556.75,921.20 L557.00,921.16 L557.25,921.11 L557.50,920.99 L557.75,920.99 L558.00,920.85 L558.25,921.38 L558.50,921.21 L558.75,921.17 L559.00,921.58 L559.25,921.20 L559.50,921.40 L559.75,921.49 L560.00,921.57 L560.25,921.75 L560.50,921.74 L560.75,921.85 L561.00,921.87 L561.25,922.04 L561.50,921.97 L561.75,921.94 L562.00,922.26 L562.25,921.89 L562.50,922.27 L562.75,922.36 L563.00,922.12 L563.25,921.89 L563.50,921.73 L563.75,921.08 L564.00,920.17 L564.25,919.56 L564.50,918.88 L564.75,918.49 L565.00,919.29 L565.25,920.37 L565.50,920.92 L565.75,920.35 L566.00,920.67 L566.25,921.39 L566.50,921.73 L566.75,921.82 L567.00,922.42 L567.25,922.33 L567.50,922.12 L567.75,922.25 L568.00,922.18 L568.25,922.23 L568.50,922.27 L568.75,922.15 L569.00,922.57 L569.25,922.20 L569.50,922.12 L569.75,922.39 L570.00,922.11 L570.25,922.30 L570.50,922.41 L570.75,922.09 L571.00,922.05 L571.25,922.44 L571.50,922.24 L571.75,921.90 L572.00,922.06 L572.25,922.27 L572.50,922.33 L572.75,922.10 L573.00,922.06 L573.25,922.36 L573.50,922.14 L573.75,922.03 L574.00,922.60 L574.25,922.41 L574.50,922.28 L574.75,922.38 L575.00,922.18 L575.25,922.24 L575.50,922.22 L575.75,922.35 L576.00,922.26 L576.25,922.22 L576.50,922.05 L576.75,922.18 L577.00,922.32 L577.25,922.24 L577.50,922.25 L577.75,922.49 L578.00,922.47 L578.25,922.06 L578.50,922.33 L578.75,922.10 L579.00,922.23 L579.25,922.41 L579.50,922.26 L579.75,922.53 L580.00,922.24 L580.25,922.39 L580.50,922.15 L580.75,922.15 L581.00,922.18 L581.25,922.03 L581.50,922.14 L581.75,922.02 L582.00,922.21 L582.25,922.13 L582.50,922.24 L582.75,922.42 L583.00,922.33 L583.25,922.28 L583.50,922.18 L583.75,922.12 L584.00,922.01 L584.25,922.33 L584.50,922.23 L584.75,922.32 L585.00,921.91 L585.25,922.17 L585.50,921.91 L585.75,922.16 L586.00,922.13 L586.25,922.21 L586.50,922.33 L586.75,922.10 L587.00,922.33 L587.25,922.34 L587.50,922.19 L587.75,922.20 L588.00,922.17 L588.25,922.27 L588.50,922.09 L588.75,922.28 L589.00,922.24 L589.25,922.18 L589.50,922.19 L589.75,922.23 L590.00,922.10 L590.25,922.29 L590.50,922.16 L590.75,922.28 L591.00,922.09 L591.25,922.46 L591.50,922.35 L591.75,922.09 L592.00,922.10 L592.25,922.14 L592.50,922.23 L592.75,922.18 L593.00,922.01 L593.25,922.19 L593.50,921.85 L593.75,922.17 L594.00,922.13 L594.25,922.14 L594.50,922.34 L594.75,922.29 L595.00,922.26 L595.25,921.99 L595.50,921.66 L595.75,920.81 L596.00,920.16 L596.25,918.94 L596.50,918.23 L596.75,918.40 L597.00,918.99 L597.25,920.26 L597.50,920.32 L597.75,920.02 L598.00,920.65 L598.25,920.99 L598.50,921.19 L598.75,921.01 L599.00,920.69 L599.25,920.28 L599.50,919.96 L599.75,920.05 L600.00,919.82 L600.25,919.89 L600.50,919.98 L600.75,920.14 L601.00,920.89 L601.25,920.48 L601.50,921.21 L601.75,921.29 L602.00,921.42 L602.25,921.88 L602.50,921.88 L602.75,921.88 L603.00,921.97 L603.25,922.01 L603.50,922.10 L603.75,922.20 L604.00,922.15 L604.25,922.05 L604.50,922.01 L604.75,922.12 L605.00,922.35 L605.25,922.01 L605.50,922.17 L605.75,921.84 L606.00,922.24 L606.25,922.12 L606.50,922.40 L606.75,921.97 L607.00,922.24 L607.25,922.31 L607.50,922.22 L607.75,921.88 L608.00,922.43 L608.25,922.30 L608.50,922.31 L608.75,922.08 L609.00,922.21 L609.25,922.31 L609.50,922.22 L609.75,922.49 L610.00,922.20 L610.25,922.08 L610.50,922.19 L610.75,921.92 L611.00,922.17 L611.25,922.52 L611.50,922.16 L611.75,922.16 L612.00,922.09 L612.25,922.28 L612.50,922.27 L612.75,922.39 L613.00,921.87 L613.25,922.36 L613.50,922.01 L613.75,922.25 L614.00,922.20 L614.25,922.18 L614.50,922.06 L614.75,922.48 L615.00,922.01 L615.25,921.92 L615.50,922.39 L615.75,922.23 L616.00,922.10 L616.25,922.21 L616.50,921.93 L616.75,922.15 L617.00,922.09 L617.25,921.73 L617.50,921.82 L617.75,921.70 L618.00,921.69 L618.25,921.53 L618.50,921.70 L618.75,921.36 L619.00,921.54 L619.25,921.55 L619.50,921.26 L619.75,921.15 L620.00,921.33 L620.25,921.40 L620.50,921.30 L620.75,921.26 L621.00,921.10 L621.25,921.36 L621.50,921.46 L621.75,921.54 L622.00,921.85 L622.25,921.58 L622.50,921.65 L622.75,921.53 L623.00,921.90 L623.25,921.74 L623.50,922.27 L623.75,921.80 L624.00,921.97 L624.25,921.83 L624.50,922.18 L624.75,922.15 L625.00,921.89 L625.25,922.07 L625.50,922.47 L625.75,922.24 L626.00,922.21 L626.25,922.16 L626.50,922.15 L626.75,921.96 L627.00,922.13 L627.25,922.38 L627.50,922.26 L627.75,922.34 L628.00,922.32 L628.25,922.11 L628.50,922.06 L628.75,922.20 L629.00,922.12 L629.25,922.03 L629.50,922.06 L629.75,922.32 L630.00,921.95 L630.25,921.95 L630.50,922.17 L630.75,922.29 L631.00,922.20 L631.25,922.31 L631.50,922.12 L631.75,922.18 L632.00,922.26 L632.25,922.34 L632.50,922.34 L632.75,922.20 L633.00,922.28 L633.25,922.11 L633.50,921.99 L633.75,922.05 L634.00,922.01 L634.25,921.67 L634.50,921.65 L634.75,921.16 L635.00,920.19 L635.25,918.91 L635.50,917.95 L635.75,917.74 L636.00,918.36 L636.25,919.59 L636.50,920.08 L636.75,919.77 L637.00,920.46 L637.25,920.87 L637.50,921.30 L637.75,921.93 L638.00,922.18 L638.25,922.18 L638.50,922.32 L638.75,922.19 L639.00,922.15 L639.25,922.01 L639.50,922.22 L639.75,922.58 L640.00,922.35" fill="none" stroke="#beb4ea" stroke-width="2.20" stroke-linejoin="round" stroke-linecap="round"/>
<path d="M42.00,1048.15 L42.70,1048.15 L43.40,1049.23 L44.10,1047.44 L44.80,1048.71 L45.50,1047.42 L46.20,1049.41 L46.90,1048.85 L47.60,1049.51 L48.30,1048.35 L49.00,1048.85 L49.70,1048.39 L50.40,1048.06 L51.10,1048.52 L51.80,1047.60 L52.50,1048.05 L53.20,1048.58 L53.90,1048.07 L54.60,1047.65 L55.30,1049.05 L56.00,1047.59 L56.70,1046.99 L57.40,1047.21 L58.10,1046.55 L58.80,1046.35 L59.50,1046.07 L60.20,1047.17 L60.90,1045.61 L61.60,1045.33 L62.30,1045.24 L63.00,1045.63 L63.70,1043.87 L64.40,1043.20 L65.10,1044.63 L65.80,1041.85 L66.50,1042.10 L67.20,1042.34 L67.90,1042.95 L68.60,1040.70 L69.30,1039.55 L70.00,1041.20 L70.70,1040.35 L71.40,1040.37 L72.10,1040.88 L72.80,1040.82 L73.50,1041.01 L74.20,1040.78 L74.90,1042.09 L75.60,1042.53 L76.30,1042.01 L77.00,1042.11 L77.70,1043.23 L78.40,1043.50 L79.10,1043.01 L79.80,1043.79 L80.50,1045.11 L81.20,1044.83 L81.90,1045.08 L82.60,1045.78 L83.30,1045.98 L84.00,1046.32 L84.70,1045.47 L85.40,1047.95 L86.10,1047.27 L86.80,1046.85 L87.50,1048.16 L88.20,1047.94 L88.90,1047.92 L89.60,1048.68 L90.30,1049.53 L91.00,1048.61 L91.70,1049.32 L92.40,1049.74 L93.10,1047.90 L93.80,1048.25 L94.50,1049.08 L95.20,1047.63 L95.90,1048.53 L96.60,1049.50 L97.30,1049.38 L98.00,1049.12 L98.70,1047.66 L99.40,1050.22 L100.10,1049.16 L100.80,1049.30 L101.50,1049.15 L102.20,1047.83 L102.90,1048.01 L103.60,1048.15 L104.30,1050.04 L105.00,1048.40 L105.70,1048.76 L106.40,1048.76 L107.10,1049.26 L107.80,1049.23 L108.50,1049.09 L109.20,1048.18 L109.90,1047.06 L110.60,1049.05 L111.30,1049.11 L112.00,1049.69 L112.70,1048.90 L113.40,1048.60 L114.10,1049.21 L114.80,1048.04 L115.50,1048.35 L116.20,1048.37 L116.90,1049.15 L117.60,1050.24 L118.30,1049.44 L119.00,1049.67 L119.70,1049.13 L120.40,1049.16 L121.10,1048.73 L121.80,1048.83 L122.50,1047.54 L123.20,1048.28 L123.90,1048.23 L124.60,1049.51 L125.30,1049.41 L126.00,1049.69 L126.70,1049.94 L127.40,1048.83 L128.10,1049.65 L128.80,1050.19 L129.50,1049.01 L130.20,1049.67 L130.90,1048.92 L131.60,1048.05 L132.30,1049.09 L133.00,1048.53 L133.70,1049.09 L134.40,1048.75 L135.10,1049.22 L135.80,1047.74 L136.50,1050.28 L137.20,1049.84 L137.90,1048.82 L138.60,1048.48 L139.30,1049.03 L140.00,1049.44 L140.70,1049.29 L141.40,1049.27 L142.10,1047.85 L142.80,1048.35 L143.50,1049.84 L144.20,1049.18 L144.90,1048.12 L145.60,1048.51 L146.30,1048.17 L147.00,1048.42 L147.70,1049.74 L148.40,1048.90 L149.10,1049.71 L149.80,1049.15 L150.50,1048.12 L151.20,1048.64 L151.90,1050.43 L152.60,1048.57 L153.30,1048.40 L154.00,1049.79 L154.70,1049.09 L155.40,1049.03 L156.10,1049.93 L156.80,1047.96 L157.50,1049.29 L158.20,1048.39 L158.90,1048.17 L159.60,1048.53 L160.30,1049.74 L161.00,1048.94 L161.70,1047.91 L162.40,1048.35 L163.10,1049.96 L163.80,1049.65 L164.50,1048.36 L165.20,1050.51 L165.90,1048.80 L166.60,1048.29 L167.30,1048.93 L168.00,1049.59 L168.70,1050.00 L169.40,1049.64 L170.10,1048.75 L170.80,1048.66 L171.50,1048.11 L172.20,1048.95 L172.90,1048.63 L173.60,1049.14 L174.30,1048.21 L175.00,1048.66 L175.70,1048.43 L176.40,1048.22 L177.10,1048.23 L177.80,1048.32 L178.50,1048.21 L179.20,1049.27 L179.90,1048.96 L180.60,1048.07 L181.30,1049.17 L182.00,1048.99 L182.70,1049.66 L183.40,1048.56 L184.10,1048.41 L184.80,1047.90 L185.50,1048.05 L186.20,1047.76 L186.90,1046.85 L187.60,1045.69 L188.30,1045.17 L189.00,1043.85 L189.70,1043.11 L190.40,1041.95 L191.10,1042.77 L191.80,1042.65 L192.50,1043.68 L193.20,1045.32 L193.90,1047.48 L194.60,1047.61 L195.30,1047.61 L196.00,1047.91 L196.70,1048.88 L197.40,1049.24 L198.10,1049.16 L198.80,1048.20 L199.50,1048.19 L200.20,1047.47 L200.90,1046.92 L201.60,1045.85 L202.30,1045.43 L203.00,1043.58 L203.70,1043.81 L204.40,1044.91 L205.10,1044.62 L205.80,1046.28 L206.50,1045.95 L207.20,1047.20 L207.90,1048.19 L208.60,1047.66 L209.30,1048.07 L210.00,1050.13 L210.70,1048.23 L211.40,1048.16 L212.10,1048.09 L212.80,1048.17 L213.50,1047.74 L214.20,1047.96 L214.90,1047.63 L215.60,1047.01 L216.30,1047.40 L217.00,1047.14 L217.70,1047.39 L218.40,1048.02 L219.10,1048.94 L219.80,1048.44 L220.50,1048.56 L221.20,1048.10 L221.90,1046.55 L222.60,1046.74 L223.30,1043.72 L224.00,1042.31 L224.70,1041.60 L225.40,1042.64 L226.10,1042.79 L226.80,1043.81 L227.50,1045.93 L228.20,1047.52 L228.90,1047.59 L229.60,1048.02 L230.30,1049.14 L231.00,1049.24 L231.70,1049.31 L232.40,1048.31 L233.10,1048.99 L233.80,1049.06 L234.50,1047.75 L235.20,1049.61 L235.90,1048.94 L236.60,1048.68 L237.30,1050.28 L238.00,1048.99 L238.70,1048.46 L239.40,1048.86 L240.10,1049.25 L240.80,1049.40 L241.50,1048.87 L242.20,1048.37 L242.90,1048.47 L243.60,1048.39 L244.30,1048.24 L245.00,1048.87 L245.70,1048.57 L246.40,1048.90 L247.10,1048.35 L247.80,1048.32 L248.50,1048.72 L249.20,1048.60 L249.90,1049.50 L250.60,1048.22 L251.30,1048.88 L252.00,1048.70 L252.70,1047.88 L253.40,1049.08 L254.10,1048.68 L254.80,1047.21 L255.50,1048.76 L256.20,1048.82 L256.90,1047.52 L257.60,1048.51 L258.30,1046.08 L259.00,1041.39 L259.70,1034.96 L260.40,1025.33 L261.10,1021.09 L261.80,1026.57 L262.50,1037.07 L263.20,1042.81 L263.90,1046.55 L264.60,1047.32 L265.30,1046.94 L266.00,1046.83 L266.70,1047.98 L267.40,1047.56 L268.10,1046.47 L268.80,1045.19 L269.50,1044.15 L270.20,1043.83 L270.90,1044.44 L271.60,1043.18 L272.30,1042.39 L273.00,1041.72 L273.70,1042.75 L274.40,1042.49 L275.10,1043.57 L275.80,1044.61 L276.50,1045.41 L277.20,1045.39 L277.90,1045.55 L278.60,1046.23 L279.30,1047.40 L280.00,1046.59 L280.70,1045.42 L281.40,1046.95 L282.10,1045.63 L282.80,1046.55 L283.50,1041.87 L284.20,1037.10 L284.90,1026.91 L285.60,1009.99 L286.30,985.16 L287.00,958.92 L287.70,942.86 L288.40,948.65 L289.10,970.13 L289.80,996.25 L290.50,1019.52 L291.20,1032.79 L291.90,1040.59 L292.60,1043.26 L293.30,1045.44 L294.00,1046.00 L294.70,1046.55 L295.40,1047.51 L296.10,1047.71 L296.80,1047.75 L297.50,1047.82 L298.20,1046.96 L298.90,1047.43 L299.60,1048.04 L300.30,1047.35 L301.00,1046.70 L301.70,1046.90 L302.40,1045.75 L303.10,1045.90 L303.80,1047.23 L304.50,1046.99 L305.20,1048.46 L305.90,1048.03 L306.60,1048.06 L307.30,1047.98 L308.00,1045.76 L308.70,1047.10 L309.40,1046.69 L310.10,1047.61 L310.80,1048.19 L311.50,1049.26 L312.20,1048.62 L312.90,1049.72 L313.60,1048.44 L314.30,1048.74 L315.00,1048.85 L315.70,1049.38 L316.40,1048.79 L317.10,1048.45 L317.80,1048.63 L318.50,1047.99 L319.20,1049.61 L319.90,1049.30 L320.60,1049.10 L321.30,1049.01 L322.00,1048.47 L322.70,1048.59 L323.40,1049.32 L324.10,1048.34 L324.80,1048.33 L325.50,1049.75 L326.20,1049.72 L326.90,1048.93 L327.60,1049.04 L328.30,1048.80 L329.00,1049.51 L329.70,1048.32 L330.40,1048.58 L331.10,1048.76 L331.80,1049.26 L332.50,1048.15 L333.20,1048.34 L333.90,1047.80 L334.60,1047.58 L335.30,1047.46 L336.00,1047.77 L336.70,1048.12 L337.40,1047.02 L338.10,1046.92 L338.80,1046.90 L339.50,1047.21 L340.20,1047.29 L340.90,1045.98 L341.60,1046.84 L342.30,1045.93 L343.00,1046.89 L343.70,1045.83 L344.40,1045.73 L345.10,1045.95 L345.80,1046.36 L346.50,1045.81 L347.20,1046.53 L347.90,1046.42 L348.60,1046.16 L349.30,1045.82 L350.00,1045.43 L350.70,1043.39 L351.40,1042.58 L352.10,1041.44 L352.80,1039.65 L353.50,1041.45 L354.20,1041.87 L354.90,1043.38 L355.60,1044.99 L356.30,1046.49 L357.00,1047.48 L357.70,1048.11 L358.40,1047.73 L359.10,1048.77 L359.80,1048.73 L360.50,1048.33 L361.20,1048.62 L361.90,1049.16 L362.60,1048.98 L363.30,1049.17 L364.00,1048.84 L364.70,1049.49 L365.40,1050.16 L366.10,1049.11 L366.80,1047.88 L367.50,1049.89 L368.20,1048.52 L368.90,1048.04 L369.60,1047.44 L370.30,1049.12 L371.00,1049.53 L371.70,1049.47 L372.40,1048.63 L373.10,1049.72 L373.80,1048.80 L374.50,1048.48 L375.20,1048.86 L375.90,1048.93 L376.60,1048.80 L377.30,1048.99 L378.00,1047.39 L378.70,1049.59 L379.40,1048.23 L380.10,1048.84 L380.80,1047.74 L381.50,1047.88 L382.20,1046.90 L382.90,1044.76 L383.60,1044.02 L384.30,1041.70 L385.00,1037.96 L385.70,1035.15 L386.40,1035.13 L387.10,1035.91 L387.80,1038.70 L388.50,1041.31 L389.20,1044.77 L389.90,1046.11 L390.60,1046.86 L391.30,1047.89 L392.00,1046.50 L392.70,1047.92 L393.40,1048.04 L394.10,1048.61 L394.80,1048.92 L395.50,1048.90 L396.20,1049.37 L396.90,1048.42 L397.60,1049.04 L398.30,1048.79 L399.00,1048.89 L399.70,1049.09 L400.40,1048.74 L401.10,1049.05 L401.80,1048.90 L402.50,1049.55 L403.20,1048.87 L403.90,1049.12 L404.60,1050.50 L405.30,1049.32 L406.00,1049.25 L406.70,1049.59 L407.40,1048.34 L408.10,1049.37 L408.80,1049.39 L409.50,1049.20 L410.20,1049.51 L410.90,1049.39 L411.60,1049.63 L412.30,1048.52 L413.00,1049.15 L413.70,1048.55 L414.40,1049.60 L415.10,1048.91 L415.80,1048.02 L416.50,1048.82 L417.20,1048.09 L417.90,1049.17 L418.60,1048.18 L419.30,1046.71 L420.00,1047.14 L420.70,1046.92 L421.40,1044.96 L422.10,1042.43 L422.80,1041.14 L423.50,1039.49 L424.20,1039.53 L424.90,1040.06 L425.60,1041.54 L426.30,1042.92 L427.00,1045.42 L427.70,1046.84 L428.40,1047.60 L429.10,1048.40 L429.80,1047.74 L430.50,1048.96 L431.20,1048.72 L431.90,1048.98 L432.60,1048.75 L433.30,1048.66 L434.00,1049.01 L434.70,1049.35 L435.40,1048.70 L436.10,1049.10 L436.80,1048.46 L437.50,1049.18 L438.20,1048.95 L438.90,1048.17 L439.60,1049.64 L440.30,1048.42 L441.00,1049.00 L441.70,1048.17 L442.40,1047.92 L443.10,1049.34 L443.80,1048.11 L444.50,1047.71 L445.20,1048.82 L445.90,1048.02 L446.60,1048.82 L447.30,1050.02 L448.00,1048.69 L448.70,1049.13 L449.40,1049.25 L450.10,1049.05 L450.80,1048.82 L451.50,1049.78 L452.20,1048.82 L452.90,1049.06 L453.60,1048.90 L454.30,1048.04 L455.00,1048.97 L455.70,1048.78 L456.40,1049.09 L457.10,1049.06 L457.80,1049.51 L458.50,1047.34 L459.20,1047.96 L459.90,1047.73 L460.60,1047.04 L461.30,1047.08 L462.00,1045.74 L462.70,1044.44 L463.40,1041.62 L464.10,1040.03 L464.80,1038.60 L465.50,1036.84 L466.20,1036.04 L466.90,1036.69 L467.60,1037.88 L468.30,1039.22 L469.00,1042.77 L469.70,1043.10 L470.40,1045.20 L471.10,1045.95 L471.80,1046.35 L472.50,1045.00 L473.20,1043.75 L473.90,1043.14 L474.60,1041.38 L475.30,1038.36 L476.00,1037.44 L476.70,1038.95 L477.40,1040.26 L478.10,1042.06 L478.80,1044.24 L479.50,1044.97 L480.20,1048.29 L480.90,1048.07 L481.60,1048.81 L482.30,1048.51 L483.00,1047.28 L483.70,1048.76 L484.40,1048.36 L485.10,1048.99 L485.80,1048.69 L486.50,1049.17 L487.20,1048.26 L487.90,1048.55 L488.60,1048.69 L489.30,1048.02 L490.00,1047.75 L490.70,1047.72 L491.40,1047.91 L492.10,1046.60 L492.80,1047.77 L493.50,1047.31 L494.20,1048.22 L494.90,1048.95 L495.60,1049.22 L496.30,1048.32 L497.00,1049.30 L497.70,1049.05 L498.40,1049.75 L499.10,1049.54 L499.80,1049.32 L500.50,1048.77 L501.20,1049.16 L501.90,1048.50 L502.60,1048.53 L503.30,1047.93 L504.00,1048.25 L504.70,1048.28 L505.40,1048.97 L506.10,1049.09 L506.80,1048.24 L507.50,1048.98 L508.20,1049.28 L508.90,1049.59 L509.60,1048.99 L510.30,1049.17 L511.00,1048.82 L511.70,1049.59 L512.40,1048.12 L513.10,1049.19 L513.80,1047.68 L514.50,1050.06 L515.20,1049.60 L515.90,1047.81 L516.60,1048.74 L517.30,1048.22 L518.00,1048.01 L518.70,1048.81 L519.40,1048.54 L520.10,1049.67 L520.80,1048.75 L521.50,1048.40 L522.20,1049.01 L522.90,1049.30 L523.60,1049.54 L524.30,1049.36 L525.00,1048.18 L525.70,1048.57 L526.40,1048.95 L527.10,1048.56 L527.80,1049.50 L528.50,1048.86 L529.20,1049.02 L529.90,1048.84 L530.60,1049.08 L531.30,1048.17 L532.00,1050.30 L532.70,1048.72 L533.40,1048.63 L534.10,1048.01 L534.80,1049.01 L535.50,1048.24 L536.20,1049.25 L536.90,1049.76 L537.60,1049.42 L538.30,1048.80 L539.00,1049.81 L539.70,1048.95 L540.40,1049.03 L541.10,1049.09 L541.80,1048.77 L542.50,1049.30 L543.20,1048.33 L543.90,1048.01 L544.60,1049.76 L545.30,1048.62 L546.00,1048.84 L546.70,1049.25 L547.40,1048.77 L548.10,1048.35 L548.80,1048.93 L549.50,1048.49 L550.20,1049.36 L550.90,1048.78 L551.60,1048.88 L552.30,1049.49 L553.00,1048.12 L553.70,1048.15 L554.40,1049.45 L555.10,1049.76 L555.80,1049.06 L556.50,1048.58 L557.20,1049.71 L557.90,1049.26 L558.60,1049.52 L559.30,1047.78 L560.00,1048.65 L560.70,1047.93 L561.40,1047.61 L562.10,1048.25 L562.80,1047.94 L563.50,1046.86 L564.20,1046.75 L564.90,1047.69 L565.60,1047.47 L566.30,1047.37 L567.00,1048.15 L567.70,1048.27 L568.40,1047.75 L569.10,1048.39 L569.80,1048.98 L570.50,1049.26 L571.20,1048.23 L571.90,1048.48 L572.60,1048.62 L573.30,1048.09 L574.00,1049.63 L574.70,1049.26 L575.40,1049.76 L576.10,1047.70 L576.80,1048.51 L577.50,1050.06 L578.20,1048.16 L578.90,1047.91 L579.60,1049.11 L580.30,1049.91 L581.00,1049.35 L581.70,1048.40 L582.40,1049.29 L583.10,1049.19 L583.80,1049.10 L584.50,1049.16 L585.20,1049.41 L585.90,1049.59 L586.60,1049.69 L587.30,1049.48 L588.00,1048.73 L588.70,1047.67 L589.40,1049.01 L590.10,1047.69 L590.80,1049.77 L591.50,1047.53 L592.20,1046.83 L592.90,1046.45 L593.60,1047.30 L594.30,1046.69 L595.00,1046.25 L595.70,1045.33 L596.40,1044.00 L597.10,1044.28 L597.80,1042.86 L598.50,1042.06 L599.20,1043.43 L599.90,1043.42 L600.60,1043.00 L601.30,1044.02 L602.00,1045.47 L602.70,1046.12 L603.40,1045.61 L604.10,1047.50 L604.80,1045.83 L605.50,1047.83 L606.20,1048.33 L606.90,1048.27 L607.60,1048.59 L608.30,1047.70 L609.00,1048.66 L609.70,1049.10 L610.40,1048.30 L611.10,1048.96 L611.80,1048.80 L612.50,1047.59 L613.20,1048.58 L613.90,1049.29 L614.60,1048.04 L615.30,1048.99 L616.00,1049.18 L616.70,1048.23 L617.40,1048.85 L618.10,1049.53 L618.80,1049.43 L619.50,1048.43 L620.20,1049.62 L620.90,1049.22 L621.60,1049.10 L622.30,1049.92 L623.00,1049.47 L623.70,1049.25 L624.40,1049.61 L625.10,1049.44 L625.80,1049.80 L626.50,1048.98 L627.20,1048.00 L627.90,1049.97 L628.60,1049.53 L629.30,1049.37 L630.00,1049.08 L630.70,1049.01 L631.40,1049.12 L632.10,1048.50 L632.80,1049.52 L633.50,1049.11" fill="none" stroke="#5b5b5a" stroke-width="2.80" stroke-linejoin="round" stroke-linecap="round"/>
<path d="M41.50,1111.32 L42.30,1110.29 L43.10,1110.74 L43.90,1111.13 L44.70,1111.76 L45.50,1111.10 L46.30,1110.35 L47.10,1111.23 L47.90,1110.55 L48.70,1111.64 L49.50,1110.98 L50.30,1111.89 L51.10,1111.03 L51.90,1110.63 L52.70,1110.43 L53.50,1110.93 L54.30,1111.29 L55.10,1111.63 L55.90,1111.21 L56.70,1110.76 L57.50,1111.32 L58.30,1110.44 L59.10,1111.32 L59.90,1110.75 L60.70,1111.76 L61.50,1111.54 L62.30,1111.25 L63.10,1110.63 L63.90,1111.34 L64.70,1111.25 L65.50,1110.84 L66.30,1110.81 L67.10,1111.66 L67.90,1110.91 L68.70,1111.29 L69.50,1111.71 L70.30,1110.42 L71.10,1111.89 L71.90,1111.54 L72.70,1110.79 L73.50,1110.65 L74.30,1110.53 L75.10,1111.50 L75.90,1109.92 L76.70,1111.50 L77.50,1111.15 L78.30,1110.77 L79.10,1110.85 L79.90,1110.91 L80.70,1110.97 L81.50,1111.47 L82.30,1110.69 L83.10,1111.55 L83.90,1111.49 L84.70,1110.92 L85.50,1111.28 L86.30,1110.72 L87.10,1110.94 L87.90,1111.05 L88.70,1111.59 L89.50,1110.56 L90.30,1110.37 L91.10,1110.30 L91.90,1110.08 L92.70,1109.61 L93.50,1110.95 L94.30,1109.91 L95.10,1110.06 L95.90,1110.15 L96.70,1110.93 L97.50,1112.08 L98.30,1112.22 L99.10,1111.37 L99.90,1111.13 L100.70,1111.00 L101.50,1110.58 L102.30,1111.38 L103.10,1111.01 L103.90,1112.00 L104.70,1110.94 L105.50,1110.61 L106.30,1110.24 L107.10,1110.27 L107.90,1111.35 L108.70,1111.23 L109.50,1110.55 L110.30,1110.38 L111.10,1111.20 L111.90,1110.91 L112.70,1111.18 L113.50,1111.07 L114.30,1110.72 L115.10,1110.29 L115.90,1111.14 L116.70,1111.12 L117.50,1111.16 L118.30,1111.51 L119.10,1111.50 L119.90,1110.85 L120.70,1111.34 L121.50,1110.09 L122.30,1111.39 L123.10,1111.06 L123.90,1111.54 L124.70,1111.52 L125.50,1110.65 L126.30,1111.02 L127.10,1111.58 L127.90,1110.83 L128.70,1111.11 L129.50,1110.80 L130.30,1111.34 L131.10,1111.21 L131.90,1110.70 L132.70,1110.43 L133.50,1110.06 L134.30,1111.46 L135.10,1110.87 L135.90,1110.75 L136.70,1110.83 L137.50,1110.65 L138.30,1111.38 L139.10,1111.35 L139.90,1110.05 L140.70,1111.05 L141.50,1111.11 L142.30,1110.91 L143.10,1111.11 L143.90,1111.82 L144.70,1111.20 L145.50,1111.60 L146.30,1111.52 L147.10,1110.37 L147.90,1111.86 L148.70,1111.15 L149.50,1110.92 L150.30,1111.43 L151.10,1112.07 L151.90,1110.69 L152.70,1110.73 L153.50,1111.21 L154.30,1110.23 L155.10,1110.53 L155.90,1111.06 L156.70,1111.37 L157.50,1111.28 L158.30,1111.41 L159.10,1111.52 L159.90,1110.82 L160.70,1110.85 L161.50,1110.86 L162.30,1110.85 L163.10,1111.50 L163.90,1111.38 L164.70,1110.03 L165.50,1111.18 L166.30,1110.46 L167.10,1110.41 L167.90,1111.50 L168.70,1111.49 L169.50,1111.39 L170.30,1111.13 L171.10,1111.61 L171.90,1110.22 L172.70,1111.08 L173.50,1110.33 L174.30,1110.30 L175.10,1109.75 L175.90,1111.13 L176.70,1111.16 L177.50,1110.65 L178.30,1109.88 L179.10,1110.12 L179.90,1109.44 L180.70,1109.68 L181.50,1110.37 L182.30,1110.28 L183.10,1109.72 L183.90,1109.64 L184.70,1109.09 L185.50,1109.19 L186.30,1108.83 L187.10,1109.02 L187.90,1108.41 L188.70,1109.08 L189.50,1108.45 L190.30,1108.61 L191.10,1108.44 L191.90,1109.21 L192.70,1108.95 L193.50,1108.22 L194.30,1108.22 L195.10,1109.01 L195.90,1108.90 L196.70,1108.85 L197.50,1109.18 L198.30,1109.97 L199.10,1109.30 L199.90,1110.13 L200.70,1109.38 L201.50,1109.63 L202.30,1110.01 L203.10,1109.95 L203.90,1109.87 L204.70,1109.71 L205.50,1110.14 L206.30,1110.20 L207.10,1110.47 L207.90,1111.02 L208.70,1110.84 L209.50,1111.20 L210.30,1110.81 L211.10,1110.97 L211.90,1111.09 L212.70,1111.17 L213.50,1111.33 L214.30,1110.64 L215.10,1111.11 L215.90,1111.03 L216.70,1111.51 L217.50,1111.35 L218.30,1110.71 L219.10,1111.18 L219.90,1111.32 L220.70,1111.02 L221.50,1111.58 L222.30,1111.13 L223.10,1110.44 L223.90,1111.16 L224.70,1111.38 L225.50,1110.66 L226.30,1111.35 L227.10,1109.77 L227.90,1111.96 L228.70,1110.40 L229.50,1110.82 L230.30,1110.89 L231.10,1110.40 L231.90,1111.18 L232.70,1110.62 L233.50,1110.43 L234.30,1109.99 L235.10,1111.36 L235.90,1111.57 L236.70,1110.91 L237.50,1111.14 L238.30,1111.77 L239.10,1111.22 L239.90,1111.57 L240.70,1111.50 L241.50,1111.38 L242.30,1111.29 L243.10,1111.58 L243.90,1111.14 L244.70,1111.10 L245.50,1110.71 L246.30,1110.09 L247.10,1110.61 L247.90,1110.88 L248.70,1111.50 L249.50,1110.86 L250.30,1110.11 L251.10,1111.32 L251.90,1111.56 L252.70,1111.13 L253.50,1111.10 L254.30,1111.05 L255.10,1110.81 L255.90,1111.26 L256.70,1109.74 L257.50,1108.94 L258.30,1107.72 L259.10,1107.90 L259.90,1108.47 L260.70,1109.40 L261.50,1110.45 L262.30,1111.16 L263.10,1110.17 L263.90,1110.86 L264.70,1110.47 L265.50,1110.43 L266.30,1110.46 L267.10,1110.74 L267.90,1109.69 L268.70,1110.94 L269.50,1110.00 L270.30,1109.45 L271.10,1108.75 L271.90,1109.64 L272.70,1109.12 L273.50,1108.86 L274.30,1108.21 L275.10,1108.67 L275.90,1108.41 L276.70,1108.61 L277.50,1107.83 L278.30,1108.27 L279.10,1107.89 L279.90,1108.40 L280.70,1108.48 L281.50,1108.87 L282.30,1108.89 L283.10,1108.49 L283.90,1107.50 L284.70,1106.14 L285.50,1104.61 L286.30,1104.42 L287.10,1105.86 L287.90,1108.14 L288.70,1109.60 L289.50,1110.62 L290.30,1111.65 L291.10,1110.26 L291.90,1111.20 L292.70,1110.27 L293.50,1110.64 L294.30,1110.56 L295.10,1110.98 L295.90,1111.57 L296.70,1111.68 L297.50,1111.15 L298.30,1111.45 L299.10,1111.21 L299.90,1110.46 L300.70,1111.79 L301.50,1110.76 L302.30,1110.80 L303.10,1111.01 L303.90,1110.61 L304.70,1110.76 L305.50,1111.40 L306.30,1110.62 L307.10,1110.77 L307.90,1110.28 L308.70,1110.20 L309.50,1111.21 L310.30,1111.27 L311.10,1110.90 L311.90,1111.85 L312.70,1110.62 L313.50,1111.31 L314.30,1110.74 L315.10,1111.06 L315.90,1111.31 L316.70,1110.46 L317.50,1111.71 L318.30,1111.04 L319.10,1111.11 L319.90,1111.01 L320.70,1111.25 L321.50,1110.52 L322.30,1110.54 L323.10,1111.25 L323.90,1110.99 L324.70,1110.91 L325.50,1111.24 L326.30,1111.80 L327.10,1110.62 L327.90,1109.97 L328.70,1110.94 L329.50,1110.31 L330.30,1110.98 L331.10,1110.65 L331.90,1111.11 L332.70,1111.95 L333.50,1111.05 L334.30,1110.32 L335.10,1110.59 L335.90,1110.61 L336.70,1110.43 L337.50,1111.30 L338.30,1111.18 L339.10,1111.56 L339.90,1111.47 L340.70,1111.04 L341.50,1110.83 L342.30,1110.87 L343.10,1111.08 L343.90,1110.79 L344.70,1110.36 L345.50,1112.16 L346.30,1111.74 L347.10,1110.97 L347.90,1110.89 L348.70,1110.93 L349.50,1111.30 L350.30,1110.95 L351.10,1110.09 L351.90,1111.22 L352.70,1111.34 L353.50,1110.47 L354.30,1110.44 L355.10,1111.05 L355.90,1110.59 L356.70,1111.57 L357.50,1111.49 L358.30,1110.31 L359.10,1111.31 L359.90,1110.43 L360.70,1110.77 L361.50,1111.71 L362.30,1110.98 L363.10,1111.40 L363.90,1110.90 L364.70,1112.02 L365.50,1111.10 L366.30,1112.50 L367.10,1111.36 L367.90,1110.94 L368.70,1111.13 L369.50,1110.98 L370.30,1111.80 L371.10,1110.62 L371.90,1111.51 L372.70,1111.78 L373.50,1111.60 L374.30,1110.50 L375.10,1111.70 L375.90,1111.49 L376.70,1111.62 L377.50,1110.64 L378.30,1111.18 L379.10,1111.64 L379.90,1111.16 L380.70,1111.20 L381.50,1110.91 L382.30,1111.02 L383.10,1111.12 L383.90,1112.28 L384.70,1111.05 L385.50,1110.87 L386.30,1110.63 L387.10,1111.30 L387.90,1111.19 L388.70,1110.87 L389.50,1110.32 L390.30,1111.99 L391.10,1111.03 L391.90,1110.77 L392.70,1111.22 L393.50,1110.69 L394.30,1110.98 L395.10,1110.19 L395.90,1110.83 L396.70,1109.88 L397.50,1111.46 L398.30,1111.06 L399.10,1110.96 L399.90,1111.08 L400.70,1110.43 L401.50,1111.07 L402.30,1111.07 L403.10,1111.47 L403.90,1110.73 L404.70,1110.82 L405.50,1111.03 L406.30,1111.16 L407.10,1111.11 L407.90,1111.19 L408.70,1111.46 L409.50,1111.18 L410.30,1111.22 L411.10,1110.99 L411.90,1110.40 L412.70,1111.32 L413.50,1110.88 L414.30,1111.01 L415.10,1110.49 L415.90,1111.86 L416.70,1111.58 L417.50,1110.91 L418.30,1111.31 L419.10,1111.51 L419.90,1112.02 L420.70,1111.17 L421.50,1111.52 L422.30,1110.68 L423.10,1110.96 L423.90,1110.98 L424.70,1110.93 L425.50,1110.55 L426.30,1111.34 L427.10,1110.63 L427.90,1110.67 L428.70,1111.01 L429.50,1111.72 L430.30,1111.59 L431.10,1110.99 L431.90,1110.55 L432.70,1110.41 L433.50,1111.08 L434.30,1111.43 L435.10,1111.45 L435.90,1111.01 L436.70,1110.69 L437.50,1111.27 L438.30,1111.64 L439.10,1111.05 L439.90,1111.29 L440.70,1110.91 L441.50,1110.96 L442.30,1111.71 L443.10,1110.79 L443.90,1111.67 L444.70,1110.88 L445.50,1111.05 L446.30,1111.42 L447.10,1111.36 L447.90,1110.77 L448.70,1110.98 L449.50,1111.03 L450.30,1111.04 L451.10,1110.97 L451.90,1111.38 L452.70,1110.51 L453.50,1111.33 L454.30,1111.33 L455.10,1110.25 L455.90,1110.70 L456.70,1110.21 L457.50,1109.65 L458.30,1110.14 L459.10,1110.08 L459.90,1109.27 L460.70,1109.27 L461.50,1108.81 L462.30,1107.63 L463.10,1108.32 L463.90,1108.88 L464.70,1109.24 L465.50,1108.31 L466.30,1108.52 L467.10,1109.74 L467.90,1109.78 L468.70,1110.26 L469.50,1110.20 L470.30,1110.95 L471.10,1111.06 L471.90,1110.67 L472.70,1110.92 L473.50,1110.91 L474.30,1111.26 L475.10,1111.14 L475.90,1111.17 L476.70,1111.34 L477.50,1111.08 L478.30,1110.82 L479.10,1111.46 L479.90,1110.84 L480.70,1110.47 L481.50,1110.66 L482.30,1111.09 L483.10,1110.84 L483.90,1110.87 L484.70,1111.17 L485.50,1111.27 L486.30,1110.95 L487.10,1110.86 L487.90,1111.15 L488.70,1111.49 L489.50,1110.48 L490.30,1110.82 L491.10,1110.57 L491.90,1110.75 L492.70,1111.43 L493.50,1112.01 L494.30,1111.05 L495.10,1110.63 L495.90,1110.61 L496.70,1111.44 L497.50,1111.56 L498.30,1111.53 L499.10,1111.44 L499.90,1110.84 L500.70,1110.74 L501.50,1111.09 L502.30,1111.46 L503.10,1110.85 L503.90,1110.63 L504.70,1111.63 L505.50,1110.41 L506.30,1111.79 L507.10,1110.58 L507.90,1111.41 L508.70,1110.89 L509.50,1111.66 L510.30,1110.88 L511.10,1111.13 L511.90,1111.30 L512.70,1110.92 L513.50,1110.49 L514.30,1110.78 L515.10,1110.70 L515.90,1111.17 L516.70,1109.40 L517.50,1111.60 L518.30,1112.03 L519.10,1111.16 L519.90,1110.69 L520.70,1110.77 L521.50,1110.68 L522.30,1110.60 L523.10,1111.69 L523.90,1110.01 L524.70,1110.68 L525.50,1111.05 L526.30,1110.45 L527.10,1111.85 L527.90,1110.92 L528.70,1111.11 L529.50,1110.90 L530.30,1110.98 L531.10,1110.72 L531.90,1111.63 L532.70,1110.67 L533.50,1110.73 L534.30,1111.39 L535.10,1110.55 L535.90,1111.90 L536.70,1110.94 L537.50,1111.02 L538.30,1111.87 L539.10,1110.40 L539.90,1111.92 L540.70,1110.75 L541.50,1110.77 L542.30,1111.49 L543.10,1111.87 L543.90,1111.04 L544.70,1111.16 L545.50,1111.11 L546.30,1111.04 L547.10,1111.20 L547.90,1111.12 L548.70,1110.74 L549.50,1110.64 L550.30,1110.05 L551.10,1111.20 L551.90,1110.79 L552.70,1111.15 L553.50,1111.31 L554.30,1111.09 L555.10,1111.40 L555.90,1111.19 L556.70,1111.55 L557.50,1111.02 L558.30,1110.82 L559.10,1111.43 L559.90,1110.57 L560.70,1111.64 L561.50,1110.85 L562.30,1110.81 L563.10,1111.39 L563.90,1111.86 L564.70,1110.60 L565.50,1110.89 L566.30,1111.46 L567.10,1112.26 L567.90,1110.10 L568.70,1110.91 L569.50,1110.79 L570.30,1110.51 L571.10,1112.07 L571.90,1111.23 L572.70,1111.19 L573.50,1110.94 L574.30,1111.67 L575.10,1111.41 L575.90,1110.93 L576.70,1110.82 L577.50,1111.28 L578.30,1111.06 L579.10,1110.60 L579.90,1110.85 L580.70,1110.74 L581.50,1111.65 L582.30,1110.34 L583.10,1111.33 L583.90,1111.06 L584.70,1110.98 L585.50,1110.78 L586.30,1111.53 L587.10,1110.84 L587.90,1111.58 L588.70,1111.18 L589.50,1110.98 L590.30,1110.57 L591.10,1110.78 L591.90,1110.81 L592.70,1110.98 L593.50,1109.79 L594.30,1109.72 L595.10,1109.39 L595.90,1109.22 L596.70,1108.43 L597.50,1109.41 L598.30,1109.54 L599.10,1108.19 L599.90,1109.67 L600.70,1109.02 L601.50,1109.75 L602.30,1110.48 L603.10,1110.01 L603.90,1110.71 L604.70,1110.44 L605.50,1110.76 L606.30,1110.53 L607.10,1111.00 L607.90,1110.99 L608.70,1111.45 L609.50,1111.02 L610.30,1110.36 L611.10,1110.74 L611.90,1111.70 L612.70,1110.69 L613.50,1111.29 L614.30,1110.75 L615.10,1111.26 L615.90,1111.74 L616.70,1112.04 L617.50,1110.53 L618.30,1110.70 L619.10,1110.66 L619.90,1110.74 L620.70,1111.04 L621.50,1111.04 L622.30,1111.59 L623.10,1111.30 L623.90,1111.01 L624.70,1111.10 L625.50,1111.18 L626.30,1111.46 L627.10,1111.92 L627.90,1110.91 L628.70,1111.52 L629.50,1111.20 L630.30,1110.94 L631.10,1111.29 L631.90,1110.75 L632.70,1112.41 L633.50,1111.40 L634.30,1110.91" fill="none" stroke="#63b3d7" stroke-width="2.80" stroke-linejoin="round" stroke-linecap="round"/>
<line x1="726.50" y1="660.30" x2="726.50" y2="1143.50" stroke="#000" stroke-width="3.30" stroke-linecap="round"/>
<line x1="725.30" y1="1142.00" x2="1297.80" y2="1142.00" stroke="#000" stroke-width="3.20" stroke-linecap="butt"/>
<line x1="726.50" y1="1142.00" x2="726.50" y2="1150.00" stroke="#000" stroke-width="2.20" stroke-linecap="round"/>
<line x1="767.20" y1="1142.00" x2="767.20" y2="1146.50" stroke="#000" stroke-width="2.20" stroke-linecap="round"/>
<line x1="807.90" y1="1142.00" x2="807.90" y2="1150.00" stroke="#000" stroke-width="2.20" stroke-linecap="round"/>
<line x1="848.60" y1="1142.00" x2="848.60" y2="1146.50" stroke="#000" stroke-width="2.20" stroke-linecap="round"/>
<line x1="889.30" y1="1142.00" x2="889.30" y2="1150.00" stroke="#000" stroke-width="2.20" stroke-linecap="round"/>
<line x1="930.00" y1="1142.00" x2="930.00" y2="1146.50" stroke="#000" stroke-width="2.20" stroke-linecap="round"/>
<line x1="970.70" y1="1142.00" x2="970.70" y2="1150.00" stroke="#000" stroke-width="2.20" stroke-linecap="round"/>
<line x1="1011.40" y1="1142.00" x2="1011.40" y2="1146.50" stroke="#000" stroke-width="2.20" stroke-linecap="round"/>
<line x1="1052.10" y1="1142.00" x2="1052.10" y2="1150.00" stroke="#000" stroke-width="2.20" stroke-linecap="round"/>
<line x1="1092.80" y1="1142.00" x2="1092.80" y2="1146.50" stroke="#000" stroke-width="2.20" stroke-linecap="round"/>
<line x1="1133.50" y1="1142.00" x2="1133.50" y2="1150.00" stroke="#000" stroke-width="2.20" stroke-linecap="round"/>
<line x1="1174.20" y1="1142.00" x2="1174.20" y2="1146.50" stroke="#000" stroke-width="2.20" stroke-linecap="round"/>
<line x1="1214.90" y1="1142.00" x2="1214.90" y2="1150.00" stroke="#000" stroke-width="2.20" stroke-linecap="round"/>
<line x1="1255.60" y1="1142.00" x2="1255.60" y2="1146.50" stroke="#000" stroke-width="2.20" stroke-linecap="round"/>
<line x1="1296.30" y1="1142.00" x2="1296.30" y2="1150.00" stroke="#000" stroke-width="2.20" stroke-linecap="round"/>
<text transform="translate(701.29,1178.80) scale(1.0683,1)" x="0.00" y="0" font-size="28.21" fill="#000">800</text>
<text transform="translate(782.58,1178.80) scale(1.0706,1)" x="0.00" y="0" font-size="28.21" fill="#000">900</text>
<text transform="translate(855.63,1178.80) scale(1.0552,1)" x="0.00" y="0" font-size="28.21" fill="#000">1000</text>
<text transform="translate(937.03,1178.80) scale(1.0552,1)" x="0.00" y="0" font-size="28.21" fill="#000">1100</text>
<text transform="translate(1018.43,1178.80) scale(1.0552,1)" x="0.00" y="0" font-size="28.21" fill="#000">1200</text>
<text transform="translate(1099.83,1178.80) scale(1.0552,1)" x="0.00" y="0" font-size="28.21" fill="#000">1300</text>
<text transform="translate(1181.23,1178.80) scale(1.0552,1)" x="0.00" y="0" font-size="28.21" fill="#000">1400</text>
<text transform="translate(1262.63,1178.80) scale(1.0552,1)" x="0.00" y="0" font-size="28.21" fill="#000">1500</text>
<text transform="translate(920.74,1216.70) scale(1.0281,1)" x="0.00" y="0" font-size="29.20" fill="#000">wavenumber (cm</text>
<text transform="translate(1151.05,1203.30) scale(1.0027,1)" x="0.00" y="0" font-size="14.54" fill="#000">-1</text>
<text transform="translate(1165.33,1216.70) scale(1.0075,1)" x="0.00" y="0" font-size="29.20" fill="#000">)</text>
<text transform="translate(694.60,1025.50) rotate(-90) scale(1.0332,1)" x="-0.06" y="0" font-size="28.49" fill="#000">Absorbance (a.u)</text>
<text transform="translate(677.49,660.90) scale(0.9829,1)" x="0.00" y="0" font-size="30.52" font-weight="bold" fill="#000">D</text>
<rect x="1109.9" y="666.9" width="27.2" height="7.1" fill="#5b5b5a"/>
<rect x="1109.9" y="697.6" width="27.2" height="7.4" fill="#63b3d7"/>
<text transform="translate(1146.91,678.40) scale(0.9915,1)" x="0.00" y="0" font-size="21.95" fill="#000">HCCE pristine</text>
<text transform="translate(1146.92,709.20) scale(0.9861,1)" x="0.00" y="0" font-size="21.95" fill="#000">HCCE polarized</text>
<text transform="translate(735.60,861.30) scale(0.9142,1)" x="0.00" y="0" font-size="29.36" fill="#000">R-O-Si</text>
<text transform="translate(817.95,867.80) scale(1.1131,1)" x="0.00" y="0" font-size="14.20" fill="#000">vib.</text>
<text transform="translate(862.64,662.00) scale(0.9716,1)" x="0.00" y="0" font-size="28.50" fill="#000">Si-O</text>
<text transform="translate(918.00,668.80) scale(0.9532,1)" x="0.00" y="0" font-size="15.20" fill="#000">sym. str.</text>
<text transform="translate(938.16,814.40) scale(1.0218,1)" x="0.00" y="0" font-size="26.64" fill="#000">Si-O</text>
<text transform="translate(992.67,822.40) scale(0.9728,1)" x="0.00" y="0" font-size="15.20" fill="#000">asym. str.</text>
<text transform="translate(992.56,878.90) scale(1.0954,1)" x="0.00" y="0" font-size="22.06" fill="#000">Oxidized elect.</text>
<text transform="translate(1039.59,911.40) scale(1.1294,1)" x="0.00" y="0" font-size="22.06" fill="#000">byproduct</text>
<text transform="translate(1190.89,830.80) scale(0.9141,1)" x="0.00" y="0" font-size="29.79" fill="#000">-CO</text>
<text transform="translate(1239.84,833.40) scale(1.3275,1)" x="0.00" y="0" font-size="17.00" fill="#000">3</text>
<text transform="translate(1252.05,836.70) scale(1.1083,1)" x="0.00" y="0" font-size="14.20" fill="#000">vib.</text>
<line x1="786.60" y1="868.50" x2="786.60" y2="1034.00" stroke="#3a3a3a" stroke-width="2.60" stroke-linecap="butt" stroke-dasharray="2.4 3.3"/>
<line x1="900.20" y1="667.30" x2="900.20" y2="946.70" stroke="#3a3a3a" stroke-width="2.60" stroke-linecap="butt" stroke-dasharray="2.4 3.3"/>
<line x1="946.80" y1="823.30" x2="946.80" y2="1049.60" stroke="#3a3a3a" stroke-width="2.60" stroke-linecap="butt" stroke-dasharray="2.4 3.3"/>
<line x1="1025.20" y1="913.40" x2="1025.20" y2="1082.00" stroke="#3a3a3a" stroke-width="2.60" stroke-linecap="butt" stroke-dasharray="2.4 3.3"/>
<line x1="1230.10" y1="849.80" x2="1230.10" y2="1094.00" stroke="#3a3a3a" stroke-width="2.60" stroke-linecap="butt" stroke-dasharray="2.4 3.3"/>
<path d="M728.90,963.20 L729.37,963.09 L730.04,962.92 L730.79,962.88 L731.50,963.20 L732.15,964.24 L732.79,965.78 L733.44,967.15 L734.10,967.70 L734.74,966.88 L735.37,965.18 L736.04,963.43 L736.80,962.50 L737.68,962.87 L738.64,963.99 L739.65,965.19 L740.70,965.80 L741.81,965.47 L742.99,964.62 L744.15,963.71 L745.20,963.20 L746.16,963.37 L747.05,963.93 L747.84,964.45 L748.50,964.50 L748.92,963.79 L749.15,962.59 L749.38,961.38 L749.80,960.60 L750.50,960.62 L751.37,961.11 L752.28,961.49 L753.10,961.20 L753.80,959.78 L754.44,957.64 L755.07,955.48 L755.70,954.00 L756.38,953.37 L757.08,953.22 L757.74,953.46 L758.30,954.00 L758.67,955.29 L758.91,957.23 L759.16,958.87 L759.60,959.30 L760.27,957.54 L761.09,954.34 L761.99,951.31 L762.90,950.10 L763.86,951.86 L764.89,955.48 L765.90,959.19 L766.80,961.20 L767.54,960.68 L768.18,958.69 L768.78,956.33 L769.40,954.70 L770.05,954.28 L770.70,954.43 L771.35,954.54 L772.00,954.00 L772.62,952.52 L773.22,950.46 L773.86,948.23 L774.60,946.20 L775.51,944.55 L776.54,943.04 L777.58,941.48 L778.50,939.70 L779.26,937.89 L779.93,936.08 L780.56,933.78 L781.20,930.50 L781.86,925.34 L782.51,918.83 L783.15,912.59 L783.80,908.30 L784.44,906.72 L785.06,906.87 L785.71,907.73 L786.40,908.30 L787.17,908.03 L787.99,907.55 L788.82,907.62 L789.60,909.00 L790.31,912.41 L790.99,917.28 L791.64,922.40 L792.30,926.60 L792.97,929.10 L793.65,930.69 L794.30,932.51 L794.90,935.70 L795.41,941.38 L795.85,948.68 L796.29,955.71 L796.80,960.60 L797.38,962.52 L798.01,962.58 L798.68,961.80 L799.40,961.20 L800.21,961.10 L801.09,960.94 L801.95,960.44 L802.70,959.30 L803.28,957.00 L803.74,953.85 L804.19,950.80 L804.70,948.80 L805.32,948.26 L806.01,948.63 L806.69,949.41 L807.30,950.10 L807.81,951.02 L808.25,952.29 L808.69,953.12 L809.20,952.70 L809.78,950.32 L810.41,946.57 L811.08,942.63 L811.80,939.70 L812.59,938.16 L813.45,937.36 L814.31,936.91 L815.10,936.40 L815.77,935.70 L816.36,935.02 L816.98,934.54 L817.70,934.40 L818.61,935.07 L819.64,936.32 L820.68,937.29 L821.60,937.10 L822.33,935.16 L822.95,932.05 L823.57,928.69 L824.30,926.00 L825.24,924.19 L826.30,922.77 L827.34,921.65 L828.20,920.70 L828.83,920.22 L829.31,920.16 L829.71,919.89 L830.10,918.80 L830.42,916.45 L830.66,913.27 L830.95,909.90 L831.40,907.00 L832.07,904.80 L832.89,902.94 L833.79,901.15 L834.70,899.20 L835.65,897.00 L836.65,894.68 L837.65,892.33 L838.60,890.00 L839.47,887.66 L840.29,885.28 L841.09,882.99 L841.90,880.90 L842.76,879.09 L843.64,877.49 L844.47,875.97 L845.20,874.40 L845.74,873.17 L846.15,872.20 L846.56,870.68 L847.10,867.80 L847.79,862.81 L848.56,856.32 L849.43,849.54 L850.40,843.70 L851.51,839.27 L852.75,835.56 L854.04,832.00 L855.30,828.00 L856.52,823.35 L857.75,818.38 L858.98,813.34 L860.20,808.50 L861.45,803.90 L862.71,799.41 L863.95,795.04 L865.10,790.80 L866.15,786.73 L867.11,782.81 L868.05,778.99 L869.00,775.20 L870.00,771.51 L871.01,767.92 L872.00,764.29 L872.90,760.50 L873.67,756.40 L874.35,752.09 L875.03,747.81 L875.80,743.80 L876.73,740.12 L877.74,736.64 L878.76,733.31 L879.70,730.10 L880.52,726.88 L881.26,723.70 L881.98,720.80 L882.70,718.40 L883.43,716.93 L884.15,716.14 L884.87,715.25 L885.60,713.50 L886.35,710.31 L887.10,706.21 L887.85,702.09 L888.60,698.80 L889.31,696.64 L889.99,695.11 L890.71,693.96 L891.50,692.90 L892.40,692.03 L893.39,691.45 L894.40,690.87 L895.40,690.00 L896.40,688.48 L897.41,686.56 L898.39,684.89 L899.30,684.10 L900.12,684.50 L900.86,685.69 L901.58,687.32 L902.30,689.00 L903.03,690.70 L903.75,692.59 L904.47,694.64 L905.20,696.80 L905.95,698.97 L906.70,701.21 L907.45,703.69 L908.20,706.60 L908.91,709.84 L909.59,713.35 L910.31,717.41 L911.10,722.30 L912.00,728.33 L912.99,735.27 L914.00,742.58 L915.00,749.70 L915.98,756.64 L916.95,763.64 L917.92,770.52 L918.90,777.10 L919.90,783.38 L920.91,789.45 L921.90,795.22 L922.80,800.60 L923.57,805.55 L924.25,810.11 L924.93,814.37 L925.70,818.40 L926.58,822.02 L927.53,825.26 L928.53,828.50 L929.60,832.10 L930.75,836.50 L931.99,841.39 L933.25,846.03 L934.50,849.70 L935.77,851.81 L937.08,852.89 L938.32,853.85 L939.40,855.60 L940.24,858.48 L940.91,861.96 L941.55,865.69 L942.30,869.30 L943.18,872.59 L944.12,875.78 L945.13,879.16 L946.20,883.00 L947.35,887.49 L948.59,892.43 L949.85,897.56 L951.10,902.60 L952.33,907.55 L953.55,912.53 L954.77,917.44 L956.00,922.20 L957.27,926.83 L958.57,931.37 L959.81,935.72 L960.90,939.80 L961.74,943.73 L962.40,947.51 L963.06,950.86 L963.90,953.50 L964.97,955.07 L966.17,955.81 L967.47,956.37 L968.80,957.40 L970.18,959.19 L971.64,961.35 L973.12,963.51 L974.60,965.30 L976.02,966.69 L977.42,967.87 L978.88,968.73 L980.50,969.20 L982.34,969.11 L984.33,968.56 L986.39,967.83 L988.40,967.20 L990.36,966.65 L992.31,966.07 L994.25,965.58 L996.20,965.30 L998.19,965.42 L1000.22,965.81 L1002.18,966.18 L1004.00,966.20 L1005.59,965.74 L1007.01,964.99 L1008.40,964.11 L1009.90,963.30 L1011.60,962.60 L1013.41,961.91 L1015.19,961.20 L1016.80,960.40 L1018.10,959.43 L1019.19,958.33 L1020.32,957.29 L1021.70,956.50 L1023.45,956.09 L1025.42,955.94 L1027.48,955.82 L1029.50,955.50 L1031.45,954.84 L1033.39,953.99 L1035.34,953.15 L1037.30,952.50 L1039.27,951.97 L1041.25,951.50 L1043.23,951.30 L1045.20,951.60 L1047.16,952.64 L1049.11,954.26 L1051.05,955.99 L1053.00,957.40 L1054.95,958.49 L1056.89,959.45 L1058.84,960.14 L1060.80,960.40 L1062.77,959.91 L1064.75,958.84 L1066.73,957.81 L1068.70,957.40 L1070.61,958.03 L1072.48,959.28 L1074.41,960.57 L1076.50,961.30 L1078.76,961.26 L1081.16,960.77 L1083.67,960.08 L1086.30,959.40 L1089.32,958.70 L1092.64,957.89 L1095.71,957.11 L1098.00,956.50 L1099.08,956.08 L1099.34,955.77 L1099.43,955.60 L1100.00,955.60 L1101.33,955.92 L1103.03,956.49 L1104.77,957.02 L1106.20,957.20 L1107.06,956.83 L1107.60,956.11 L1108.21,955.36 L1109.30,954.90 L1111.14,955.01 L1113.46,955.44 L1115.85,955.78 L1117.90,955.60 L1119.51,954.50 L1120.89,952.80 L1122.13,951.15 L1123.30,950.20 L1124.38,950.34 L1125.34,951.16 L1126.26,952.07 L1127.20,952.50 L1128.17,952.16 L1129.15,951.39 L1130.12,950.61 L1131.10,950.20 L1132.11,950.47 L1133.15,951.15 L1134.14,951.75 L1135.00,951.80 L1135.63,950.92 L1136.10,949.46 L1136.59,947.99 L1137.30,947.10 L1138.27,947.07 L1139.41,947.56 L1140.66,948.19 L1142.00,948.60 L1143.52,948.65 L1145.20,948.54 L1146.83,948.47 L1148.20,948.60 L1149.17,949.22 L1149.89,950.16 L1150.54,950.92 L1151.30,951.00 L1152.15,949.96 L1153.01,948.18 L1153.99,946.36 L1155.20,945.20 L1156.84,945.13 L1158.80,945.68 L1160.71,946.27 L1162.20,946.30 L1163.05,945.40 L1163.49,943.97 L1163.87,942.52 L1164.50,941.60 L1165.56,941.56 L1166.85,942.04 L1168.14,942.51 L1169.20,942.40 L1169.85,941.49 L1170.25,940.09 L1170.70,938.50 L1171.50,937.00 L1172.83,935.54 L1174.51,934.01 L1176.25,932.60 L1177.80,931.50 L1179.12,930.92 L1180.34,930.70 L1181.44,930.51 L1182.40,930.00 L1183.08,929.07 L1183.55,927.89 L1184.04,926.60 L1184.80,925.30 L1185.99,924.02 L1187.46,922.69 L1188.94,921.32 L1190.20,919.90 L1191.12,918.34 L1191.84,916.66 L1192.52,915.06 L1193.30,913.70 L1194.26,912.72 L1195.30,912.00 L1196.32,911.33 L1197.20,910.50 L1197.87,909.40 L1198.40,908.15 L1198.91,906.93 L1199.50,905.90 L1200.22,905.25 L1200.99,904.85 L1201.80,904.37 L1202.60,903.50 L1203.38,901.94 L1204.16,899.94 L1204.96,897.97 L1205.80,896.50 L1206.74,895.92 L1207.75,895.89 L1208.73,895.79 L1209.60,895.00 L1210.28,893.04 L1210.84,890.36 L1211.38,887.67 L1212.00,885.70 L1212.73,884.63 L1213.51,884.08 L1214.31,883.93 L1215.10,884.10 L1215.88,884.86 L1216.65,886.16 L1217.42,887.41 L1218.20,888.00 L1218.94,887.56 L1219.65,886.47 L1220.41,885.30 L1221.30,884.60 L1222.38,884.51 L1223.60,884.74 L1224.84,885.18 L1226.00,885.70 L1227.11,886.61 L1228.20,887.86 L1229.17,888.80 L1229.90,888.80 L1230.24,887.18 L1230.30,884.45 L1230.33,881.75 L1230.60,880.20 L1231.20,880.30 L1231.99,881.37 L1232.86,882.83 L1233.70,884.10 L1234.50,885.20 L1235.30,886.38 L1236.10,887.39 L1236.90,888.00 L1237.68,887.91 L1238.46,887.32 L1239.23,886.75 L1240.00,886.70 L1240.78,887.59 L1241.55,889.06 L1242.32,890.45 L1243.10,891.10 L1243.88,890.54 L1244.65,889.23 L1245.42,887.88 L1246.20,887.20 L1246.99,887.48 L1247.80,888.31 L1248.58,889.36 L1249.30,890.30 L1249.91,891.22 L1250.45,892.24 L1250.99,893.06 L1251.60,893.40 L1252.28,892.82 L1253.00,891.61 L1253.79,890.51 L1254.70,890.30 L1255.80,891.61 L1257.05,893.89 L1258.30,896.13 L1259.40,897.30 L1260.30,896.57 L1261.09,894.66 L1261.81,892.93 L1262.50,892.70 L1263.12,894.88 L1263.66,898.56 L1264.22,902.42 L1264.90,905.10 L1265.75,905.92 L1266.71,905.69 L1267.71,905.37 L1268.70,905.90 L1269.67,907.88 L1270.64,910.69 L1271.62,913.44 L1272.60,915.20 L1273.56,915.37 L1274.50,914.55 L1275.47,913.68 L1276.50,913.70 L1277.56,915.05 L1278.66,917.16 L1279.84,919.47 L1281.20,921.40 L1282.86,922.71 L1284.75,923.74 L1286.61,924.78 L1288.20,926.10 L1289.43,928.07 L1290.44,930.44 L1291.31,932.59 L1292.10,933.90 L1292.77,933.92 L1293.30,933.09 L1293.81,932.06 L1294.40,931.50 L1295.19,931.66 L1296.09,932.15 L1296.92,932.72 L1297.50,933.10" fill="none" stroke="#5b5b5a" stroke-width="3.30" stroke-linejoin="round" stroke-linecap="round"/>
<path d="M729.10,1045.60 L729.27,1043.40 L729.51,1040.19 L729.85,1036.89 L730.30,1034.40 L730.95,1033.10 L731.76,1032.46 L732.59,1032.04 L733.30,1031.40 L733.83,1030.11 L734.27,1028.50 L734.68,1027.32 L735.10,1027.30 L735.55,1028.78 L736.01,1031.31 L736.46,1034.48 L736.90,1037.90 L737.33,1042.16 L737.75,1047.23 L738.17,1051.79 L738.60,1054.50 L739.01,1054.87 L739.42,1053.66 L739.86,1051.40 L740.40,1048.60 L741.10,1044.45 L741.91,1039.00 L742.71,1034.05 L743.40,1031.40 L743.93,1032.02 L744.36,1034.78 L744.74,1038.38 L745.10,1041.50 L745.42,1044.42 L745.69,1047.63 L745.97,1050.14 L746.30,1051.00 L746.71,1049.00 L747.16,1044.98 L747.64,1040.99 L748.10,1039.10 L748.55,1040.42 L749.00,1043.67 L749.45,1047.31 L749.90,1049.80 L750.34,1051.18 L750.77,1052.11 L751.21,1052.03 L751.70,1050.40 L752.24,1045.91 L752.81,1039.26 L753.41,1032.82 L754.00,1029.00 L754.62,1029.07 L755.27,1031.55 L755.88,1034.68 L756.40,1036.70 L756.74,1037.38 L756.96,1037.58 L757.20,1037.19 L757.60,1036.10 L758.24,1033.81 L759.03,1030.54 L759.86,1027.25 L760.60,1024.90 L761.24,1023.65 L761.82,1023.01 L762.38,1023.01 L762.90,1023.70 L763.40,1025.02 L763.87,1026.97 L764.30,1029.66 L764.70,1033.20 L765.01,1038.30 L765.26,1044.68 L765.53,1050.94 L765.90,1055.70 L766.42,1058.02 L767.03,1058.83 L767.68,1059.55 L768.30,1061.60 L768.89,1066.29 L769.49,1072.55 L770.06,1078.24 L770.60,1081.20 L771.03,1080.14 L771.38,1076.43 L771.79,1071.99 L772.40,1068.70 L773.31,1066.67 L774.43,1065.02 L775.59,1064.18 L776.60,1064.60 L777.43,1067.16 L778.16,1071.36 L778.84,1075.59 L779.50,1078.20 L780.14,1078.95 L780.73,1078.64 L781.31,1077.23 L781.90,1074.70 L782.49,1069.62 L783.07,1062.48 L783.66,1056.10 L784.30,1053.30 L784.99,1056.44 L785.71,1063.47 L786.46,1070.62 L787.20,1074.10 L787.96,1071.54 L788.73,1065.42 L789.49,1059.19 L790.20,1056.30 L790.89,1058.32 L791.56,1063.19 L792.15,1068.92 L792.60,1073.50 L792.80,1076.59 L792.81,1079.18 L792.84,1081.31 L793.10,1083.00 L793.67,1083.83 L794.44,1083.92 L795.29,1084.13 L796.10,1085.30 L796.85,1088.51 L797.61,1093.03 L798.36,1096.96 L799.10,1098.40 L799.82,1095.64 L800.51,1090.11 L801.23,1084.56 L802.00,1081.80 L802.88,1083.41 L803.83,1087.63 L804.77,1092.19 L805.60,1094.80 L806.29,1094.39 L806.88,1092.33 L807.44,1090.03 L808.00,1088.90 L808.59,1089.84 L809.19,1091.92 L809.76,1093.81 L810.30,1094.20 L810.74,1091.45 L811.12,1086.71 L811.54,1082.76 L812.10,1082.40 L812.89,1088.17 L813.83,1097.99 L814.81,1107.71 L815.70,1113.20 L816.43,1112.86 L817.08,1109.06 L817.76,1103.63 L818.60,1098.40 L819.70,1092.60 L820.96,1085.66 L822.25,1079.75 L823.40,1077.00 L824.36,1079.47 L825.22,1085.53 L826.05,1091.77 L826.90,1094.80 L827.81,1092.63 L828.74,1087.43 L829.65,1082.07 L830.50,1079.40 L831.26,1080.82 L831.95,1084.58 L832.64,1088.88 L833.40,1091.90 L834.26,1093.32 L835.19,1094.05 L836.13,1094.13 L837.00,1093.60 L837.81,1092.01 L838.58,1089.48 L839.31,1086.94 L840.00,1085.30 L840.61,1085.18 L841.15,1085.98 L841.69,1086.73 L842.30,1086.50 L843.00,1084.60 L843.76,1081.67 L844.53,1078.79 L845.30,1077.00 L846.01,1077.18 L846.69,1078.57 L847.43,1079.77 L848.30,1079.40 L849.40,1076.50 L850.65,1072.00 L851.90,1067.35 L853.00,1064.00 L853.84,1062.93 L854.54,1063.17 L855.21,1063.22 L856.00,1061.60 L856.95,1057.35 L858.00,1051.44 L859.07,1045.29 L860.10,1040.30 L861.09,1036.85 L862.07,1034.19 L863.01,1032.01 L863.90,1030.00 L864.71,1028.50 L865.47,1027.54 L866.19,1026.34 L866.90,1024.10 L867.56,1020.16 L868.18,1015.09 L868.83,1009.97 L869.60,1005.90 L870.55,1003.64 L871.64,1002.46 L872.73,1001.17 L873.70,998.60 L874.48,994.22 L875.16,988.74 L875.83,982.81 L876.60,977.10 L877.55,971.31 L878.60,965.26 L879.65,959.74 L880.60,955.60 L881.42,953.92 L882.18,953.97 L882.86,953.84 L883.50,951.60 L884.04,945.84 L884.50,937.89 L884.96,929.95 L885.50,924.20 L886.16,922.03 L886.89,922.01 L887.65,922.10 L888.40,920.30 L889.12,915.30 L889.84,908.43 L890.57,901.62 L891.30,896.80 L892.05,895.20 L892.80,895.55 L893.55,896.03 L894.30,894.80 L895.01,890.79 L895.69,885.17 L896.41,879.50 L897.20,875.30 L898.13,873.25 L899.14,872.44 L900.16,872.06 L901.10,871.30 L901.92,869.66 L902.66,867.66 L903.38,866.04 L904.10,865.50 L904.83,866.08 L905.56,867.44 L906.28,869.79 L907.00,873.30 L907.75,879.01 L908.51,886.48 L909.24,893.74 L909.90,898.80 L910.44,899.79 L910.90,898.21 L911.36,897.15 L911.90,899.70 L912.54,907.99 L913.23,919.94 L913.98,932.30 L914.80,941.80 L915.75,947.47 L916.80,951.09 L917.85,953.51 L918.80,955.60 L919.60,957.00 L920.32,957.44 L921.00,957.93 L921.70,959.50 L922.40,962.94 L923.09,967.54 L923.80,972.02 L924.60,975.10 L925.53,975.83 L926.54,975.09 L927.56,974.36 L928.50,975.10 L929.32,978.06 L930.09,982.34 L930.81,986.92 L931.50,990.80 L932.14,994.12 L932.73,997.29 L933.32,999.67 L934.00,1000.60 L934.77,1000.08 L935.61,998.39 L936.49,995.36 L937.40,990.80 L938.34,983.76 L939.32,974.64 L940.31,965.27 L941.30,957.50 L942.30,951.45 L943.31,946.25 L944.30,942.28 L945.20,939.90 L945.95,939.17 L946.59,939.92 L947.26,942.13 L948.10,945.80 L949.23,951.66 L950.54,959.47 L951.86,967.77 L953.00,975.10 L953.86,980.54 L954.56,985.04 L955.23,989.97 L956.00,996.70 L956.94,1006.88 L957.96,1019.36 L958.97,1031.28 L959.90,1039.80 L960.67,1043.16 L961.35,1043.22 L962.03,1042.54 L962.80,1043.70 L963.73,1047.68 L964.74,1053.01 L965.76,1058.59 L966.70,1063.30 L967.49,1067.19 L968.20,1070.74 L968.91,1073.50 L969.70,1075.00 L970.61,1074.49 L971.59,1072.41 L972.60,1070.16 L973.60,1069.10 L974.60,1070.07 L975.61,1072.17 L976.60,1074.21 L977.50,1075.00 L978.25,1073.65 L978.89,1070.98 L979.56,1068.37 L980.40,1067.20 L981.51,1068.47 L982.78,1071.22 L984.09,1073.92 L985.30,1075.00 L986.34,1073.74 L987.30,1071.07 L988.26,1067.92 L989.30,1065.20 L990.46,1062.74 L991.70,1060.20 L992.96,1058.21 L994.20,1057.40 L995.43,1058.99 L996.66,1062.28 L997.86,1065.09 L999.00,1065.20 L1000.08,1060.79 L1001.12,1053.44 L1002.10,1046.10 L1003.00,1041.70 L1003.80,1042.16 L1004.52,1045.53 L1005.20,1048.96 L1005.90,1049.60 L1006.65,1045.65 L1007.41,1038.99 L1008.14,1032.23 L1008.80,1028.00 L1009.34,1028.10 L1009.80,1030.75 L1010.26,1033.25 L1010.80,1032.90 L1011.46,1027.75 L1012.19,1019.64 L1012.95,1011.57 L1013.70,1006.50 L1014.38,1006.12 L1015.01,1008.54 L1015.74,1011.40 L1016.70,1012.30 L1018.04,1009.74 L1019.66,1005.27 L1021.27,1001.14 L1022.60,999.60 L1023.51,1002.35 L1024.17,1007.83 L1024.78,1013.37 L1025.50,1016.30 L1026.41,1015.18 L1027.40,1011.67 L1028.42,1007.78 L1029.40,1005.50 L1030.35,1005.32 L1031.30,1006.20 L1032.22,1007.80 L1033.10,1009.80 L1033.89,1012.82 L1034.62,1016.79 L1035.36,1020.37 L1036.20,1022.20 L1037.18,1021.00 L1038.24,1017.79 L1039.33,1014.71 L1040.40,1013.90 L1041.48,1016.74 L1042.58,1021.81 L1043.62,1027.07 L1044.50,1030.50 L1045.14,1030.78 L1045.61,1029.24 L1046.05,1027.84 L1046.60,1028.50 L1047.33,1032.51 L1048.15,1038.59 L1048.97,1044.80 L1049.70,1049.20 L1050.22,1050.94 L1050.62,1051.16 L1051.08,1050.92 L1051.80,1051.30 L1052.91,1052.68 L1054.27,1054.47 L1055.70,1056.22 L1057.00,1057.50 L1058.15,1058.24 L1059.24,1058.64 L1060.24,1058.73 L1061.10,1058.50 L1061.74,1057.66 L1062.21,1056.32 L1062.65,1055.04 L1063.20,1054.40 L1063.90,1054.43 L1064.69,1054.85 L1065.50,1055.83 L1066.30,1057.50 L1067.03,1060.56 L1067.72,1064.71 L1068.48,1068.63 L1069.40,1071.00 L1070.55,1070.83 L1071.87,1069.03 L1073.25,1067.16 L1074.60,1066.80 L1075.93,1068.77 L1077.27,1072.09 L1078.58,1075.65 L1079.80,1078.30 L1080.85,1079.84 L1081.78,1080.83 L1082.75,1081.34 L1083.90,1081.40 L1085.42,1080.47 L1087.18,1078.71 L1088.88,1077.25 L1090.20,1077.20 L1090.95,1079.61 L1091.33,1083.64 L1091.65,1087.58 L1092.20,1089.70 L1093.12,1088.88 L1094.23,1086.25 L1095.38,1083.52 L1096.40,1082.40 L1097.20,1084.16 L1097.89,1087.63 L1098.60,1090.81 L1099.50,1091.70 L1100.68,1088.59 L1102.04,1082.94 L1103.43,1077.52 L1104.70,1075.10 L1105.75,1077.60 L1106.68,1083.14 L1107.65,1088.81 L1108.80,1091.70 L1110.27,1090.03 L1111.95,1085.69 L1113.63,1081.26 L1115.10,1079.30 L1116.30,1081.41 L1117.35,1085.92 L1118.30,1090.50 L1119.20,1092.80 L1120.05,1091.56 L1120.81,1088.25 L1121.55,1084.61 L1122.30,1082.40 L1123.08,1082.39 L1123.85,1083.56 L1124.63,1084.91 L1125.40,1085.50 L1126.15,1084.81 L1126.88,1083.45 L1127.65,1082.09 L1128.50,1081.40 L1129.45,1081.55 L1130.47,1082.18 L1131.55,1083.19 L1132.70,1084.50 L1133.88,1086.74 L1135.11,1089.75 L1136.44,1092.21 L1137.90,1092.80 L1139.61,1090.46 L1141.50,1086.14 L1143.39,1081.52 L1145.10,1078.30 L1146.54,1076.86 L1147.82,1076.33 L1149.05,1076.50 L1150.30,1077.20 L1151.60,1079.10 L1152.90,1082.06 L1154.20,1084.66 L1155.50,1085.50 L1156.85,1083.18 L1158.23,1078.78 L1159.55,1074.65 L1160.70,1073.10 L1161.62,1075.79 L1162.38,1081.14 L1163.07,1086.62 L1163.80,1089.70 L1164.50,1089.30 L1165.15,1086.91 L1165.90,1083.84 L1166.90,1081.40 L1168.35,1079.66 L1170.12,1078.03 L1171.85,1076.77 L1173.20,1076.20 L1173.88,1076.91 L1174.14,1078.57 L1174.43,1080.07 L1175.20,1080.30 L1176.75,1078.69 L1178.78,1075.93 L1180.85,1072.77 L1182.50,1070.00 L1183.54,1067.47 L1184.24,1064.89 L1184.85,1062.79 L1185.60,1061.70 L1186.53,1062.10 L1187.51,1063.60 L1188.58,1065.42 L1189.80,1066.80 L1191.26,1067.95 L1192.91,1069.14 L1194.55,1069.68 L1196.00,1068.90 L1197.15,1066.00 L1198.11,1061.54 L1199.05,1056.89 L1200.10,1053.40 L1201.37,1051.60 L1202.76,1050.72 L1204.12,1050.13 L1205.30,1049.20 L1206.25,1047.57 L1207.04,1045.64 L1207.74,1043.94 L1208.40,1043.00 L1208.97,1043.48 L1209.45,1044.94 L1209.93,1046.20 L1210.50,1046.10 L1211.23,1043.49 L1212.05,1039.26 L1212.87,1035.35 L1213.60,1033.70 L1214.15,1035.65 L1214.59,1039.88 L1215.06,1044.38 L1215.70,1047.10 L1216.56,1046.70 L1217.56,1044.52 L1218.65,1042.61 L1219.80,1043.00 L1221.02,1047.58 L1222.33,1054.81 L1223.67,1061.59 L1225.00,1064.80 L1226.32,1062.10 L1227.66,1055.64 L1228.97,1049.09 L1230.20,1046.10 L1231.30,1048.66 L1232.31,1054.47 L1233.31,1060.78 L1234.40,1064.80 L1235.68,1065.41 L1237.08,1064.23 L1238.41,1062.55 L1239.50,1061.70 L1240.21,1062.60 L1240.67,1064.36 L1241.07,1065.56 L1241.60,1064.80 L1242.30,1060.28 L1243.09,1053.23 L1243.90,1046.76 L1244.70,1044.00 L1245.43,1047.06 L1246.12,1053.86 L1246.88,1061.17 L1247.80,1065.80 L1249.00,1066.40 L1250.40,1064.86 L1251.80,1062.76 L1253.00,1061.70 L1253.87,1062.66 L1254.55,1064.59 L1255.23,1066.11 L1256.10,1065.80 L1257.30,1062.10 L1258.70,1056.16 L1260.10,1050.63 L1261.30,1048.20 L1262.25,1050.73 L1263.04,1056.42 L1263.74,1062.40 L1264.40,1065.80 L1264.97,1064.96 L1265.45,1061.71 L1265.93,1058.43 L1266.50,1057.50 L1267.16,1060.82 L1267.86,1066.71 L1268.65,1072.14 L1269.60,1074.10 L1270.73,1070.35 L1272.01,1062.96 L1273.38,1055.45 L1274.80,1051.30 L1276.30,1052.00 L1277.90,1055.49 L1279.50,1059.99 L1281.00,1063.70 L1282.39,1066.16 L1283.72,1068.33 L1284.99,1070.53 L1286.20,1073.10 L1287.35,1076.72 L1288.43,1081.02 L1289.45,1084.74 L1290.40,1086.60 L1291.23,1085.54 L1291.96,1082.48 L1292.68,1079.13 L1293.50,1077.20 L1294.55,1077.39 L1295.74,1078.71 L1296.84,1080.33 L1297.60,1081.40" fill="none" stroke="#63b3d7" stroke-width="3.90" stroke-linejoin="round" stroke-linecap="round"/>
</svg>
</body></html>
